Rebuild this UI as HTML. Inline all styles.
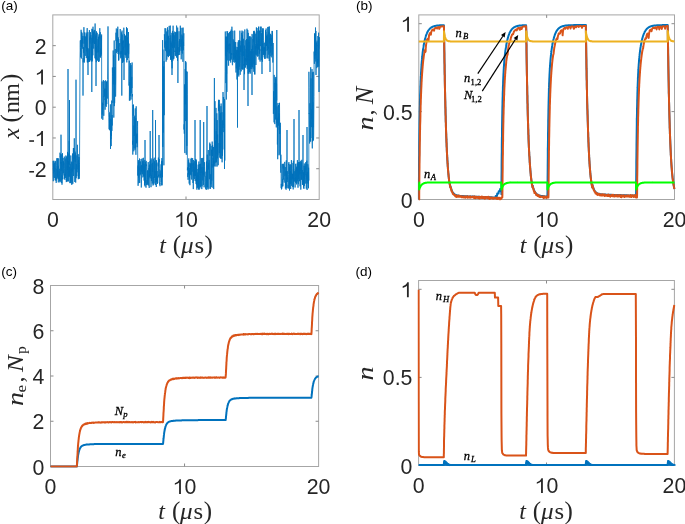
<!DOCTYPE html>
<html><head><meta charset="utf-8"><style>
html,body{margin:0;padding:0;background:#fff;}
svg{display:block;will-change:transform;}
.tk{font-family:"Liberation Sans",sans-serif;font-size:21.3px;fill:#262626;}
.pl{font-family:"Liberation Sans",sans-serif;font-size:13.5px;fill:#000;}
.lab{font-family:"Liberation Serif",serif;font-size:24.5px;fill:#262626;}
.it{font-style:italic;}
.an{font-family:"Liberation Serif",serif;font-style:italic;font-size:12px;fill:#000;stroke:#000;stroke-width:0.3px;}
.sub{font-size:9px;}
</style></head><body>
<svg width="685" height="524" viewBox="0 0 685 524">
<rect width="685" height="524" fill="#fff"/>
<rect x="52.8" y="14.9" width="266.40" height="184.60" fill="none" stroke="#a6a6a6" stroke-width="1"/>
<line x1="52.8" y1="168.73" x2="55.8" y2="168.73" stroke="#8a8a8a" stroke-width="1"/>
<line x1="319.2" y1="168.73" x2="316.2" y2="168.73" stroke="#8a8a8a" stroke-width="1"/>
<line x1="52.8" y1="137.97" x2="55.8" y2="137.97" stroke="#8a8a8a" stroke-width="1"/>
<line x1="319.2" y1="137.97" x2="316.2" y2="137.97" stroke="#8a8a8a" stroke-width="1"/>
<line x1="52.8" y1="107.20" x2="55.8" y2="107.20" stroke="#8a8a8a" stroke-width="1"/>
<line x1="319.2" y1="107.20" x2="316.2" y2="107.20" stroke="#8a8a8a" stroke-width="1"/>
<line x1="52.8" y1="76.43" x2="55.8" y2="76.43" stroke="#8a8a8a" stroke-width="1"/>
<line x1="319.2" y1="76.43" x2="316.2" y2="76.43" stroke="#8a8a8a" stroke-width="1"/>
<line x1="52.8" y1="45.67" x2="55.8" y2="45.67" stroke="#8a8a8a" stroke-width="1"/>
<line x1="319.2" y1="45.67" x2="316.2" y2="45.67" stroke="#8a8a8a" stroke-width="1"/>
<line x1="186.00" y1="199.5" x2="186.00" y2="196.5" stroke="#8a8a8a" stroke-width="1"/>
<line x1="186.00" y1="14.9" x2="186.00" y2="17.9" stroke="#8a8a8a" stroke-width="1"/>
<rect x="418.8" y="14.9" width="255.70" height="184.60" fill="none" stroke="#a6a6a6" stroke-width="1"/>
<line x1="418.8" y1="111.60" x2="421.8" y2="111.60" stroke="#8a8a8a" stroke-width="1"/>
<line x1="674.5" y1="111.60" x2="671.5" y2="111.60" stroke="#8a8a8a" stroke-width="1"/>
<line x1="418.8" y1="23.69" x2="421.8" y2="23.69" stroke="#8a8a8a" stroke-width="1"/>
<line x1="674.5" y1="23.69" x2="671.5" y2="23.69" stroke="#8a8a8a" stroke-width="1"/>
<line x1="546.65" y1="199.5" x2="546.65" y2="196.5" stroke="#8a8a8a" stroke-width="1"/>
<line x1="546.65" y1="14.9" x2="546.65" y2="17.9" stroke="#8a8a8a" stroke-width="1"/>
<rect x="50.5" y="285.5" width="268.10" height="181.00" fill="none" stroke="#a6a6a6" stroke-width="1"/>
<line x1="50.5" y1="421.25" x2="53.5" y2="421.25" stroke="#8a8a8a" stroke-width="1"/>
<line x1="318.6" y1="421.25" x2="315.6" y2="421.25" stroke="#8a8a8a" stroke-width="1"/>
<line x1="50.5" y1="376.00" x2="53.5" y2="376.00" stroke="#8a8a8a" stroke-width="1"/>
<line x1="318.6" y1="376.00" x2="315.6" y2="376.00" stroke="#8a8a8a" stroke-width="1"/>
<line x1="50.5" y1="330.75" x2="53.5" y2="330.75" stroke="#8a8a8a" stroke-width="1"/>
<line x1="318.6" y1="330.75" x2="315.6" y2="330.75" stroke="#8a8a8a" stroke-width="1"/>
<line x1="184.55" y1="466.5" x2="184.55" y2="463.5" stroke="#8a8a8a" stroke-width="1"/>
<line x1="184.55" y1="285.5" x2="184.55" y2="288.5" stroke="#8a8a8a" stroke-width="1"/>
<rect x="418.6" y="280.5" width="255.80" height="185.00" fill="none" stroke="#a6a6a6" stroke-width="1"/>
<line x1="418.6" y1="377.40" x2="421.6" y2="377.40" stroke="#8a8a8a" stroke-width="1"/>
<line x1="674.4" y1="377.40" x2="671.4" y2="377.40" stroke="#8a8a8a" stroke-width="1"/>
<line x1="418.6" y1="289.31" x2="421.6" y2="289.31" stroke="#8a8a8a" stroke-width="1"/>
<line x1="674.4" y1="289.31" x2="671.4" y2="289.31" stroke="#8a8a8a" stroke-width="1"/>
<line x1="546.50" y1="465.5" x2="546.50" y2="462.5" stroke="#8a8a8a" stroke-width="1"/>
<line x1="546.50" y1="280.5" x2="546.50" y2="283.5" stroke="#8a8a8a" stroke-width="1"/>
<clipPath id="cpa"><rect x="51.599999999999994" y="13.700000000000001" width="268.79999999999995" height="187.0"/></clipPath><g clip-path="url(#cpa)"><polyline points="53.0,160.8 53.1,171.3 53.3,181.2 53.4,160.8 53.6,173.4 53.7,170.5 53.8,164.5 54.0,177.6 54.1,170.6 54.3,171.5 54.4,162.7 54.5,169.8 54.7,172.6 54.8,178.0 55.0,160.8 55.1,164.6 55.2,180.3 55.4,161.3 55.5,162.7 55.7,164.3 55.8,166.3 55.9,180.6 56.1,168.8 56.2,182.9 56.4,177.2 56.5,179.1 56.6,165.4 56.8,159.8 56.9,158.1 57.1,169.4 57.2,176.4 57.3,159.1 57.5,177.7 57.6,162.3 57.8,158.0 57.9,176.0 58.0,179.2 58.2,165.5 58.3,182.4 58.5,166.2 58.6,165.5 58.7,158.5 58.9,167.8 59.0,179.1 59.2,171.4 59.3,175.2 59.4,181.2 59.6,173.5 59.7,168.8 59.9,182.4 60.0,152.7 60.1,157.1 60.3,156.5 60.4,163.8 60.6,181.5 60.7,157.0 60.8,154.2 61.0,163.6 61.0,134.7 61.1,170.7 61.3,162.7 61.4,163.6 61.5,162.4 61.7,183.0 61.8,154.5 62.0,184.7 62.1,175.7 62.2,179.3 62.4,156.5 62.5,153.2 62.7,176.9 62.8,178.2 62.9,179.2 63.1,158.0 63.2,169.7 63.4,173.2 63.5,161.3 63.6,165.1 63.8,162.9 63.9,167.0 64.1,175.4 64.2,161.9 64.3,156.6 64.5,168.3 64.6,179.5 64.8,174.2 64.9,178.1 65.0,174.5 65.2,177.9 65.3,158.5 65.5,175.9 65.6,171.7 65.7,168.1 65.9,155.5 66.0,180.0 66.2,179.6 66.3,182.1 66.4,182.0 66.6,156.5 66.7,168.3 66.9,181.2 67.0,173.6 67.1,170.7 67.3,157.9 67.4,181.5 67.6,151.9 67.7,167.4 67.8,153.0 68.0,170.0 68.0,69.0 68.1,165.9 68.3,176.1 68.4,161.4 68.5,181.4 68.7,166.5 68.8,176.9 69.0,154.2 69.1,164.0 69.2,140.8 69.4,164.8 69.5,100.0 69.5,176.5 69.7,167.1 69.8,183.1 69.9,182.1 70.1,165.5 70.2,164.1 70.4,171.3 70.5,174.4 70.6,183.1 70.8,155.5 70.9,181.5 71.1,172.0 71.2,164.4 71.3,161.6 71.5,162.7 71.6,168.3 71.8,184.9 71.9,167.8 72.0,183.8 72.2,162.3 72.3,171.6 72.5,153.5 72.6,171.2 72.7,182.5 72.9,183.7 73.0,167.5 73.2,164.6 73.3,152.0 73.4,148.0 73.6,176.0 73.7,163.4 73.9,148.2 74.0,169.3 74.1,165.3 74.3,138.3 74.4,158.5 74.6,155.0 74.7,162.5 74.8,182.0 75.0,157.0 75.1,151.6 75.3,161.8 75.4,153.2 75.5,171.8 75.7,182.6 75.8,172.8 76.0,158.5 76.0,79.7 76.1,175.7 76.2,178.2 76.4,164.1 76.5,164.9 76.7,165.7 76.8,176.2 76.9,155.4 77.1,172.3 77.2,160.5 77.4,144.8 77.5,152.1 77.6,155.2 77.8,158.0 77.9,169.3 78.1,163.1 78.2,154.2 78.3,179.2 78.5,159.8 78.6,178.4 78.8,163.0 78.9,175.7 79.0,157.0 79.2,174.6 79.3,178.8 79.5,164.3 80.0,59.0 80.2,47.5 80.3,40.5 80.4,47.5 80.6,52.3 80.7,57.4 80.9,40.0 81.0,40.8 81.1,29.8 81.3,45.3 81.4,58.5 81.6,49.0 81.7,31.9 81.8,46.7 82.0,33.2 82.1,38.2 82.3,48.7 82.4,38.3 82.5,40.0 82.7,43.3 82.8,35.9 83.0,61.3 83.0,95.6 83.1,58.2 83.2,62.3 83.4,60.9 83.5,47.2 83.7,52.8 83.8,49.6 83.9,27.2 84.1,43.8 84.2,36.1 84.4,62.5 84.5,61.7 84.6,32.4 84.8,39.6 84.9,36.1 85.1,39.6 85.2,43.0 85.3,55.9 85.5,46.0 85.6,36.8 85.8,37.7 85.9,47.4 86.0,38.4 86.2,32.6 86.3,58.1 86.5,53.0 86.6,34.4 86.7,35.3 86.9,51.3 87.0,35.5 87.2,28.1 87.3,62.3 87.4,47.7 87.6,59.4 87.7,62.3 87.9,32.2 88.0,75.0 88.0,48.1 88.1,53.1 88.3,60.1 88.4,62.1 88.6,56.1 88.7,59.2 88.8,58.5 89.0,49.3 89.1,52.4 89.3,61.9 89.4,30.1 89.5,61.3 89.7,37.7 89.8,42.8 90.0,43.5 90.1,36.4 90.2,37.0 90.4,39.2 90.5,32.2 90.7,60.3 90.8,58.3 90.9,35.1 91.1,53.6 91.2,61.5 91.4,59.9 91.5,46.6 91.6,57.5 91.8,37.8 91.8,92.0 91.9,28.8 92.1,48.2 92.2,61.4 92.3,60.8 92.5,53.3 92.6,29.4 92.8,54.2 92.9,55.3 93.0,26.7 93.2,42.6 93.3,36.0 93.5,39.1 93.6,32.5 93.7,48.6 93.9,30.6 94.0,33.4 94.2,32.4 94.3,34.1 94.4,44.0 94.6,39.7 94.7,29.9 94.9,32.7 95.0,58.3 95.1,23.5 95.3,42.3 95.4,51.4 95.6,35.7 95.7,47.2 95.8,59.4 96.0,33.6 96.0,86.0 96.1,47.1 96.3,62.2 96.4,54.2 96.5,31.3 96.7,37.6 96.8,40.9 97.0,52.6 97.1,36.9 97.2,32.8 97.4,57.1 97.5,60.6 97.7,52.1 97.8,46.0 97.9,46.2 98.1,39.1 98.2,52.4 98.4,41.3 98.5,36.7 98.6,62.0 98.8,58.3 98.9,34.4 99.1,51.9 99.2,61.4 99.3,53.1 99.5,34.2 99.6,38.4 99.8,28.2 99.9,49.6 100.0,57.2 100.2,54.5 100.3,32.2 100.5,39.2 100.6,57.6 100.7,48.6 100.9,56.0 101.0,53.7 101.2,48.8 101.3,36.0 101.4,54.4 101.6,34.5 101.7,118.6 101.9,115.4 102.0,88.1 102.1,81.5 102.3,114.4 102.4,113.4 102.6,102.7 102.7,104.2 102.8,119.8 103.0,104.0 103.1,104.8 103.3,83.5 103.4,80.1 103.5,89.3 103.7,104.7 103.8,115.8 104.0,95.9 104.1,97.3 104.2,81.1 104.4,95.9 104.5,91.0 104.7,88.7 104.8,99.7 104.9,98.6 105.1,109.7 105.2,104.2 105.4,80.3 105.5,90.8 105.6,102.8 105.8,105.7 105.9,88.7 106.1,104.5 106.2,106.9 106.3,93.5 106.5,81.8 106.6,98.8 106.8,104.1 106.9,83.8 107.0,80.9 107.2,81.8 107.3,98.6 107.5,79.5 108.0,26.4 108.6,111.3 108.7,110.9 108.9,117.3 109.0,123.2 109.1,129.3 109.3,113.2 109.4,112.4 109.6,129.8 109.7,115.3 109.8,129.2 110.0,125.3 110.1,130.5 110.3,117.4 110.4,104.4 110.5,149.0 110.5,121.4 110.7,119.3 110.8,139.1 111.0,139.1 111.1,126.3 111.2,146.1 111.4,119.9 111.5,135.8 111.7,100.6 111.8,119.9 111.9,130.9 112.1,115.0 112.2,125.5 112.4,67.5 112.5,73.4 112.6,76.5 112.8,100.6 112.9,102.9 113.1,87.6 113.2,50.5 113.3,84.4 113.5,62.5 113.6,55.3 113.8,117.6 113.9,109.9 114.0,86.9 114.2,40.5 114.3,106.1 114.5,70.0 114.6,103.2 114.7,101.2 114.9,67.0 115.0,84.7 115.2,51.9 115.3,49.0 115.4,58.8 115.6,96.6 115.7,91.9 115.9,78.0 116.0,32.7 116.1,41.1 116.3,28.5 116.4,29.7 116.6,53.1 116.7,51.2 116.8,40.2 117.0,44.8 117.1,51.9 117.3,48.3 117.4,38.7 117.5,29.1 117.7,41.4 117.8,26.7 118.0,44.0 118.1,54.0 118.2,37.4 118.4,41.5 118.5,60.4 118.7,39.1 118.8,60.4 118.9,59.6 119.1,52.9 119.2,51.3 119.4,47.5 119.5,46.8 119.6,44.0 119.8,43.0 119.9,52.7 120.1,54.5 120.2,29.0 120.3,38.0 120.5,38.2 120.6,54.5 120.8,58.3 120.9,51.5 121.0,57.4 121.2,51.1 121.3,53.8 121.5,53.4 121.6,32.4 121.7,61.8 121.8,95.6 121.9,42.1 122.0,30.6 122.2,45.5 122.3,34.6 122.4,62.6 122.6,41.0 122.7,62.8 122.9,51.6 123.0,40.8 123.1,43.2 123.3,40.5 123.4,49.5 123.6,46.8 123.7,61.6 123.8,27.7 124.0,35.8 124.0,80.0 124.1,40.3 124.3,39.1 124.4,36.7 124.5,34.0 124.7,41.9 124.8,54.8 125.0,44.9 125.1,35.8 125.2,47.3 125.4,36.2 125.5,35.7 125.7,55.4 125.8,38.9 125.9,57.8 126.1,52.9 126.2,54.9 126.4,41.1 126.5,27.2 126.6,47.9 126.8,62.4 126.9,28.1 127.1,40.2 127.2,28.5 127.3,60.0 127.5,37.3 127.6,48.3 127.8,48.5 127.9,52.9 128.0,47.6 128.2,41.5 128.3,58.1 128.5,32.0 128.6,54.2 128.7,51.1 128.9,43.6 129.0,85.6 129.2,71.4 129.3,60.7 129.4,100.6 129.6,82.0 129.7,88.1 129.9,90.2 130.0,100.5 130.1,66.0 130.3,66.2 130.4,95.9 130.6,63.1 130.7,89.5 130.8,79.8 131.0,99.5 131.1,65.1 131.3,93.4 131.4,78.0 131.5,80.4 131.7,76.9 131.8,88.0 132.0,88.1 132.1,62.5 132.2,96.5 132.4,94.0 132.5,144.6 132.7,140.8 132.8,154.6 132.9,146.1 133.1,104.9 133.2,115.6 133.4,110.2 133.5,104.6 133.6,118.8 133.8,151.3 133.9,125.5 134.1,148.3 134.2,117.1 134.3,136.0 134.5,132.2 134.6,118.5 134.8,115.7 134.9,119.4 135.0,149.9 135.2,109.5 135.3,108.4 135.5,148.3 135.6,129.5 135.7,118.1 135.9,154.8 136.0,131.8 136.2,106.3 136.3,111.2 136.4,142.6 136.6,134.6 136.7,143.4 136.9,139.5 137.0,133.5 137.1,147.2 137.3,143.8 137.4,126.7 137.6,121.1 137.7,166.8 137.8,175.6 138.0,165.6 138.1,185.8 138.3,165.9 138.4,160.1 138.5,177.5 138.7,161.6 138.8,183.2 139.0,183.0 139.1,177.1 139.2,167.9 139.4,170.2 139.5,158.5 139.7,182.9 139.8,180.3 139.9,171.6 140.1,166.3 140.2,175.3 140.4,161.4 140.5,163.2 140.6,164.2 140.8,174.0 140.9,172.6 141.1,159.0 141.2,173.9 141.3,187.5 141.5,179.7 141.6,165.4 141.8,172.2 141.9,165.0 142.0,170.8 142.2,158.4 142.3,159.6 142.5,174.2 142.6,163.3 142.7,161.5 142.9,177.4 143.0,175.4 143.2,161.3 143.3,170.4 143.4,157.8 143.6,176.4 143.7,169.8 143.9,166.9 144.0,174.4 144.1,180.6 144.3,164.8 144.4,164.3 144.6,185.2 144.7,161.1 144.8,160.1 145.0,186.4 145.0,140.0 145.1,182.9 145.3,178.0 145.4,179.8 145.5,162.0 145.7,170.9 145.8,180.7 146.0,187.7 146.1,176.9 146.2,160.9 146.4,166.0 146.5,164.5 146.7,170.6 146.8,185.0 146.9,181.0 147.1,180.0 147.2,184.8 147.4,170.3 147.5,172.0 147.6,183.7 147.8,180.3 147.9,170.9 148.1,179.5 148.2,162.1 148.3,185.5 148.5,184.1 148.6,179.2 148.8,171.1 148.9,168.2 149.0,175.4 149.2,187.9 149.3,165.4 149.5,169.6 149.6,177.2 149.7,164.5 149.9,170.8 150.0,161.1 150.2,178.4 150.2,131.0 150.3,175.4 150.4,165.2 150.6,166.9 150.7,175.4 150.9,159.8 151.0,187.2 151.1,158.4 151.3,162.6 151.4,181.1 151.6,175.2 151.7,179.1 151.8,177.4 152.0,171.7 152.1,164.2 152.3,183.5 152.4,162.8 152.5,166.1 152.7,171.9 152.7,110.0 152.8,171.8 153.0,185.5 153.1,181.5 153.2,161.0 153.4,159.2 153.5,176.4 153.7,184.8 153.8,183.9 153.9,176.5 154.1,183.4 154.2,157.7 154.4,177.7 154.5,161.3 154.6,176.6 154.8,177.7 154.9,177.5 155.1,171.2 155.2,180.0 155.3,179.5 155.5,185.1 155.5,120.0 155.6,159.1 155.8,168.9 155.9,172.1 156.0,181.8 156.2,163.7 156.3,187.0 156.5,160.2 156.6,176.3 156.7,163.5 156.9,181.9 157.0,173.8 157.2,171.1 157.3,177.5 157.4,183.9 157.6,176.1 157.7,183.1 157.9,177.7 158.0,173.0 158.1,162.5 158.3,166.3 158.4,157.6 158.6,176.3 158.7,174.7 158.8,177.5 159.0,175.5 159.0,135.0 159.1,162.1 159.3,159.1 159.4,168.3 159.5,171.2 159.7,184.5 159.8,182.6 160.0,186.2 160.1,171.7 160.2,170.5 160.4,177.7 160.5,173.8 160.7,176.1 160.8,173.1 160.9,171.0 161.1,164.3 161.2,182.0 161.4,163.5 161.5,161.2 161.6,185.3 161.8,182.4 161.9,158.1 162.1,185.3 162.2,169.8 162.3,160.8 162.5,177.2 162.6,40.1 162.8,146.9 162.9,49.5 163.0,50.1 163.2,132.6 163.3,92.1 163.5,108.5 163.6,66.5 163.7,107.2 163.9,165.3 164.0,61.2 164.2,115.2 164.3,70.9 164.4,34.3 164.6,38.1 164.7,47.5 164.9,39.1 165.0,28.2 165.1,44.3 165.3,41.5 165.4,50.8 165.6,46.6 165.7,43.7 165.8,28.4 166.0,38.9 166.1,61.7 166.3,40.4 166.4,51.9 166.5,52.3 166.7,31.5 166.8,59.8 167.0,55.4 167.1,55.3 167.2,46.4 167.4,49.0 167.5,27.3 167.7,56.1 167.8,37.1 167.9,29.9 168.1,56.4 168.2,37.2 168.4,37.7 168.5,57.1 168.6,35.8 168.8,38.2 168.9,37.5 169.1,37.1 169.2,25.9 169.3,56.0 169.5,55.5 169.6,49.5 169.8,52.7 169.9,38.1 170.0,54.6 170.2,28.6 170.3,25.6 170.5,59.8 170.6,53.7 170.7,35.3 170.9,58.7 171.0,41.6 171.2,46.7 171.3,43.2 171.4,56.8 171.6,61.7 171.7,41.0 171.9,32.9 172.0,75.0 172.0,56.0 172.1,68.3 172.3,33.8 172.4,31.7 172.6,30.9 172.7,48.1 172.8,33.2 173.0,60.5 173.1,25.7 173.3,58.7 173.4,42.9 173.5,33.2 173.7,45.1 173.8,58.8 174.0,57.5 174.1,52.8 174.2,36.3 174.4,35.4 174.5,47.7 174.7,31.6 174.8,45.2 174.9,52.0 175.1,50.6 175.2,55.6 175.4,46.5 175.5,41.2 175.6,32.3 175.8,56.1 175.9,41.3 176.1,32.0 176.2,40.8 176.3,48.5 176.5,57.6 176.6,25.6 176.8,29.5 176.9,30.2 177.0,37.3 177.2,53.8 177.3,31.5 177.5,60.9 177.6,35.9 177.7,27.6 177.9,48.3 177.9,83.0 178.0,55.9 178.2,46.7 178.3,55.2 178.4,53.9 178.6,54.5 178.7,47.1 178.9,40.6 179.0,31.3 179.1,46.2 179.3,40.7 179.4,52.1 179.6,39.0 179.7,54.9 179.8,46.4 180.0,50.7 180.1,42.6 180.3,25.7 180.4,34.5 180.5,44.7 180.7,46.7 180.8,27.8 181.0,43.0 181.1,46.8 181.2,59.3 181.4,53.8 181.5,39.3 181.7,48.4 181.8,34.6 181.9,50.7 182.1,27.9 182.2,51.1 182.4,53.6 182.5,35.8 182.6,48.0 182.8,47.5 182.9,61.8 183.1,27.6 183.2,37.1 183.3,50.2 183.5,41.8 183.6,46.0 183.8,33.3 183.9,51.2 184.0,129.5 184.2,124.3 184.3,133.7 184.5,84.4 184.6,117.7 184.7,149.9 184.9,153.1 185.0,121.2 185.2,69.0 185.3,80.4 185.4,104.3 185.6,61.1 185.7,121.1 185.9,96.8 186.0,62.3 186.1,133.4 186.3,154.8 186.4,132.1 186.6,126.3 186.7,71.3 186.8,145.9 187.0,74.7 187.1,71.8 187.3,94.3 187.4,170.4 187.5,167.5 187.7,170.3 187.8,176.9 188.0,173.2 188.1,179.8 188.2,170.0 188.4,160.2 188.5,174.5 188.7,159.4 188.8,158.4 188.9,172.2 189.1,162.6 189.2,183.6 189.4,170.2 189.5,173.7 189.6,178.6 189.8,168.0 189.9,185.2 190.1,163.7 190.2,166.9 190.3,165.3 190.5,164.8 190.6,174.7 190.8,163.3 190.9,169.6 191.0,158.9 191.2,175.4 191.3,157.9 191.5,170.8 191.6,179.5 191.7,177.9 191.9,165.1 192.0,163.1 192.2,171.7 192.3,166.6 192.4,163.8 192.6,158.1 192.7,159.2 192.9,178.8 193.0,183.0 193.1,163.5 193.3,189.1 193.4,160.0 193.6,175.1 193.7,176.1 193.8,162.8 194.0,172.7 194.1,167.2 194.3,171.3 194.4,179.1 194.5,174.2 194.7,161.2 194.8,176.0 195.0,157.7 195.0,120.0 195.1,171.3 195.2,181.0 195.4,170.5 195.5,175.9 195.7,158.9 195.8,170.3 195.9,160.5 196.1,184.1 196.2,159.7 196.4,182.3 196.5,161.9 196.6,184.6 196.8,180.1 196.9,189.7 197.1,169.0 197.2,188.1 197.3,175.5 197.5,180.8 197.6,172.5 197.8,184.3 197.9,187.0 198.0,174.5 198.2,164.6 198.3,180.3 198.5,189.4 198.6,168.2 198.7,186.0 198.9,161.5 199.0,180.7 199.2,189.7 199.3,182.9 199.4,175.4 199.6,164.1 199.7,167.6 199.9,188.4 200.0,181.7 200.1,170.0 200.2,120.0 200.3,187.0 200.4,169.8 200.6,163.8 200.7,170.2 200.8,186.0 201.0,182.9 201.1,167.0 201.3,172.9 201.4,158.1 201.5,177.0 201.7,186.7 201.8,189.1 202.0,171.0 202.1,186.4 202.2,168.3 202.4,158.2 202.5,172.4 202.7,178.1 202.8,180.4 202.9,167.1 203.1,174.8 203.2,157.8 203.4,184.9 203.5,169.9 203.6,174.2 203.7,122.0 203.8,159.9 203.9,175.4 204.1,187.3 204.2,182.7 204.3,175.3 204.5,166.4 204.6,162.2 204.8,172.1 204.9,176.5 205.0,171.7 205.2,177.5 205.3,181.6 205.5,188.8 205.6,188.7 205.7,176.7 205.9,176.2 206.0,178.5 206.2,189.7 206.3,190.0 206.4,169.9 206.6,161.5 206.7,177.0 206.9,186.8 207.0,106.0 207.0,188.6 207.1,175.0 207.3,154.7 207.4,183.0 207.6,187.1 207.7,165.6 207.8,171.5 208.0,189.5 208.1,181.4 208.3,150.0 208.4,169.4 208.5,168.7 208.7,162.8 208.8,167.1 209.0,188.7 209.1,159.9 209.2,162.1 209.4,178.2 209.5,179.2 209.7,146.5 209.8,142.6 209.9,155.7 210.1,144.1 210.2,163.0 210.4,188.9 210.5,185.2 210.6,176.1 210.8,174.2 210.9,184.2 211.1,145.8 211.2,146.7 211.3,187.2 211.5,149.7 211.6,167.3 211.8,180.6 211.9,164.0 212.0,167.7 212.2,141.6 212.3,145.7 212.5,156.1 212.6,145.2 212.7,160.6 212.9,187.8 213.0,157.8 213.2,165.3 213.3,166.3 213.4,147.0 213.6,179.8 213.7,189.1 213.9,161.1 214.0,164.1 214.1,147.3 214.3,145.2 214.4,78.0 214.4,166.4 214.6,118.0 214.7,139.4 214.8,123.6 215.0,101.2 215.1,128.1 215.3,130.7 215.4,162.6 215.5,140.6 215.7,145.6 215.8,166.5 216.0,107.9 216.1,139.1 216.2,148.0 216.4,131.2 216.5,162.3 216.7,154.7 216.8,113.3 216.9,141.2 217.1,166.5 217.2,120.1 217.4,137.1 217.5,158.3 217.6,134.5 217.8,155.4 217.9,143.0 218.1,158.1 218.2,165.2 218.3,108.6 218.5,100.3 218.6,111.1 218.8,107.0 218.9,99.7 219.0,100.0 219.0,109.4 219.2,100.0 219.3,153.1 219.5,104.5 219.6,123.5 219.7,150.9 219.9,157.4 220.0,114.2 220.2,158.1 220.3,143.0 220.4,147.3 220.6,112.8 220.7,158.7 220.9,106.1 221.0,135.1 221.1,103.5 221.3,123.6 221.4,125.1 221.6,149.6 221.7,158.7 221.8,139.9 222.0,112.2 222.1,162.3 222.3,140.6 222.4,120.4 222.5,155.9 222.7,148.0 222.8,123.4 223.0,128.0 223.0,92.0 223.1,100.5 223.2,124.9 223.4,97.0 223.5,99.3 223.7,97.5 223.8,132.1 223.9,101.3 224.1,115.7 224.2,149.4 224.4,124.6 224.5,169.0 224.6,99.1 224.8,160.6 224.9,99.4 225.1,71.8 225.2,49.3 225.3,31.5 225.5,56.5 225.6,36.7 225.8,80.2 225.9,83.1 226.0,56.9 226.2,66.7 226.3,99.5 226.5,36.6 226.6,73.8 226.7,41.3 226.9,91.9 227.0,31.1 227.2,37.1 227.3,60.4 227.4,49.2 227.6,31.5 227.7,51.7 227.9,33.3 228.0,46.8 228.1,49.6 228.3,33.3 228.4,46.8 228.6,65.7 228.7,54.0 228.8,51.5 229.0,44.8 229.1,53.4 229.3,43.5 229.4,45.8 229.5,31.9 229.7,46.7 229.8,60.5 230.0,58.8 230.1,44.0 230.2,60.7 230.4,34.7 230.5,31.2 230.7,62.6 230.8,50.8 230.9,44.7 231.1,42.3 231.2,29.6 231.4,59.5 231.5,58.7 231.6,53.0 231.8,55.0 231.9,26.7 232.1,32.4 232.2,34.5 232.3,64.3 232.5,65.2 232.6,64.1 232.8,58.2 232.9,30.8 233.0,51.3 233.2,62.1 233.3,39.4 233.5,54.2 233.6,59.0 233.7,53.1 233.9,60.1 234.0,41.7 234.2,41.8 234.3,41.5 234.4,45.0 234.6,62.6 234.7,30.6 234.9,58.6 235.0,42.1 235.1,48.8 235.3,46.8 235.4,54.3 235.6,62.0 235.7,42.1 235.8,56.5 236.0,72.5 236.1,46.8 236.3,61.4 236.4,68.4 236.5,50.2 236.7,49.8 236.8,70.3 237.0,79.5 237.1,57.7 237.2,53.6 237.4,50.1 237.5,127.6 237.5,54.3 237.7,47.0 237.8,49.3 237.9,70.6 238.1,42.2 238.2,74.8 238.4,40.3 238.5,46.7 238.6,56.0 238.8,76.5 238.9,44.5 239.1,69.7 239.2,51.9 239.3,59.8 239.5,40.0 239.6,66.7 239.8,58.8 239.9,30.7 240.0,57.3 240.2,74.8 240.3,63.7 240.5,55.2 240.6,45.5 240.7,51.8 240.9,40.8 241.0,54.1 241.2,71.4 241.3,69.2 241.4,37.9 241.6,36.6 241.7,32.8 241.9,69.0 242.0,30.6 242.1,56.2 242.3,49.4 242.4,35.3 242.6,69.5 242.7,44.3 242.8,33.5 243.0,31.4 243.1,69.5 243.3,66.5 243.4,38.8 243.5,43.8 243.7,53.2 243.8,56.0 244.0,51.5 244.0,90.0 244.1,64.0 244.2,65.7 244.4,45.6 244.5,74.2 244.7,50.7 244.8,29.5 244.9,67.2 245.1,64.3 245.2,60.7 245.4,58.1 245.5,65.3 245.6,67.6 245.8,40.2 245.9,60.8 246.1,49.1 246.2,58.4 246.3,61.7 246.5,39.0 246.6,65.2 246.8,42.9 246.9,55.3 247.0,28.7 247.2,68.9 247.3,47.6 247.5,67.5 247.6,39.1 247.7,30.0 247.9,31.5 248.0,106.0 248.0,39.0 248.2,73.6 248.3,32.9 248.4,60.6 248.6,49.0 248.7,63.1 248.9,73.7 249.0,36.7 249.1,55.3 249.3,69.7 249.4,42.2 249.6,72.1 249.7,36.4 249.8,61.2 250.0,59.1 250.1,36.3 250.3,73.6 250.4,51.2 250.5,53.7 250.7,68.9 250.8,57.7 251.0,39.2 251.1,37.3 251.2,44.0 251.4,66.5 251.5,56.3 251.7,49.0 251.8,69.1 251.9,51.6 252.0,95.0 252.1,33.9 252.2,58.8 252.4,51.4 252.5,67.3 252.6,45.6 252.8,50.5 252.9,39.0 253.1,64.2 253.2,35.4 253.3,36.7 253.5,42.2 253.6,31.2 253.8,71.8 253.9,51.0 254.0,68.8 254.2,30.8 254.3,61.3 254.5,74.2 254.6,54.8 254.7,31.8 254.9,74.5 255.0,64.1 255.2,46.5 255.3,33.7 255.4,43.7 255.6,54.6 255.7,46.0 255.9,65.0 256.0,61.2 256.1,44.1 256.3,48.3 256.4,27.4 256.6,55.5 256.7,37.5 256.8,47.0 257.0,28.0 257.1,34.3 257.3,42.3 257.4,53.6 257.5,44.3 257.7,56.7 257.8,30.8 258.0,56.0 258.1,49.0 258.2,40.4 258.4,48.2 258.5,26.9 258.7,49.6 258.8,26.6 258.9,30.7 259.1,59.6 259.2,39.3 259.4,53.7 259.5,30.6 259.6,34.2 259.8,51.2 259.9,49.2 260.1,61.6 260.2,31.2 260.3,44.3 260.5,46.1 260.6,36.4 260.8,26.7 260.9,31.8 261.0,26.7 261.2,40.4 261.3,60.0 261.5,45.9 261.6,33.2 261.7,41.0 261.9,57.6 262.0,74.0 262.0,57.9 262.2,30.6 262.3,61.7 262.4,28.4 262.6,36.2 262.7,50.6 262.9,50.1 263.0,43.1 263.1,54.9 263.3,28.4 263.4,40.2 263.6,40.6 263.7,54.7 263.8,54.6 264.0,47.1 264.1,57.3 264.3,56.5 264.4,47.3 264.5,58.8 264.7,42.7 264.8,54.1 265.0,48.3 265.1,55.1 265.2,47.5 265.4,40.8 265.5,30.2 265.7,58.8 265.8,32.0 265.9,50.9 266.1,28.5 266.2,36.4 266.4,45.3 266.5,46.0 266.6,35.9 266.8,42.3 266.9,36.7 267.1,57.9 267.2,34.5 267.3,36.6 267.5,50.3 267.6,49.8 267.8,27.1 267.9,35.7 268.0,58.6 268.2,32.3 268.3,26.8 268.5,48.4 268.6,47.0 268.7,50.3 268.9,54.7 269.0,31.8 269.2,49.0 269.3,61.0 269.4,26.5 269.6,34.9 269.7,43.4 269.9,38.2 270.0,72.0 270.0,39.2 270.1,37.5 270.3,33.8 270.4,52.6 270.6,52.1 270.7,34.3 270.8,56.3 271.0,38.3 271.1,35.2 271.3,37.9 271.4,46.0 271.5,38.0 271.7,57.3 271.8,56.3 272.0,32.6 272.1,30.9 272.2,54.7 272.4,31.2 272.5,32.1 272.7,56.6 272.8,62.5 272.9,61.6 273.1,44.1 273.2,43.0 273.4,113.8 273.5,94.0 273.6,91.3 273.8,101.6 273.9,111.7 274.1,122.4 274.2,74.9 274.3,106.7 274.5,98.2 274.6,97.2 274.8,124.1 274.9,82.9 275.0,109.7 275.2,77.4 275.3,87.6 275.5,89.2 275.6,119.5 275.7,79.0 275.9,96.3 276.0,76.9 276.2,81.3 276.3,127.4 276.4,83.4 276.6,83.6 276.7,100.4 276.8,30.0 276.9,123.0 277.0,106.5 277.1,125.4 277.3,118.6 277.4,144.5 277.6,122.3 277.7,159.2 277.8,107.3 278.0,103.0 278.1,125.6 278.3,116.9 278.4,125.3 278.5,105.1 278.7,109.5 278.8,126.7 279.0,155.3 279.1,113.5 279.2,129.7 279.4,128.7 279.5,102.8 279.7,134.0 279.8,125.5 279.9,153.8 280.1,154.6 280.2,127.5 280.4,122.8 280.5,160.2 280.6,168.2 280.8,172.7 280.9,154.7 281.1,169.6 281.2,188.1 281.3,183.9 281.5,189.4 281.6,186.3 281.8,188.5 281.9,176.3 282.0,167.0 282.2,164.1 282.3,184.7 282.5,186.4 282.6,179.2 282.7,178.9 282.9,186.3 283.0,163.8 283.2,168.5 283.3,163.8 283.4,179.6 283.6,177.5 283.7,175.6 283.9,165.8 284.0,171.5 284.1,182.1 284.3,182.6 284.4,181.6 284.6,177.1 284.7,161.9 284.8,163.8 285.0,175.9 285.1,172.3 285.3,167.1 285.4,188.5 285.5,181.4 285.7,184.9 285.8,174.8 286.0,170.7 286.1,189.7 286.2,160.4 286.4,160.3 286.5,177.2 286.7,187.9 286.8,166.8 286.9,159.7 287.0,130.0 287.1,164.7 287.2,182.0 287.4,171.2 287.5,179.4 287.6,177.6 287.8,178.6 287.9,186.8 288.1,188.3 288.2,184.9 288.3,188.4 288.5,174.5 288.6,163.8 288.8,165.0 288.9,162.1 289.0,184.8 289.2,170.6 289.3,164.7 289.5,190.5 289.6,167.3 289.7,187.4 289.9,178.3 290.0,180.0 290.2,165.6 290.3,164.2 290.4,183.8 290.6,171.3 290.7,189.0 290.9,177.4 291.0,165.0 291.1,183.4 291.3,176.6 291.4,160.1 291.6,185.8 291.7,172.8 291.8,180.0 292.0,174.7 292.1,174.0 292.3,178.7 292.4,177.1 292.5,173.9 292.7,187.1 292.8,168.7 293.0,162.9 293.1,175.3 293.2,189.4 293.4,160.8 293.5,186.8 293.7,168.6 293.8,179.1 293.9,179.7 294.0,119.0 294.1,168.4 294.2,177.5 294.4,181.5 294.5,177.2 294.6,172.1 294.8,171.2 294.9,177.7 295.1,187.5 295.2,177.5 295.3,181.1 295.5,169.2 295.6,163.8 295.8,183.0 295.9,169.7 296.0,182.1 296.2,181.4 296.3,168.1 296.5,184.4 296.6,166.7 296.7,174.3 296.9,182.7 297.0,167.1 297.2,163.5 297.3,170.8 297.4,160.1 297.6,181.1 297.7,173.1 297.9,164.8 298.0,187.7 298.1,162.3 298.3,184.2 298.4,164.1 298.6,178.9 298.7,168.5 298.8,162.2 299.0,174.1 299.0,110.0 299.1,167.3 299.3,162.9 299.4,162.1 299.5,181.2 299.7,164.1 299.8,174.4 300.0,167.8 300.1,186.3 300.2,180.1 300.4,161.3 300.5,171.3 300.7,176.7 300.8,189.6 300.9,182.3 301.1,160.6 301.2,165.1 301.4,179.5 301.5,162.4 301.6,179.6 301.8,161.7 301.9,159.8 302.1,164.4 302.2,178.7 302.3,179.8 302.5,184.8 302.6,170.1 302.8,175.1 302.9,184.8 303.0,135.0 303.0,173.6 303.2,172.9 303.3,181.5 303.5,180.3 303.6,187.7 303.7,172.2 303.9,188.9 304.0,165.7 304.2,179.2 304.3,163.5 304.4,185.9 304.6,174.0 304.7,171.3 304.9,168.0 305.0,175.2 305.1,166.0 305.3,183.6 305.4,177.7 305.6,166.0 305.7,162.2 305.8,170.1 306.0,164.1 306.1,171.4 306.3,188.7 306.4,174.2 306.5,178.6 306.7,168.0 306.8,160.7 307.0,183.2 307.0,127.0 307.1,190.0 307.2,187.4 307.4,172.4 307.5,176.6 307.7,180.5 307.8,164.2 307.9,165.3 308.1,165.6 308.2,183.9 308.4,171.7 308.5,188.3 308.6,167.7 308.8,180.5 308.9,71.8 309.1,87.6 309.2,113.9 309.3,113.0 309.5,127.3 309.6,143.5 309.8,134.2 309.9,103.3 310.0,110.4 310.2,113.9 310.3,141.0 310.5,132.3 310.6,141.7 310.7,67.2 310.9,138.0 311.0,78.4 311.2,116.8 311.3,121.4 311.4,127.1 311.6,109.4 311.7,118.2 311.9,99.9 312.0,69.1 312.1,135.1 312.3,148.4 312.4,72.3 312.6,141.4 312.7,139.2 312.8,102.1 313.0,127.4 313.1,100.4 313.3,71.8 313.4,121.0 313.5,140.5 313.7,135.7 313.8,121.0 314.0,96.4 314.1,51.6 314.2,54.9 314.4,63.8 314.5,33.4 314.7,53.1 314.8,58.7 314.9,55.2 315.1,33.7 315.2,55.3 315.4,34.3 315.5,27.5 315.6,33.6 315.8,61.5 315.9,31.0 316.0,75.0 316.1,48.0 316.2,51.2 316.3,46.9 316.5,42.5 316.6,56.1 316.8,68.1 316.9,59.6 317.0,40.7 317.2,43.1 317.3,54.1 317.5,66.9 317.6,59.1 317.7,63.6 317.9,36.0 318.0,52.9 318.2,62.6 318.3,62.1 318.4,40.8 318.6,32.7 318.7,66.7 318.9,37.6 319.0,92.0 319.0,50.5 319.1,49.6 319.3,46.9 319.4,37.0" fill="none" stroke="#0072BD" stroke-width="0.8" stroke-linejoin="round"/></g>
<clipPath id="cpb"><rect x="417.6" y="13.700000000000001" width="258.09999999999997" height="187.0"/></clipPath><g clip-path="url(#cpb)"><polyline points="418.8,199.5 418.8,193.0 418.9,179.8 419.0,175.3 419.0,168.0 419.1,157.4 419.2,155.5 419.2,148.0 419.3,139.5 419.3,139.4 419.4,131.8 419.5,126.1 419.5,125.0 419.6,118.8 419.7,115.0 419.7,113.2 419.8,108.1 419.9,105.8 419.9,103.5 420.0,99.3 420.1,98.1 420.1,95.4 420.3,91.9 420.3,91.5 420.4,88.7 420.4,85.9 420.5,85.7 420.6,83.0 420.6,81.1 420.7,80.5 420.8,78.1 420.8,76.8 420.9,75.9 421.0,73.9 421.0,73.1 421.1,72.0 421.2,70.2 421.2,69.8 421.3,68.6 421.4,67.0 421.4,66.9 421.5,65.5 421.5,64.3 421.6,64.1 421.7,62.8 421.7,61.9 421.8,61.5 421.9,60.3 421.9,59.7 422.0,59.2 422.1,58.1 422.1,57.7 422.2,57.0 422.3,56.0 422.3,55.9 422.4,55.1 422.5,54.2 422.5,54.2 422.6,53.3 422.6,52.6 422.7,52.4 422.8,51.6 422.8,51.1 422.9,50.8 423.0,50.1 423.0,49.8 423.1,49.3 423.2,48.6 423.2,48.5 423.3,48.0 423.4,47.3 423.4,47.2 423.5,46.7 423.6,46.1 423.6,46.0 423.7,45.4 423.7,45.0 423.8,44.9 423.9,44.3 423.9,44.0 424.0,43.8 424.1,43.2 424.1,43.0 424.2,42.7 424.3,42.2 424.3,42.1 424.4,41.8 424.5,41.3 424.5,41.3 424.6,40.8 424.6,40.5 424.7,40.4 424.8,40.0 424.8,39.7 424.9,39.6 425.0,39.1 425.0,39.0 425.1,38.8 425.2,38.4 425.2,38.3 425.3,38.0 425.4,37.6 425.4,37.6 425.5,37.3 425.6,37.0 425.6,37.0 425.7,36.6 425.7,36.4 425.8,36.3 425.9,36.0 425.9,35.8 426.0,35.7 426.1,35.4 426.1,35.3 426.2,35.1 426.3,34.8 426.3,34.8 426.4,34.6 426.5,34.3 426.5,34.3 426.7,33.8 426.8,33.4 427.0,33.0 427.2,32.6 427.4,32.2 427.6,31.9 427.8,31.5 427.9,31.2 428.1,30.9 428.3,30.6 428.5,30.3 428.7,30.1 428.9,29.8 429.0,29.6 429.2,29.4 429.4,29.2 429.6,29.0 429.8,28.8 429.9,28.6 430.1,28.4 430.3,28.2 430.5,28.1 430.7,27.9 430.9,27.8 431.0,27.7 431.2,27.5 431.4,27.4 431.6,27.3 431.8,27.2 432.0,27.1 432.1,27.0 432.3,26.9 432.5,26.8 432.7,26.7 432.9,26.6 433.1,26.6 433.2,26.5 433.4,26.4 433.6,26.4 433.8,26.3 434.0,26.2 434.2,26.2 434.3,26.1 434.5,26.1 434.7,26.0 434.9,26.0 435.1,25.9 435.2,25.9 435.4,25.9 435.6,25.8 435.8,25.8 436.0,25.7 436.2,25.7 436.3,25.7 436.5,25.7 436.7,25.6 436.9,25.6 437.1,25.6 437.3,25.5 437.4,25.5 437.6,25.5 437.8,25.5 438.0,25.5 438.2,25.4 438.4,25.4 438.5,25.4 438.7,25.4 438.9,25.4 439.1,25.4 439.3,25.4 439.5,25.3 439.6,25.3 439.8,25.3 440.0,25.3 440.2,25.3 440.4,25.3 440.6,25.3 440.7,25.3 440.9,25.3 441.1,25.3 441.3,25.2 441.5,25.2 441.6,25.2 441.8,25.2 442.0,25.2 442.2,25.2 442.4,25.2 442.6,25.2 442.7,25.2 442.9,25.2 443.1,25.2 443.3,25.2 443.5,25.2 443.7,25.2 443.7,25.2 443.8,25.2 443.8,25.2 443.9,25.2 444.0,27.9 444.0,28.6 444.1,36.0 444.2,41.2 444.2,43.1 444.3,49.9 444.4,53.5 444.4,56.3 444.5,62.5 444.6,64.8 444.6,68.4 444.7,74.1 444.8,75.2 444.8,79.5 444.9,84.7 444.9,84.8 445.0,89.6 445.1,93.6 445.1,94.3 445.2,98.9 445.3,101.7 445.3,103.2 445.4,107.3 445.5,109.2 445.5,111.3 445.6,115.0 445.7,116.2 445.7,118.6 445.8,122.1 445.9,122.5 445.9,125.4 446.0,128.4 446.0,128.6 446.1,131.6 446.2,133.8 446.2,134.5 446.3,137.2 446.4,138.8 446.4,139.9 446.5,142.4 446.6,143.4 446.6,144.8 446.7,147.1 446.8,147.6 446.8,149.3 446.9,151.4 446.9,151.5 447.0,153.4 447.1,155.1 447.1,155.4 447.2,157.2 447.3,158.4 447.3,159.0 447.4,160.7 447.5,161.5 447.5,162.3 447.6,163.8 447.7,164.3 447.7,165.3 447.8,166.7 447.9,166.9 447.9,168.0 448.0,169.3 448.0,169.3 448.1,170.6 448.2,171.5 448.2,171.7 448.3,172.9 448.4,173.5 448.4,173.9 448.5,175.0 448.6,175.4 448.6,175.9 448.7,176.9 448.8,177.1 448.8,177.8 448.9,178.6 449.0,178.7 449.0,179.5 449.1,180.2 449.1,180.3 449.2,181.0 449.3,181.5 449.3,181.7 449.5,182.4 449.5,182.8 449.6,183.1 449.7,183.7 449.7,183.9 449.8,184.3 449.9,184.9 449.9,185.0 450.0,185.4 450.1,185.9 450.1,186.0 450.2,186.4 450.2,186.9 450.3,186.9 450.4,187.4 450.4,185.9 450.5,186.1 450.6,186.5 450.6,186.7 450.7,186.9 450.8,187.3 450.8,187.4 450.9,187.7 451.0,188.0 451.0,188.1 451.1,188.3 451.2,188.7 451.2,188.7 451.3,189.0 451.3,189.2 451.4,189.3 451.5,189.6 451.5,189.7 451.6,189.8 451.7,190.1 451.7,190.2 451.9,190.6 452.1,191.0 452.2,191.4 452.4,191.8 452.6,192.1 452.8,192.4 453.0,192.6 453.2,192.9 453.3,193.1 453.5,193.3 453.7,193.5 453.9,193.7 454.1,193.9 454.3,194.0 454.4,194.2 454.6,194.3 454.8,194.4 455.0,194.6 455.2,194.7 455.4,194.8 455.5,194.9 455.7,194.9 455.9,195.0 456.1,195.1 456.3,195.2 456.5,195.2 456.6,195.3 456.8,195.3 457.0,195.4 457.2,195.4 457.4,195.5 457.5,195.5 457.7,195.6 457.9,195.6 458.1,195.6 458.3,195.7 458.5,195.7 458.6,195.7 458.8,195.8 459.0,195.8 459.2,195.8 459.4,195.8 459.6,195.8 459.7,195.9 459.9,195.9 460.1,195.9 460.3,195.9 460.5,195.9 460.7,196.0 460.8,196.0 461.0,196.0 461.2,196.0 461.4,196.0 461.6,196.0 461.8,196.0 461.9,196.1 462.1,196.1 462.3,196.1 462.5,196.1 462.7,196.1 462.8,196.1 463.0,196.1 463.2,196.1 463.4,196.1 463.6,196.2 463.8,196.2 463.9,196.2 464.1,196.2 464.3,196.2 464.5,196.2 464.7,196.2 464.9,196.2 465.0,196.2 465.2,196.2 465.4,196.2 465.6,196.3 465.8,196.3 466.0,196.3 466.1,196.3 466.3,196.3 466.5,196.3 466.7,196.3 466.9,196.3 467.1,196.3 467.2,196.3 467.4,196.3 467.6,196.3 467.8,196.3 468.0,196.4 468.1,196.4 468.3,196.4 468.5,196.4 468.7,196.4 468.9,196.4 469.1,196.4 469.2,196.4 469.4,196.4 469.6,196.4 469.8,196.4 470.0,196.4 470.2,196.4 470.3,196.5 470.5,196.5 470.7,196.5 470.9,196.5 471.1,196.5 471.3,196.5 471.4,196.5 471.6,196.5 471.8,196.5 472.0,196.5 472.2,196.5 472.4,196.5 472.5,196.5 472.7,196.6 472.9,196.6 473.1,196.6 473.3,196.6 473.4,196.6 473.6,196.6 473.8,196.6 474.0,196.6 474.2,196.6 474.4,196.6 474.5,196.6 474.7,196.6 474.9,196.6 475.1,196.7 475.3,196.7 475.5,196.7 475.6,196.7 475.8,196.7 476.0,196.7 476.2,196.7 476.4,196.7 476.6,196.7 476.7,196.7 476.9,196.7 477.1,196.7 477.3,196.7 477.5,196.8 477.7,196.8 477.8,196.8 478.0,196.8 478.2,196.8 478.4,196.8 478.6,196.8 478.7,196.8 478.9,196.8 479.1,196.8 479.3,196.8 479.5,196.8 479.7,196.8 479.8,196.9 480.0,196.9 480.2,196.9 480.4,196.9 480.6,196.9 480.8,196.9 480.9,196.9 481.1,196.9 481.3,196.9 481.5,196.9 481.7,196.9 481.9,196.9 482.0,196.9 482.2,196.9 482.4,197.0 482.6,197.0 482.8,197.0 483.0,197.0 483.1,197.0 483.3,197.0 483.5,197.0 483.7,197.0 483.9,197.0 484.1,197.0 484.2,197.0 484.4,197.0 484.6,197.0 484.8,197.1 485.0,197.1 485.1,197.1 485.3,197.1 485.5,197.1 485.7,197.1 485.9,197.1 486.1,197.1 486.2,197.1 486.4,197.1 486.6,197.1 486.8,197.1 487.0,197.1 487.2,197.2 487.3,197.2 487.5,197.2 487.7,197.2 487.9,197.2 488.1,197.2 488.3,197.2 488.4,197.2 488.6,197.2 488.8,197.2 489.0,197.2 489.2,197.2 489.4,197.2 489.5,197.3 489.7,197.3 489.9,197.3 490.1,197.3 490.3,197.3 490.4,197.3 490.6,197.3 490.8,197.3 491.0,197.3 491.2,197.3 491.4,197.3 491.5,197.3 491.7,197.3 491.9,197.3 492.1,197.4 492.3,197.4 492.5,197.4 492.6,197.4 492.8,197.4 493.0,197.4 493.2,197.4 493.4,197.4 493.6,197.4 493.7,197.4 493.9,197.4 494.1,197.4 494.3,197.4 494.5,197.5 494.7,197.5 494.8,197.5 495.0,197.5 495.2,197.5 495.4,197.5 495.6,197.5 495.7,196.0 495.9,196.0 496.1,196.0 496.3,196.0 496.5,196.0 496.7,196.0 496.8,196.0 497.0,196.0 497.2,193.6 497.4,193.6 497.6,193.6 497.8,193.6 497.9,193.6 498.1,193.6 498.3,193.6 498.5,193.6 498.7,191.3 498.9,191.3 499.0,191.3 499.2,191.3 499.4,191.3 499.6,191.3 499.8,191.3 500.0,191.3 500.1,189.0 500.3,189.0 500.5,189.0 500.7,189.0 500.9,189.0 501.0,189.0 501.1,189.0 501.2,189.0 501.2,189.0 501.3,189.0 501.4,194.2 501.4,191.0 501.5,177.9 501.6,170.8 501.6,166.2 501.7,155.8 501.8,151.8 501.8,146.5 501.9,138.1 502.0,136.2 502.0,130.6 502.1,123.8 502.1,123.4 502.2,117.6 502.3,112.7 502.3,112.1 502.4,107.1 502.5,103.8 502.5,102.5 502.6,98.4 502.7,96.4 502.7,94.6 502.8,91.1 502.9,90.0 502.9,87.9 503.0,85.0 503.1,84.5 503.1,82.3 503.2,79.8 503.2,79.8 503.3,77.5 503.4,75.7 503.4,75.3 503.5,73.3 503.6,72.1 503.6,71.4 503.7,69.7 503.8,68.9 503.8,68.0 503.9,66.5 504.0,66.1 504.0,65.0 504.1,63.6 504.2,63.5 504.2,62.3 504.3,61.2 504.3,61.1 504.4,59.9 504.5,59.0 504.5,58.8 504.6,57.7 504.7,57.1 504.7,56.6 504.8,55.7 504.9,55.3 504.9,54.7 505.0,53.8 505.1,53.6 505.1,52.9 505.2,52.1 505.3,52.1 505.3,51.3 505.4,50.6 505.4,50.5 505.6,49.8 505.6,49.3 505.7,49.1 505.8,48.4 505.8,48.0 505.9,47.7 506.0,47.0 506.0,46.8 506.1,46.4 506.2,45.8 506.2,45.7 506.3,45.2 506.3,44.7 506.4,44.6 506.5,44.1 506.5,43.7 506.6,43.5 506.7,43.0 506.7,42.7 506.8,42.5 506.9,42.0 506.9,41.8 507.0,41.6 507.1,41.1 507.1,41.0 507.2,40.6 507.3,40.2 507.3,40.2 507.4,39.8 507.4,39.4 507.5,39.4 507.6,39.0 507.6,38.7 507.7,38.6 507.8,38.2 507.8,38.0 507.9,37.9 508.0,37.5 508.0,37.4 508.1,37.2 508.2,36.8 508.2,36.8 508.3,36.5 508.4,36.2 508.4,36.2 508.5,35.9 508.5,35.6 508.6,35.6 508.7,35.3 508.7,35.1 508.8,35.0 508.9,34.7 508.9,34.6 509.0,34.5 509.1,34.2 509.1,34.1 509.3,33.7 509.5,33.2 509.6,32.8 509.8,32.5 510.0,32.1 510.2,31.7 510.4,31.4 510.6,31.1 510.7,30.8 510.9,30.5 511.1,30.2 511.3,30.0 511.5,29.7 511.6,29.5 511.8,29.3 512.0,29.1 512.2,28.9 512.4,28.7 512.6,28.5 512.7,28.3 512.9,28.2 513.1,28.0 513.3,27.9 513.5,27.7 513.7,27.6 513.8,27.5 514.0,27.4 514.2,27.3 514.4,27.2 514.6,27.0 514.8,27.0 514.9,26.9 515.1,26.8 515.3,26.7 515.5,26.6 515.7,26.5 515.9,26.5 516.0,26.4 516.2,26.3 516.4,26.3 516.6,26.2 516.8,26.2 516.9,26.1 517.1,26.1 517.3,26.0 517.5,26.0 517.7,25.9 517.9,25.9 518.0,25.8 518.2,25.8 518.4,25.8 518.6,25.7 518.8,25.7 519.0,25.7 519.1,25.6 519.3,25.6 519.5,25.6 519.7,25.6 519.9,25.5 520.1,25.5 520.2,25.5 520.4,25.5 520.6,25.5 520.8,25.4 521.0,25.4 521.2,25.4 521.3,25.4 521.5,25.4 521.7,25.4 521.9,25.4 522.1,25.3 522.2,25.3 522.4,25.3 522.6,25.3 522.8,25.3 523.0,25.3 523.2,25.3 523.3,25.3 523.5,25.3 523.7,25.2 523.9,25.2 524.1,25.2 524.3,25.2 524.4,25.2 524.6,25.2 524.8,25.2 525.0,25.2 525.2,25.2 525.4,25.2 525.5,25.2 525.7,25.2 525.9,25.2 525.9,25.2 526.0,25.2 526.1,25.2 526.1,25.2 526.2,28.6 526.3,31.0 526.3,36.0 526.4,43.1 526.5,44.0 526.5,49.9 526.6,56.1 526.6,56.3 526.7,62.5 526.8,67.2 526.8,68.4 526.9,74.1 527.0,77.4 527.0,79.5 527.1,84.7 527.2,86.8 527.2,89.6 527.3,94.3 527.4,95.5 527.4,98.9 527.5,103.2 527.6,103.5 527.6,107.3 527.7,110.8 527.7,111.3 527.8,115.0 527.9,117.6 527.9,118.7 528.0,122.1 528.1,123.9 528.1,125.4 528.2,128.6 528.3,129.6 528.3,131.6 528.4,134.5 528.5,135.0 528.5,137.2 528.6,139.9 528.6,139.9 528.7,142.4 528.8,144.4 528.8,144.8 528.9,147.1 529.0,148.5 529.0,149.3 529.1,151.4 529.2,152.4 529.2,153.4 529.3,155.4 529.4,155.9 529.5,157.2 529.6,159.0 529.6,159.1 529.7,160.7 529.7,162.1 529.8,162.3 529.9,163.8 529.9,164.9 530.0,165.3 530.1,166.7 530.1,167.5 530.2,168.0 530.3,169.3 530.3,169.8 530.4,170.6 530.5,171.7 530.5,172.0 530.6,172.9 530.7,173.9 530.7,174.0 530.8,175.0 530.8,175.8 530.9,175.9 531.0,176.9 531.0,177.5 531.1,177.8 531.2,178.6 531.2,179.1 531.3,179.5 531.4,180.3 531.4,180.5 531.5,181.0 531.6,181.7 531.6,181.8 531.7,182.4 531.8,183.0 531.8,183.1 531.9,183.7 531.9,184.2 532.0,184.3 532.1,184.9 532.1,185.2 532.2,185.4 532.3,185.9 532.3,186.2 532.4,186.4 532.5,186.9 532.5,187.0 532.6,187.4 532.7,185.7 532.7,185.8 532.8,186.1 532.9,186.5 532.9,186.6 533.0,187.0 533.0,187.2 533.1,187.3 533.2,187.7 533.2,187.9 533.3,188.0 533.4,188.4 533.4,188.5 533.5,188.7 533.6,189.0 533.6,189.0 533.7,189.3 533.8,189.6 533.8,189.6 533.9,189.8 533.9,190.0 534.1,190.5 534.3,190.9 534.5,191.2 534.7,191.6 534.9,191.9 535.0,192.2 535.2,192.5 535.4,192.7 535.6,193.0 535.8,193.2 536.0,193.4 536.1,193.6 536.3,193.8 536.5,193.9 536.7,194.1 536.9,194.2 537.1,194.4 537.2,194.5 537.4,194.6 537.6,194.7 537.8,194.8 538.0,194.9 538.2,195.0 538.3,195.1 538.5,195.1 538.7,195.2 538.9,195.3 539.1,195.3 539.2,195.4 539.4,195.5 539.6,195.5 539.8,195.6 540.0,195.6 540.2,195.7 540.3,195.7 540.5,195.7 540.7,195.8 540.9,195.8 541.1,195.9 541.3,195.9 541.4,195.9 541.6,196.0 541.8,196.0 542.0,196.0 542.2,196.1 542.4,196.1 542.5,196.1 542.7,196.1 542.9,196.2 543.1,196.2 543.3,196.2 543.5,196.2 543.6,196.3 543.8,196.3 544.0,196.3 544.2,196.3 544.4,196.3 544.5,196.4 544.7,196.4 544.9,196.4 545.1,196.4 545.3,196.5 545.5,196.5 545.6,196.5 545.8,196.5 546.0,196.5 546.2,196.5 546.4,196.6 546.6,196.6 546.7,196.6 546.9,196.6 547.1,196.6 547.2,196.6 547.3,196.7 547.3,196.7 547.4,196.7 547.5,191.0 547.5,189.6 547.6,177.9 547.7,167.1 547.7,166.2 547.8,155.8 547.8,148.8 547.9,146.5 548.0,138.1 548.0,133.7 548.1,130.6 548.2,123.8 548.2,121.3 548.3,117.6 548.4,112.1 548.4,111.0 548.5,107.1 548.6,102.5 548.6,102.4 548.7,98.4 548.8,95.1 548.8,94.6 548.9,91.1 548.9,88.9 549.0,87.9 549.1,85.0 549.1,83.6 549.2,82.3 549.3,79.8 549.3,79.1 549.4,77.5 549.5,75.3 549.5,75.0 549.6,73.3 549.7,71.5 549.7,71.4 549.8,69.7 549.8,68.4 549.9,68.0 550.0,66.5 550.0,65.6 550.1,65.0 550.2,63.6 550.2,63.1 550.3,62.3 550.4,61.1 550.4,60.8 550.5,59.9 550.6,58.8 550.6,58.7 550.7,57.7 550.8,56.8 550.8,56.6 550.9,55.7 550.9,55.0 551.0,54.7 551.1,53.8 551.1,53.3 551.2,52.9 551.3,52.1 551.3,51.8 551.4,51.3 551.5,50.5 551.5,50.4 551.6,49.8 551.7,49.1 551.7,49.1 551.8,48.4 551.9,47.8 551.9,47.7 552.0,47.0 552.0,46.6 552.1,46.4 552.2,45.8 552.2,45.5 552.3,45.2 552.4,44.6 552.4,44.5 552.5,44.1 552.6,43.5 552.6,43.5 552.7,43.0 552.8,42.6 552.8,42.5 552.9,42.0 553.0,41.7 553.0,41.6 553.1,41.1 553.1,40.8 553.2,40.6 553.3,40.2 553.3,40.0 553.4,39.8 553.5,39.4 553.5,39.3 553.6,39.0 553.7,38.6 553.7,38.6 553.8,38.2 553.9,37.9 553.9,37.9 554.0,37.5 554.1,37.3 554.1,37.2 554.2,36.8 554.2,36.7 554.3,36.5 554.4,36.2 554.4,36.1 554.5,35.9 554.6,35.6 554.6,35.5 554.7,35.3 554.8,35.0 554.8,35.0 554.9,34.7 555.0,34.5 555.0,34.5 555.1,34.2 555.1,34.0 555.3,33.6 555.5,33.2 555.7,32.8 555.9,32.4 556.1,32.0 556.2,31.7 556.4,31.4 556.6,31.0 556.8,30.7 557.0,30.5 557.2,30.2 557.3,29.9 557.5,29.7 557.7,29.5 557.9,29.3 558.1,29.0 558.3,28.9 558.4,28.7 558.6,28.5 558.8,28.3 559.0,28.2 559.2,28.0 559.4,27.9 559.5,27.7 559.7,27.6 559.9,27.5 560.1,27.4 560.3,27.2 560.4,27.1 560.6,27.0 560.8,26.9 561.0,26.8 561.2,26.8 561.4,26.7 561.5,26.6 561.7,26.5 561.9,26.4 562.1,26.4 562.3,26.3 562.5,26.3 562.6,26.2 562.8,26.1 563.0,26.1 563.2,26.0 563.4,26.0 563.6,26.0 563.7,25.9 563.9,25.9 564.1,25.8 564.3,25.8 564.5,25.8 564.7,25.7 564.8,25.7 565.0,25.7 565.2,25.6 565.4,25.6 565.6,25.6 565.7,25.6 565.9,25.5 566.1,25.5 566.3,25.5 566.5,25.5 566.7,25.5 566.8,25.4 567.0,25.4 567.2,25.4 567.4,25.4 567.6,25.4 567.8,25.4 567.9,25.3 568.1,25.3 568.3,25.3 568.5,25.3 568.7,25.3 568.9,25.3 569.0,25.3 569.2,25.3 569.4,25.3 569.6,25.3 569.8,25.2 570.0,25.2 570.1,25.2 570.3,25.2 570.5,25.2 570.7,25.2 570.9,25.2 571.1,25.2 571.2,25.2 571.4,25.2 571.6,25.2 571.8,25.2 572.0,25.2 572.1,25.2 572.3,25.2 572.5,25.2 572.7,25.2 572.9,25.2 573.1,25.2 573.2,25.2 573.4,25.2 573.6,25.1 573.8,25.1 574.0,25.1 574.2,25.1 574.3,25.1 574.5,25.1 574.7,25.1 574.9,25.1 575.1,25.1 575.3,25.1 575.4,25.1 575.6,25.1 575.8,25.1 576.0,25.1 576.2,25.1 576.4,25.1 576.5,25.1 576.7,25.1 576.9,25.1 577.1,25.1 577.3,25.1 577.4,25.1 577.6,25.1 577.8,25.1 578.0,25.1 578.2,25.1 578.4,25.1 578.5,25.1 578.7,25.1 578.9,25.1 579.1,25.1 579.3,25.1 579.5,25.1 579.6,25.1 579.8,25.1 580.0,25.1 580.2,25.1 580.4,25.1 580.6,25.1 580.7,25.1 580.9,25.1 581.1,25.1 581.3,25.1 581.5,25.1 581.7,25.1 581.8,25.1 582.0,25.1 582.2,25.1 582.4,25.1 582.6,25.1 582.7,25.1 582.9,25.1 583.1,25.1 583.3,25.1 583.5,25.1 583.7,25.1 583.8,25.1 584.0,25.1 584.2,25.1 584.4,25.1 584.6,25.1 584.8,25.1 584.9,25.1 585.1,25.1 585.3,25.1 585.5,25.1 585.6,25.1 585.7,25.1 585.7,25.1 585.8,25.1 585.9,25.1 585.9,28.6 586.0,35.4 586.0,36.0 586.1,43.0 586.2,48.1 586.2,49.8 586.3,56.3 586.4,59.8 586.4,62.5 586.5,68.4 586.6,70.6 586.6,74.0 586.7,79.5 586.8,80.5 586.8,84.6 586.9,89.6 587.0,89.7 587.0,94.3 587.1,98.2 587.1,98.8 587.2,103.1 587.3,105.9 587.3,107.3 587.5,111.2 587.5,113.1 587.6,115.0 587.7,118.6 587.7,119.7 587.8,122.1 587.9,125.4 587.9,125.8 588.0,128.5 588.0,131.4 588.1,131.6 588.2,134.4 588.2,136.6 588.3,137.2 588.4,139.8 588.4,141.4 588.5,142.4 588.6,144.8 588.6,145.8 588.7,147.1 588.8,149.3 588.8,149.8 588.9,151.4 589.0,153.4 589.0,153.5 589.1,155.3 589.1,157.0 589.2,157.2 589.3,159.0 589.3,160.2 589.4,160.6 589.5,162.3 589.5,163.1 589.6,163.8 589.7,165.3 589.7,165.8 589.8,166.7 589.9,168.0 589.9,168.2 590.0,169.3 590.1,170.5 590.1,170.5 590.2,171.7 590.2,172.6 590.3,172.8 590.4,173.9 590.4,174.6 590.5,175.0 590.6,175.9 590.6,176.4 590.7,176.9 590.8,177.8 590.8,178.0 590.9,178.6 591.0,179.5 591.0,179.5 591.1,180.2 591.2,180.9 591.2,181.0 591.3,181.7 591.3,182.2 591.4,182.4 591.5,183.1 591.5,183.4 591.6,183.7 591.7,184.3 591.7,184.5 591.8,184.9 591.9,185.4 591.9,185.5 592.0,185.9 592.1,186.4 592.1,186.5 592.2,186.9 592.3,187.3 592.3,187.4 592.4,184.7 592.4,184.9 592.5,185.1 592.6,185.5 592.6,185.7 592.7,185.9 592.8,186.2 592.8,186.4 592.9,186.6 593.0,186.9 593.0,187.0 593.1,187.3 593.2,187.6 593.2,187.6 593.3,187.9 593.3,188.1 593.4,188.1 593.5,188.4 593.5,188.6 593.6,188.7 593.7,189.0 593.9,189.4 594.1,189.8 594.3,190.2 594.4,190.5 594.6,190.8 594.8,191.1 595.0,191.4 595.2,191.6 595.4,191.8 595.5,192.0 595.7,192.2 595.9,192.4 596.1,192.5 596.3,192.7 596.5,192.8 596.6,192.9 596.8,193.1 597.0,193.2 597.2,193.3 597.4,193.4 597.6,193.5 597.7,193.5 597.9,193.6 598.1,193.7 598.3,193.7 598.5,193.8 598.6,193.9 598.8,193.9 599.0,194.0 599.2,194.0 599.4,194.0 599.6,194.1 599.7,194.1 599.9,194.1 600.1,194.2 600.3,194.2 600.5,194.2 600.7,194.3 600.8,194.3 601.0,194.3 601.2,194.3 601.4,194.3 601.6,194.4 601.8,194.4 601.9,194.4 602.1,194.4 602.3,194.4 602.5,194.4 602.7,194.5 602.9,194.5 603.0,194.5 603.2,194.5 603.4,194.5 603.6,194.5 603.8,194.5 603.9,194.5 604.1,194.6 604.3,194.6 604.5,194.6 604.7,194.6 604.9,194.6 605.0,194.6 605.2,194.6 605.4,194.6 605.6,194.6 605.8,194.6 606.0,194.6 606.1,194.7 606.3,194.7 606.5,194.7 606.7,194.7 606.9,194.7 607.1,194.7 607.2,194.7 607.4,194.7 607.6,194.7 607.8,194.7 608.0,194.7 608.2,194.7 608.3,194.7 608.5,194.7 608.7,194.7 608.9,194.8 609.1,194.8 609.2,194.8 609.4,194.8 609.6,194.8 609.8,194.8 610.0,194.8 610.2,194.8 610.3,194.8 610.5,194.8 610.7,194.8 610.9,194.8 611.1,194.8 611.3,194.8 611.4,194.8 611.6,194.8 611.8,194.9 612.0,194.9 612.2,194.9 612.4,194.9 612.5,194.9 612.7,194.9 612.9,194.9 613.1,194.9 613.3,194.9 613.5,194.9 613.6,194.9 613.8,194.9 614.0,194.9 614.2,194.9 614.4,194.9 614.6,194.9 614.7,194.9 614.9,195.0 615.1,195.0 615.3,195.0 615.5,195.0 615.6,195.0 615.8,195.0 616.0,195.0 616.2,195.0 616.4,195.0 616.6,195.0 616.7,195.0 616.9,195.0 617.1,195.0 617.3,195.0 617.5,195.0 617.7,195.0 617.8,195.0 618.0,195.1 618.2,195.1 618.4,195.1 618.6,195.1 618.8,195.1 618.9,195.1 619.1,195.1 619.3,195.1 619.5,195.1 619.7,195.1 619.9,195.1 620.0,195.1 620.2,195.1 620.4,195.1 620.6,195.1 620.8,195.1 620.9,195.1 621.1,195.2 621.3,195.2 621.5,195.2 621.7,195.2 621.9,195.2 622.0,195.2 622.2,195.2 622.4,195.2 622.6,195.2 622.8,195.2 623.0,195.2 623.1,195.2 623.3,195.2 623.5,195.2 623.7,195.2 623.9,195.2 624.1,195.2 624.2,195.3 624.4,195.3 624.6,195.3 624.8,195.3 625.0,195.3 625.2,195.3 625.3,195.3 625.5,195.3 625.7,195.3 625.9,195.3 626.1,195.3 626.2,195.3 626.4,195.3 626.6,195.3 626.8,195.3 627.0,195.3 627.2,195.3 627.3,195.4 627.5,195.4 627.7,195.4 627.9,195.4 628.1,195.4 628.3,195.4 628.4,195.4 628.6,195.4 628.8,195.4 629.0,195.4 629.2,195.4 629.4,195.4 629.5,195.4 629.7,195.4 629.9,195.4 630.1,195.4 630.3,195.4 630.5,195.5 630.6,195.5 630.8,195.5 631.0,195.5 631.2,195.5 631.4,195.5 631.5,195.5 631.7,195.5 631.9,195.5 632.1,195.5 632.3,195.5 632.5,195.5 632.6,195.5 632.8,195.5 633.0,195.5 633.2,195.5 633.4,195.5 633.6,195.6 633.7,195.6 633.9,195.6 634.1,195.6 634.3,195.6 634.5,195.6 634.7,195.6 634.8,195.6 635.0,195.6 635.2,195.6 635.4,195.6 635.6,195.6 635.8,195.6 635.8,195.6 635.9,195.6 635.9,195.6 636.0,195.6 636.1,191.0 636.1,183.6 636.2,177.9 636.3,166.2 636.3,162.2 636.4,155.8 636.5,146.5 636.5,144.8 636.6,138.1 636.7,130.6 636.7,130.5 636.8,123.8 636.8,118.6 636.9,117.6 637.0,112.1 637.0,108.8 637.1,107.1 637.2,102.5 637.2,100.5 637.3,98.4 637.4,94.6 637.4,93.5 637.5,91.1 637.6,87.9 637.6,87.6 637.7,85.0 637.8,82.4 637.8,82.3 637.9,79.8 637.9,78.0 638.0,77.5 638.1,75.3 638.1,74.1 638.2,73.3 638.3,71.4 638.3,70.7 638.4,69.7 638.5,68.0 638.5,67.7 638.6,66.5 638.7,65.0 638.7,64.9 638.8,63.6 638.9,62.5 638.9,62.3 639.0,61.1 639.0,60.2 639.1,59.9 639.2,58.8 639.2,58.2 639.3,57.7 639.4,56.6 639.4,56.3 639.5,55.7 639.6,54.7 639.6,54.6 639.7,53.8 639.8,53.0 639.8,52.9 639.9,52.1 640.0,51.5 640.0,51.3 640.1,50.5 640.1,50.1 640.2,49.8 640.3,49.1 640.3,48.7 640.4,48.4 640.5,47.7 640.5,47.5 640.6,47.0 640.7,46.4 640.7,46.3 640.8,45.8 640.9,45.3 640.9,45.2 641.0,44.6 641.1,44.2 641.1,44.1 641.2,43.5 641.2,43.3 641.3,43.0 641.4,42.5 641.4,42.3 641.5,42.0 641.6,41.6 641.6,41.5 641.7,41.1 641.8,40.6 641.8,40.6 641.9,40.2 642.0,39.9 642.0,39.8 642.1,39.4 642.1,39.1 642.2,39.0 642.3,38.6 642.3,38.4 642.4,38.2 642.5,37.9 642.5,37.7 642.6,37.5 642.7,37.2 642.7,37.1 642.8,36.8 642.9,36.5 642.9,36.5 643.0,36.2 643.1,35.9 643.1,35.9 643.2,35.6 643.2,35.4 643.3,35.3 643.4,35.0 643.4,34.9 643.5,34.7 643.6,34.5 643.6,34.4 643.7,34.2 643.8,33.9 644.0,33.5 644.2,33.1 644.3,32.7 644.5,32.3 644.7,31.9 644.9,31.6 645.1,31.3 645.3,31.0 645.4,30.7 645.6,30.4 645.8,30.1 646.0,29.9 646.2,29.6 646.4,29.4 646.5,29.2 646.7,29.0 646.9,28.8 647.1,28.6 647.3,28.4 647.4,28.3 647.6,28.1 647.8,28.0 648.0,27.8 648.2,27.7 648.4,27.6 648.5,27.4 648.7,27.3 648.9,27.2 649.1,27.1 649.3,27.0 649.5,26.9 649.6,26.8 649.8,26.7 650.0,26.7 650.2,26.6 650.4,26.5 650.6,26.4 650.7,26.4 650.9,26.3 651.1,26.2 651.3,26.2 651.5,26.1 651.7,26.1 651.8,26.0 652.0,26.0 652.2,25.9 652.4,25.9 652.6,25.9 652.7,25.8 652.9,25.8 653.1,25.8 653.3,25.7 653.5,25.7 653.7,25.7 653.8,25.6 654.0,25.6 654.2,25.6 654.4,25.6 654.6,25.5 654.8,25.5 654.9,25.5 655.1,25.5 655.3,25.5 655.5,25.4 655.7,25.4 655.9,25.4 656.0,25.4 656.2,25.4 656.4,25.4 656.6,25.3 656.8,25.3 657.0,25.3 657.1,25.3 657.3,25.3 657.5,25.3 657.7,25.3 657.9,25.3 658.1,25.3 658.2,25.3 658.4,25.2 658.6,25.2 658.8,25.2 659.0,25.2 659.1,25.2 659.3,25.2 659.5,25.2 659.7,25.2 659.9,25.2 660.1,25.2 660.2,25.2 660.4,25.2 660.6,25.2 660.8,25.2 661.0,25.2 661.2,25.2 661.3,25.2 661.5,25.2 661.7,25.2 661.9,25.2 662.1,25.2 662.3,25.1 662.4,25.1 662.6,25.1 662.8,25.1 663.0,25.1 663.2,25.1 663.4,25.1 663.5,25.1 663.7,25.1 663.9,25.1 664.1,25.1 664.3,25.1 664.4,25.1 664.6,25.1 664.8,25.1 665.0,25.1 665.2,25.1 665.4,25.1 665.5,25.1 665.7,25.1 665.9,25.1 666.1,25.1 666.3,25.1 666.5,25.1 666.6,25.1 666.8,25.1 667.0,25.1 667.2,25.1 667.4,25.1 667.5,25.1 667.6,25.1 667.6,25.1 667.7,25.1 667.7,26.1 667.8,28.6 667.9,36.0 667.9,39.6 668.0,43.0 668.1,49.8 668.1,52.0 668.2,56.3 668.3,62.5 668.3,63.4 668.4,68.4 668.5,73.9 668.5,74.0 668.6,79.5 668.7,83.6 668.7,84.6 668.8,89.6 668.8,92.5 668.9,94.3 669.0,98.8 669.0,100.7 669.1,103.1 669.2,107.3 669.2,108.3 669.3,111.2 669.4,115.0 669.4,115.3 669.5,118.6 669.6,121.7 669.6,122.1 669.7,125.4 669.7,127.7 669.8,128.5 669.9,131.6 669.9,133.1 670.0,134.4 670.1,137.2 670.1,138.2 670.2,139.8 670.3,142.4 670.3,142.8 670.4,144.8 670.5,147.1 670.5,147.1 670.6,149.3 670.7,151.0 670.7,151.4 670.8,153.4 670.8,154.7 670.9,155.3 671.0,157.2 671.0,158.0 671.1,159.0 671.2,160.6 671.2,161.1 671.3,162.3 671.4,163.8 671.4,164.0 671.5,165.3 671.6,166.6 671.6,166.7 671.7,168.0 671.8,169.0 671.8,169.3 671.9,170.5 671.9,171.2 672.0,171.7 672.1,172.8 672.1,173.3 672.2,173.9 672.3,175.0 672.3,175.2 672.4,175.9 672.5,176.9 672.5,176.9 672.6,177.8 672.7,178.5 672.7,178.6 672.8,179.5 672.9,180.0 672.9,180.2 673.0,181.0 673.0,181.4 673.1,181.7 673.2,182.4 673.2,182.6 673.3,183.1 673.4,183.7 673.4,183.8 673.5,184.3 673.6,184.8 673.6,184.9 673.7,185.4 673.8,185.8 673.8,185.9 673.9,186.4 674.0,186.7 674.0,186.9 674.1,187.4 674.1,187.6 674.2,187.8 674.3,188.2 674.3,188.3 674.4,188.6 674.5,189.0 674.5,189.1" fill="none" stroke="#0072BD" stroke-width="2.0" stroke-linejoin="round" /><polyline points="418.8,199.5 418.8,199.5 418.9,199.5 419.0,199.5 419.0,199.5 419.1,199.5 419.2,199.5 419.2,195.2 419.3,184.3 419.3,184.2 419.4,174.5 419.5,166.9 419.5,165.5 419.6,157.3 419.7,152.3 419.7,149.8 419.8,143.0 419.9,139.9 419.9,136.7 420.0,131.0 420.1,129.4 420.1,125.7 420.3,120.9 420.3,120.3 420.4,116.4 420.4,112.5 420.5,112.3 420.6,108.5 420.6,105.7 420.7,104.9 420.8,101.6 420.8,99.8 420.9,98.6 421.0,95.7 421.0,94.6 421.1,93.1 421.2,90.6 421.2,90.0 421.3,88.3 421.4,86.1 421.4,86.0 421.5,84.0 421.5,82.3 421.6,82.1 421.7,80.2 421.7,79.0 421.8,78.5 421.9,76.8 421.9,76.0 422.0,75.3 422.1,73.8 422.1,73.3 422.2,72.3 422.3,71.0 422.3,70.8 422.4,69.7 422.5,68.5 422.5,68.5 422.6,67.3 422.6,66.3 422.7,66.1 422.8,65.0 422.8,64.4 422.9,64.0 423.0,63.0 423.0,62.5 423.1,62.0 423.2,61.0 423.2,60.8 423.3,60.1 423.4,59.2 423.4,59.2 423.5,58.6 423.6,57.8 423.6,57.7 423.7,56.9 423.7,56.3 423.8,56.1 423.9,55.4 423.9,55.0 424.0,54.7 424.1,54.0 424.1,53.8 424.2,53.4 424.3,52.8 424.3,52.6 424.4,52.2 424.5,51.7 424.5,51.6 424.6,51.2 424.6,50.8 424.7,50.8 424.8,50.4 424.8,50.2 424.9,50.1 425.0,50.0 425.0,49.9 425.1,49.9 425.2,50.1 425.2,50.1 425.3,50.4 425.4,51.0 425.4,51.1 425.5,51.9 425.6,51.4 425.6,51.3 425.7,49.5 425.7,48.3 425.8,47.9 425.9,46.7 425.9,46.0 426.0,45.6 426.1,44.7 426.1,44.4 426.2,44.0 426.3,43.3 426.3,43.1 426.4,42.7 426.5,42.1 426.5,42.1 426.7,41.3 426.8,40.5 427.0,39.9 427.2,39.4 427.4,39.0 427.6,38.7 427.8,38.7 427.9,38.9 428.1,39.7 428.3,41.1 428.5,40.7 428.7,38.4 428.9,36.8 429.0,35.7 429.2,34.9 429.4,34.3 429.6,33.8 429.8,33.5 429.9,33.2 430.1,33.0 430.3,33.0 430.5,33.2 430.7,33.7 430.9,34.7 431.0,33.3 431.2,32.3 431.4,31.6 431.6,31.1 431.8,30.7 432.0,30.4 432.1,30.2 432.3,30.0 432.5,29.8 432.7,29.6 432.9,29.5 433.1,29.4 433.2,29.4 433.4,29.5 433.6,29.7 433.8,30.1 434.0,30.8 434.2,30.2 434.3,29.5 434.5,29.0 434.7,28.6 434.9,28.4 435.1,28.2 435.2,28.0 435.4,27.9 435.6,27.8 435.8,27.8 436.0,27.7 436.2,27.7 436.3,27.7 436.5,27.8 436.7,28.0 436.9,28.4 437.1,28.5 437.3,28.0 437.4,27.6 437.6,27.4 437.8,27.3 438.0,27.2 438.2,27.1 438.4,27.1 438.5,27.2 438.7,27.4 438.9,27.6 439.1,28.1 439.3,28.9 439.5,28.5 439.6,27.8 439.8,27.3 440.0,27.0 440.2,26.8 440.4,26.7 440.6,26.6 440.7,26.6 440.9,26.5 441.1,26.5 441.3,26.5 441.5,26.4 441.6,26.4 441.8,26.4 442.0,26.4 442.2,26.4 442.4,26.3 442.6,26.3 442.7,26.3 442.9,26.3 443.1,26.3 443.3,26.3 443.5,26.3 443.7,26.2 443.7,26.2 443.8,26.2 443.8,26.2 443.9,26.2 444.0,29.0 444.0,29.7 444.1,37.0 444.2,42.2 444.2,44.0 444.3,50.8 444.4,54.4 444.4,57.2 444.5,63.3 444.6,65.6 444.6,69.2 444.7,74.8 444.8,75.9 444.8,80.2 444.9,85.4 444.9,85.4 445.0,90.3 445.1,94.2 445.1,95.0 445.2,99.5 445.3,102.3 445.3,103.8 445.4,107.9 445.5,109.8 445.5,111.8 445.6,115.5 445.7,116.7 445.7,119.1 445.8,122.6 445.9,123.0 445.9,125.8 446.0,128.8 446.0,129.0 446.1,132.0 446.2,134.2 446.2,134.9 446.3,137.6 446.4,139.2 446.4,140.2 446.5,142.7 446.6,143.7 446.6,145.1 446.7,147.4 446.8,147.9 446.8,149.6 446.9,151.7 446.9,151.8 447.0,153.7 447.1,155.4 447.1,155.6 447.2,157.5 447.3,158.7 447.3,159.2 447.4,160.9 447.5,161.7 447.5,162.5 447.6,164.0 447.7,164.5 447.7,165.5 447.8,166.9 447.9,167.1 447.9,168.2 448.0,169.5 448.0,169.5 448.1,170.7 448.2,171.7 448.2,171.9 448.3,173.0 448.4,173.7 448.4,174.1 448.5,175.1 448.6,175.5 448.6,176.1 448.7,177.0 448.8,177.3 448.8,177.9 448.9,178.8 449.0,178.8 449.0,179.6 449.1,180.3 449.1,180.4 449.2,181.1 449.3,181.6 449.3,181.8 449.5,182.5 449.5,182.9 449.6,183.2 449.7,183.8 449.7,184.0 449.8,184.4 449.9,184.9 449.9,185.1 450.0,185.5 450.1,186.0 450.1,186.0 450.2,186.5 450.2,186.9 450.3,187.0 450.4,187.4 450.4,187.0 450.5,187.4 450.6,187.4 450.6,187.3 450.7,187.2 450.8,188.0 450.8,188.4 450.9,188.8 451.0,188.4 451.0,188.1 451.1,189.0 451.2,189.9 451.2,189.8 451.3,189.0 451.3,189.9 451.4,190.8 451.5,190.3 451.5,191.0 451.6,190.9 451.7,191.1 451.7,191.3 451.9,191.1 452.1,191.8 452.2,192.4 452.4,192.3 452.6,192.4 452.8,193.8 453.0,193.5 453.2,194.0 453.3,193.9 453.5,194.6 453.7,194.2 453.9,194.5 454.1,194.7 454.3,195.2 454.4,195.1 454.6,195.5 454.8,195.8 455.0,195.2 455.2,195.9 455.4,195.0 455.5,195.3 455.7,196.5 455.9,195.6 456.1,196.3 456.3,195.9 456.5,195.9 456.6,196.9 456.8,196.2 457.0,196.2 457.2,195.7 457.4,196.7 457.5,195.9 457.7,196.8 457.9,196.5 458.1,196.7 458.3,195.7 458.5,196.2 458.6,195.4 458.8,196.2 459.0,196.1 459.2,196.1 459.4,196.8 459.6,196.6 459.7,196.0 459.9,196.8 460.1,196.5 460.3,196.6 460.5,196.4 460.7,196.8 460.8,196.7 461.0,196.6 461.2,196.7 461.4,197.1 461.6,196.3 461.8,197.3 461.9,197.3 462.1,197.3 462.3,196.4 462.5,197.0 462.7,197.2 462.8,197.3 463.0,196.6 463.2,197.3 463.4,197.4 463.6,196.6 463.8,197.4 463.9,197.0 464.1,196.9 464.3,197.1 464.5,196.9 464.7,196.3 464.9,197.1 465.0,197.5 465.2,197.7 465.4,197.0 465.6,197.1 465.8,196.8 466.0,197.2 466.1,197.2 466.3,197.3 466.5,197.2 466.7,196.9 466.9,197.2 467.1,197.0 467.2,196.2 467.4,196.8 467.6,197.7 467.8,196.3 468.0,196.9 468.1,197.5 468.3,196.7 468.5,197.1 468.7,197.4 468.9,197.4 469.1,197.5 469.2,197.1 469.4,196.7 469.6,197.3 469.8,197.0 470.0,196.3 470.2,197.7 470.3,197.0 470.5,197.3 470.7,197.6 470.9,197.6 471.1,197.2 471.3,197.0 471.4,197.4 471.6,197.2 471.8,196.9 472.0,197.1 472.2,196.9 472.4,197.0 472.5,197.0 472.7,196.5 472.9,197.0 473.1,197.2 473.3,197.0 473.4,197.7 473.6,197.4 473.8,197.0 474.0,197.0 474.2,196.6 474.4,197.3 474.5,198.0 474.7,196.5 474.9,196.9 475.1,197.8 475.3,196.8 475.5,197.4 475.6,198.2 475.8,197.6 476.0,197.6 476.2,196.7 476.4,197.8 476.6,197.5 476.7,197.5 476.9,197.6 477.1,197.8 477.3,197.4 477.5,197.0 477.7,197.2 477.8,197.9 478.0,198.0 478.2,197.4 478.4,197.8 478.6,197.8 478.7,198.2 478.9,196.7 479.1,197.1 479.3,198.0 479.5,197.1 479.7,197.0 479.8,198.6 480.0,197.8 480.2,197.7 480.4,197.3 480.6,197.6 480.8,197.7 480.9,197.6 481.1,196.8 481.3,196.7 481.5,197.9 481.7,198.0 481.9,196.5 482.0,198.1 482.2,197.9 482.4,197.6 482.6,197.5 482.8,197.2 483.0,197.5 483.1,198.1 483.3,197.5 483.5,197.6 483.7,196.9 483.9,197.7 484.1,198.3 484.2,198.2 484.4,197.1 484.6,198.0 484.8,198.7 485.0,198.0 485.1,197.8 485.3,197.3 485.5,198.2 485.7,197.5 485.9,197.5 486.1,198.1 486.2,197.9 486.4,197.0 486.6,197.1 486.8,197.5 487.0,197.7 487.2,197.4 487.3,197.9 487.5,197.9 487.7,198.3 487.9,197.9 488.1,197.9 488.3,196.7 488.4,198.0 488.6,197.4 488.8,197.3 489.0,198.0 489.2,197.4 489.4,198.9 489.5,197.9 489.7,197.6 489.9,199.0 490.1,198.5 490.3,197.5 490.4,198.1 490.6,198.5 490.8,198.2 491.0,198.3 491.2,197.7 491.4,197.8 491.5,198.2 491.7,198.3 491.9,198.1 492.1,197.5 492.3,197.9 492.5,197.8 492.6,198.1 492.8,198.7 493.0,198.4 493.2,197.8 493.4,198.1 493.6,198.5 493.7,198.8 493.9,198.1 494.1,198.3 494.3,198.3 494.5,198.3 494.7,198.0 494.8,198.0 495.0,197.8 495.2,197.8 495.4,197.6 495.6,197.8 495.7,198.4 495.9,198.2 496.1,198.0 496.3,198.4 496.5,198.0 496.7,197.7 496.8,198.6 497.0,199.0 497.2,197.7 497.4,198.3 497.6,198.0 497.8,198.9 497.9,197.5 498.1,198.0 498.3,198.4 498.5,198.5 498.7,198.3 498.9,198.4 499.0,198.5 499.2,198.8 499.4,197.8 499.6,198.4 499.8,198.3 500.0,198.3 500.1,199.4 500.3,198.2 500.5,198.6 500.7,198.5 500.9,198.4 501.0,198.9 501.1,198.1 501.2,198.7 501.2,198.8 501.3,198.8 501.4,197.4 501.4,197.4 501.5,197.4 501.6,197.4 501.6,197.4 501.7,197.4 501.8,197.4 501.8,197.4 501.9,197.4 502.0,197.4 502.0,197.4 502.1,197.4 502.1,197.4 502.2,197.4 502.3,197.4 502.3,197.4 502.4,194.4 502.5,186.7 502.5,183.6 502.6,173.7 502.7,168.9 502.7,164.8 502.8,156.6 502.9,154.0 502.9,149.1 503.0,142.3 503.1,141.2 503.1,136.1 503.2,130.4 503.2,130.4 503.3,125.1 503.4,121.2 503.4,120.3 503.5,115.8 503.6,113.2 503.6,111.7 503.7,107.9 503.8,106.3 503.8,104.4 503.9,101.1 504.0,100.2 504.0,98.0 504.1,95.2 504.2,94.9 504.2,92.6 504.3,90.3 504.3,90.1 504.4,87.8 504.5,86.1 504.5,85.6 504.6,83.5 504.7,82.4 504.7,81.6 504.8,79.8 504.9,79.1 504.9,78.0 505.0,76.4 505.1,76.1 505.1,74.8 505.2,73.4 505.3,73.3 505.3,71.9 505.4,70.8 505.4,70.6 505.6,69.3 505.6,68.5 505.7,68.1 505.8,66.9 505.8,66.3 505.9,65.8 506.0,64.7 506.0,64.3 506.1,63.6 506.2,62.6 506.2,62.5 506.3,61.7 506.3,60.8 506.4,60.7 506.5,59.8 506.5,59.1 506.6,58.9 506.7,58.6 506.7,58.1 506.8,57.8 506.9,57.1 506.9,56.8 507.0,56.5 507.1,55.9 507.1,55.8 507.2,55.4 507.3,55.0 507.3,55.0 507.4,54.7 507.4,54.6 507.5,54.6 507.6,54.7 507.6,53.8 507.7,53.4 507.8,52.2 507.8,51.7 507.9,51.2 508.0,50.3 508.0,50.0 508.1,49.5 508.2,48.7 508.2,48.6 508.3,48.1 508.4,47.4 508.4,47.4 508.5,46.8 508.5,46.4 508.6,46.3 508.7,45.8 508.7,45.4 508.8,45.3 508.9,44.8 508.9,44.6 509.0,44.3 509.1,43.9 509.1,43.8 509.3,43.1 509.5,42.4 509.6,41.9 509.8,41.5 510.0,41.3 510.2,41.4 510.4,40.7 510.6,39.5 510.7,38.6 510.9,37.8 511.1,37.2 511.3,36.6 511.5,36.1 511.6,35.7 511.8,35.3 512.0,34.9 512.2,34.6 512.4,34.3 512.6,34.1 512.7,34.1 512.9,34.2 513.1,34.2 513.3,33.4 513.5,32.8 513.7,32.3 513.8,31.9 514.0,31.6 514.2,31.3 514.4,31.0 514.6,30.8 514.8,30.6 514.9,30.4 515.1,30.2 515.3,30.1 515.5,29.9 515.7,29.8 515.9,29.7 516.0,29.6 516.2,29.6 516.4,29.7 516.6,29.9 516.8,30.4 516.9,29.9 517.1,29.3 517.3,28.9 517.5,28.7 517.7,28.5 517.9,28.3 518.0,28.2 518.2,28.1 518.4,28.0 518.6,28.0 518.8,28.0 519.0,28.0 519.1,28.1 519.3,28.4 519.5,28.9 519.7,29.7 519.9,29.8 520.1,28.8 520.2,28.2 520.4,27.8 520.6,27.6 520.8,27.5 521.0,27.6 521.2,27.7 521.3,28.0 521.5,28.6 521.7,28.9 521.9,28.1 522.1,27.6 522.2,27.2 522.4,27.0 522.6,26.9 522.8,26.8 523.0,26.7 523.2,26.6 523.3,26.6 523.5,26.6 523.7,26.5 523.9,26.5 524.1,26.5 524.3,26.5 524.4,26.4 524.6,26.4 524.8,26.4 525.0,26.4 525.2,26.4 525.4,26.3 525.5,26.3 525.7,26.3 525.9,26.3 525.9,26.3 526.0,26.3 526.1,26.3 526.1,26.3 526.2,29.7 526.3,32.1 526.3,37.1 526.4,44.1 526.5,45.0 526.5,50.8 526.6,57.0 526.6,57.2 526.7,63.4 526.8,68.0 526.8,69.3 526.9,74.9 527.0,78.1 527.0,80.3 527.1,85.4 527.2,87.5 527.2,90.3 527.3,95.0 527.4,96.1 527.4,99.5 527.5,103.8 527.6,104.1 527.6,107.9 527.7,111.4 527.7,111.8 527.8,115.6 527.9,118.1 527.9,119.2 528.0,122.6 528.1,124.3 528.1,125.9 528.2,129.0 528.3,130.1 528.3,132.0 528.4,134.9 528.5,135.4 528.5,137.6 528.6,140.2 528.6,140.2 528.7,142.7 528.8,144.7 528.8,145.1 528.9,147.4 529.0,148.8 529.0,149.6 529.1,151.7 529.2,152.6 529.2,153.7 529.3,155.6 529.4,156.2 529.5,157.5 529.6,159.2 529.6,159.4 529.7,160.9 529.7,162.4 529.8,162.5 529.9,164.0 529.9,165.1 530.0,165.5 530.1,166.9 530.1,167.7 530.2,168.2 530.3,169.5 530.3,170.0 530.4,170.7 530.5,171.9 530.5,172.1 530.6,173.0 530.7,174.1 530.7,174.1 530.8,175.1 530.8,175.9 530.9,176.1 531.0,177.0 531.0,177.6 531.1,177.9 531.2,178.8 531.2,179.2 531.3,179.6 531.4,180.4 531.4,180.6 531.5,181.1 531.6,181.8 531.6,181.9 531.7,182.5 531.8,183.1 531.8,183.2 531.9,183.8 531.9,184.3 532.0,184.4 532.1,184.9 532.1,185.3 532.2,185.5 532.3,186.0 532.3,186.2 532.4,186.5 532.5,187.0 532.5,187.1 532.6,187.4 532.7,186.4 532.7,186.2 532.8,187.2 532.9,187.9 532.9,186.9 533.0,188.2 533.0,187.5 533.1,188.1 533.2,188.7 533.2,188.9 533.3,188.6 533.4,188.7 533.4,189.3 533.5,189.0 533.6,188.8 533.6,189.9 533.7,190.5 533.8,190.8 533.8,190.9 533.9,190.8 533.9,191.1 534.1,191.8 534.3,191.4 534.5,193.1 534.7,192.9 534.9,191.8 535.0,192.5 535.2,193.0 535.4,193.3 535.6,192.9 535.8,193.7 536.0,194.1 536.1,194.9 536.3,194.5 536.5,195.0 536.7,195.1 536.9,195.3 537.1,195.1 537.2,195.3 537.4,194.9 537.6,196.0 537.8,195.6 538.0,194.8 538.2,195.7 538.3,195.2 538.5,195.4 538.7,195.3 538.9,195.7 539.1,196.7 539.2,196.2 539.4,196.3 539.6,196.9 539.8,196.5 540.0,196.9 540.2,197.1 540.3,196.3 540.5,196.5 540.7,196.8 540.9,196.9 541.1,196.8 541.3,196.8 541.4,196.8 541.6,196.7 541.8,196.9 542.0,196.6 542.2,196.5 542.4,196.6 542.5,197.1 542.7,197.1 542.9,196.7 543.1,197.0 543.3,196.9 543.5,198.0 543.6,198.1 543.8,196.8 544.0,196.9 544.2,196.4 544.4,196.7 544.5,197.0 544.7,197.1 544.9,197.7 545.1,196.7 545.3,197.4 545.5,197.0 545.6,197.1 545.8,197.1 546.0,196.8 546.2,197.5 546.4,197.4 546.6,197.7 546.7,197.5 546.9,196.6 547.1,197.5 547.2,196.8 547.3,197.0 547.3,197.0 547.4,197.0 547.5,197.4 547.5,197.4 547.6,197.4 547.7,197.4 547.7,197.4 547.8,197.4 547.8,197.4 547.9,197.4 548.0,197.4 548.0,197.4 548.1,197.4 548.2,197.4 548.2,197.4 548.3,197.4 548.4,197.4 548.4,197.4 548.5,194.4 548.6,183.6 548.6,183.3 548.7,173.7 548.8,166.1 548.8,164.8 548.9,156.6 548.9,151.5 549.0,149.1 549.1,142.3 549.1,139.2 549.2,136.1 549.3,130.4 549.3,128.6 549.4,125.1 549.5,120.3 549.5,119.6 549.6,115.8 549.7,111.9 549.7,111.7 549.8,107.9 549.8,105.1 549.9,104.4 550.0,101.1 550.0,99.2 550.1,98.0 550.2,95.2 550.2,94.1 550.3,92.6 550.4,90.1 550.4,89.5 550.5,87.8 550.6,85.6 550.6,85.4 550.7,83.5 550.8,81.8 550.8,81.6 550.9,79.8 550.9,78.5 551.0,78.0 551.1,76.4 551.1,75.6 551.2,74.8 551.3,73.4 551.3,72.8 551.4,71.9 551.5,70.6 551.5,70.4 551.6,69.3 551.7,68.1 551.7,68.1 551.8,66.9 551.9,66.0 551.9,65.8 552.0,64.7 552.0,64.0 552.1,63.6 552.2,62.6 552.2,62.2 552.3,61.7 552.4,60.7 552.4,60.5 552.5,59.8 552.6,58.9 552.6,58.9 552.7,58.3 552.8,57.6 552.8,57.6 552.9,56.9 553.0,56.4 553.0,56.2 553.1,55.6 553.1,55.3 553.2,55.1 553.3,54.6 553.3,54.4 553.4,54.2 553.5,54.0 553.5,53.9 553.6,53.7 553.7,52.5 553.7,52.5 553.8,51.6 553.9,50.8 553.9,50.7 554.0,49.9 554.1,49.4 554.1,49.2 554.2,48.5 554.2,48.2 554.3,47.9 554.4,47.3 554.4,47.1 554.5,46.7 554.6,46.2 554.6,46.1 554.7,45.7 554.8,45.2 554.8,45.2 554.9,44.7 555.0,44.3 555.0,44.2 555.1,43.8 555.1,43.5 555.3,42.8 555.5,42.1 555.7,41.4 555.9,40.7 556.1,40.2 556.2,39.6 556.4,39.1 556.6,38.7 556.8,38.4 557.0,38.2 557.2,38.3 557.3,38.7 557.5,39.0 557.7,37.4 557.9,36.3 558.1,35.5 558.3,34.8 558.4,34.3 558.6,33.9 558.8,33.5 559.0,33.3 559.2,33.1 559.4,32.9 559.5,32.9 559.7,33.1 559.9,33.6 560.1,33.0 560.3,32.2 560.4,31.6 560.6,31.2 560.8,30.8 561.0,30.6 561.2,30.4 561.4,30.3 561.5,30.2 561.7,30.3 561.9,30.4 562.1,30.9 562.3,31.6 562.5,33.0 562.6,35.3 562.8,32.9 563.0,31.2 563.2,30.1 563.4,29.4 563.6,29.0 563.7,28.6 563.9,28.4 564.1,28.3 564.3,28.1 564.5,28.0 564.7,28.0 564.8,28.0 565.0,28.1 565.2,28.3 565.4,28.6 565.6,28.1 565.7,27.8 565.9,27.6 566.1,27.5 566.3,27.4 566.5,27.3 566.7,27.3 566.8,27.3 567.0,27.3 567.2,27.4 567.4,27.7 567.6,28.0 567.8,28.7 567.9,28.2 568.1,27.6 568.3,27.3 568.5,27.0 568.7,26.9 568.9,26.8 569.0,26.7 569.2,26.7 569.4,26.7 569.6,26.8 569.8,26.9 570.0,27.0 570.1,27.3 570.3,27.8 570.5,28.6 570.7,27.8 570.9,27.2 571.1,26.9 571.2,26.7 571.4,26.6 571.6,26.5 571.8,26.4 572.0,26.4 572.1,26.4 572.3,26.4 572.5,26.4 572.7,26.4 572.9,26.5 573.1,26.6 573.2,26.9 573.4,27.2 573.6,27.8 573.8,28.8 574.0,28.6 574.2,27.7 574.3,27.1 574.5,26.8 574.7,26.6 574.9,26.4 575.1,26.4 575.3,26.4 575.4,26.5 575.6,26.7 575.8,27.0 576.0,27.3 576.2,26.8 576.4,26.5 576.5,26.4 576.7,26.3 576.9,26.2 577.1,26.2 577.3,26.1 577.4,26.1 577.6,26.1 577.8,26.2 578.0,26.2 578.2,26.3 578.4,26.4 578.5,26.7 578.7,27.0 578.9,26.8 579.1,26.5 579.3,26.3 579.5,26.2 579.6,26.2 579.8,26.1 580.0,26.1 580.2,26.1 580.4,26.1 580.6,26.1 580.7,26.1 580.9,26.1 581.1,26.2 581.3,26.3 581.5,26.5 581.7,26.8 581.8,27.3 582.0,27.8 582.2,27.1 582.4,26.7 582.6,26.4 582.7,26.3 582.9,26.2 583.1,26.1 583.3,26.1 583.5,26.0 583.7,26.0 583.8,26.0 584.0,26.0 584.2,26.0 584.4,26.0 584.6,26.0 584.8,26.0 584.9,26.0 585.1,26.0 585.3,26.0 585.5,26.0 585.6,26.0 585.7,26.0 585.7,26.0 585.8,26.0 585.9,26.0 585.9,29.4 586.0,36.2 586.0,36.8 586.1,43.8 586.2,48.9 586.2,50.6 586.3,57.0 586.4,60.5 586.4,63.2 586.5,69.1 586.6,71.3 586.6,74.7 586.7,80.1 586.8,81.1 586.8,85.2 586.9,90.1 587.0,90.3 587.0,94.8 587.1,98.7 587.1,99.3 587.2,103.6 587.3,106.4 587.3,107.7 587.5,111.7 587.5,113.5 587.6,115.4 587.7,119.0 587.7,120.1 587.8,122.5 587.9,125.7 587.9,126.2 588.0,128.9 588.0,131.8 588.1,131.9 588.2,134.8 588.2,136.9 588.3,137.5 588.4,140.1 588.4,141.7 588.5,142.6 588.6,145.1 588.6,146.0 588.7,147.3 588.8,149.5 588.8,150.1 588.9,151.6 589.0,153.6 589.0,153.8 589.1,155.6 589.1,157.2 589.2,157.4 589.3,159.2 589.3,160.3 589.4,160.8 589.5,162.4 589.5,163.3 589.6,164.0 589.7,165.4 589.7,165.9 589.8,166.8 589.9,168.2 589.9,168.4 590.0,169.5 590.1,170.7 590.1,170.7 590.2,171.9 590.2,172.8 590.3,173.0 590.4,174.0 590.4,174.7 590.5,175.1 590.6,176.0 590.6,176.5 590.7,177.0 590.8,177.9 590.8,178.1 590.9,178.7 591.0,179.6 591.0,179.6 591.1,180.3 591.2,181.0 591.2,181.1 591.3,181.8 591.3,182.3 591.4,182.5 591.5,183.1 591.5,183.5 591.6,183.8 591.7,184.4 591.7,184.6 591.8,184.9 591.9,185.5 591.9,185.6 592.0,186.0 592.1,186.5 592.1,186.5 592.2,187.0 592.3,187.4 592.3,187.4 592.4,185.9 592.4,185.5 592.5,185.1 592.6,186.5 592.6,186.4 592.7,186.9 592.8,186.8 592.8,187.6 592.9,186.6 593.0,187.8 593.0,188.4 593.1,187.2 593.2,187.9 593.2,188.1 593.3,188.4 593.3,189.0 593.4,189.0 593.5,188.8 593.5,188.9 593.6,189.0 593.7,189.7 593.9,190.4 594.1,190.6 594.3,190.4 594.4,190.6 594.6,191.7 594.8,192.0 595.0,191.5 595.2,192.0 595.4,192.2 595.5,193.3 595.7,193.1 595.9,193.3 596.1,193.2 596.3,194.1 596.5,193.0 596.6,193.5 596.8,193.6 597.0,194.4 597.2,194.0 597.4,193.5 597.6,194.9 597.7,194.1 597.9,194.0 598.1,194.7 598.3,194.1 598.5,194.6 598.6,194.0 598.8,194.4 599.0,194.6 599.2,193.8 599.4,194.4 599.6,194.2 599.7,195.3 599.9,195.1 600.1,194.5 600.3,194.5 600.5,195.0 600.7,194.6 600.8,195.5 601.0,194.9 601.2,195.5 601.4,194.9 601.6,195.3 601.8,195.4 601.9,195.1 602.1,194.3 602.3,195.6 602.5,195.4 602.7,194.7 602.9,195.4 603.0,194.4 603.2,195.1 603.4,195.2 603.6,195.1 603.8,194.5 603.9,195.0 604.1,195.0 604.3,195.2 604.5,196.0 604.7,195.7 604.9,194.6 605.0,194.9 605.2,195.1 605.4,195.0 605.6,195.6 605.8,195.2 606.0,195.7 606.1,195.2 606.3,195.7 606.5,195.5 606.7,195.2 606.9,195.5 607.1,195.1 607.2,195.2 607.4,195.2 607.6,194.8 607.8,196.1 608.0,196.1 608.2,195.2 608.3,195.0 608.5,194.6 608.7,195.1 608.9,195.1 609.1,195.9 609.2,195.1 609.4,195.2 609.6,195.9 609.8,195.9 610.0,195.5 610.2,195.4 610.3,196.8 610.5,195.5 610.7,195.4 610.9,195.6 611.1,195.4 611.3,195.3 611.4,196.0 611.6,195.4 611.8,195.7 612.0,196.0 612.2,195.5 612.4,194.9 612.5,196.2 612.7,196.3 612.9,196.3 613.1,194.7 613.3,195.7 613.5,195.6 613.6,196.0 613.8,196.0 614.0,196.5 614.2,195.6 614.4,195.5 614.6,196.5 614.7,196.1 614.9,196.0 615.1,195.7 615.3,195.6 615.5,195.2 615.6,195.1 615.8,195.2 616.0,195.1 616.2,196.2 616.4,195.9 616.6,195.2 616.7,195.6 616.9,195.7 617.1,196.6 617.3,196.6 617.5,195.4 617.7,195.6 617.8,195.9 618.0,195.9 618.2,196.5 618.4,195.6 618.6,195.3 618.8,195.1 618.9,195.8 619.1,195.9 619.3,196.3 619.5,195.3 619.7,195.1 619.9,196.1 620.0,195.7 620.2,195.8 620.4,196.1 620.6,196.9 620.8,196.0 620.9,195.6 621.1,196.5 621.3,196.2 621.5,197.3 621.7,195.3 621.9,195.7 622.0,195.9 622.2,196.0 622.4,196.2 622.6,195.9 622.8,196.0 623.0,196.0 623.1,195.9 623.3,195.9 623.5,195.3 623.7,196.6 623.9,195.8 624.1,196.2 624.2,196.5 624.4,197.0 624.6,195.7 624.8,196.4 625.0,196.3 625.2,195.8 625.3,196.5 625.5,196.0 625.7,196.0 625.9,195.7 626.1,195.6 626.2,196.4 626.4,195.6 626.6,196.1 626.8,196.0 627.0,196.1 627.2,195.7 627.3,196.6 627.5,196.0 627.7,195.6 627.9,196.2 628.1,195.2 628.3,196.4 628.4,196.0 628.6,196.3 628.8,196.4 629.0,196.6 629.2,196.4 629.4,196.1 629.5,196.5 629.7,195.7 629.9,195.5 630.1,196.8 630.3,195.8 630.5,196.1 630.6,196.1 630.8,195.1 631.0,195.6 631.2,196.0 631.4,196.1 631.5,197.1 631.7,195.9 631.9,196.5 632.1,196.1 632.3,196.2 632.5,195.8 632.6,195.3 632.8,195.8 633.0,195.7 633.2,196.3 633.4,196.1 633.6,195.9 633.7,196.9 633.9,195.4 634.1,196.6 634.3,196.8 634.5,195.6 634.7,195.4 634.8,196.6 635.0,196.6 635.2,194.9 635.4,196.3 635.6,197.2 635.8,196.6 635.8,195.4 635.9,196.0 635.9,196.0 636.0,195.8 636.1,197.4 636.1,197.4 636.2,197.4 636.3,197.4 636.3,197.4 636.4,197.4 636.5,197.4 636.5,197.4 636.6,197.4 636.7,197.4 636.7,197.4 636.8,197.4 636.8,197.4 636.9,197.4 637.0,197.4 637.0,197.4 637.1,194.4 637.2,183.6 637.2,178.8 637.3,173.7 637.4,164.8 637.4,162.2 637.5,156.6 637.6,149.1 637.6,148.3 637.7,142.3 637.8,136.4 637.8,136.1 637.9,130.4 637.9,126.3 638.0,125.1 638.1,120.3 638.1,117.6 638.2,115.8 638.3,111.7 638.3,110.1 638.4,107.9 638.5,104.4 638.5,103.6 638.6,101.1 638.7,98.0 638.7,97.9 638.8,95.2 638.9,92.9 638.9,92.6 639.0,90.1 639.0,88.5 639.1,87.8 639.2,85.6 639.2,84.5 639.3,83.5 639.4,81.6 639.4,81.0 639.5,79.8 639.6,78.0 639.6,77.8 639.7,76.4 639.8,74.9 639.8,74.8 639.9,73.4 640.0,72.2 640.0,71.9 640.1,70.6 640.1,69.8 640.2,69.3 640.3,68.1 640.3,67.5 640.4,66.9 640.5,65.8 640.5,65.5 640.6,64.7 640.7,63.6 640.7,63.5 640.8,62.6 640.9,61.7 640.9,61.7 641.0,60.7 641.1,60.1 641.1,59.8 641.2,58.9 641.2,58.6 641.3,58.2 641.4,57.4 641.4,57.1 641.5,56.6 641.6,55.8 641.6,55.6 641.7,55.1 641.8,54.3 641.8,54.3 641.9,53.7 642.0,53.1 642.0,53.0 642.1,52.4 642.1,52.0 642.2,51.8 642.3,51.2 642.3,50.9 642.4,50.7 642.5,50.2 642.5,50.0 642.6,49.7 642.7,49.3 642.7,49.3 642.8,49.0 642.9,48.7 642.9,48.7 643.0,48.6 643.1,48.5 643.1,48.5 643.2,47.7 643.2,47.2 643.3,46.8 643.4,46.1 643.4,45.8 643.5,45.4 643.6,44.8 643.6,44.6 643.7,44.2 643.8,43.7 644.0,42.8 644.2,42.0 644.3,41.3 644.5,40.6 644.7,40.0 644.9,39.5 645.1,39.0 645.3,38.6 645.4,38.3 645.6,38.1 645.8,38.2 646.0,38.6 646.2,38.1 646.4,36.8 646.5,35.9 646.7,35.2 646.9,34.7 647.1,34.2 647.3,33.9 647.4,33.7 647.6,33.6 647.8,33.6 648.0,33.9 648.2,34.5 648.4,35.7 648.5,37.8 648.7,37.9 648.9,35.2 649.1,33.4 649.3,32.3 649.5,31.5 649.6,30.9 649.8,30.5 650.0,30.2 650.2,30.0 650.4,29.8 650.6,29.7 650.7,29.7 650.9,29.8 651.1,30.0 651.3,30.5 651.5,31.3 651.7,30.6 651.8,29.8 652.0,29.2 652.2,28.8 652.4,28.5 652.6,28.3 652.7,28.2 652.9,28.0 653.1,27.9 653.3,27.9 653.5,27.8 653.7,27.8 653.8,27.8 654.0,27.9 654.2,28.0 654.4,28.3 654.6,28.2 654.8,27.8 654.9,27.6 655.1,27.4 655.3,27.3 655.5,27.3 655.7,27.3 655.9,27.4 656.0,27.6 656.2,27.9 656.4,28.5 656.6,29.4 656.8,28.4 657.0,27.7 657.1,27.3 657.3,27.1 657.5,26.9 657.7,26.8 657.9,26.7 658.1,26.7 658.2,26.7 658.4,26.8 658.6,26.9 658.8,27.2 659.0,27.6 659.1,28.3 659.3,29.4 659.5,28.3 659.7,27.6 659.9,27.1 660.1,26.8 660.2,26.7 660.4,26.6 660.6,26.6 660.8,26.6 661.0,26.7 661.2,26.9 661.3,27.3 661.5,27.9 661.7,28.9 661.9,28.3 662.1,27.5 662.3,27.0 662.4,26.7 662.6,26.5 662.8,26.4 663.0,26.3 663.2,26.2 663.4,26.2 663.5,26.2 663.7,26.2 663.9,26.3 664.1,26.3 664.3,26.4 664.4,26.6 664.6,27.0 664.8,27.5 665.0,28.3 665.2,28.6 665.4,27.6 665.5,27.0 665.7,26.7 665.9,26.4 666.1,26.3 666.3,26.2 666.5,26.1 666.6,26.1 666.8,26.1 667.0,26.1 667.2,26.1 667.4,26.0 667.5,26.0 667.6,26.0 667.6,26.0 667.7,26.0 667.7,27.1 667.8,29.5 667.9,36.8 667.9,40.4 668.0,43.9 668.1,50.6 668.1,52.7 668.2,57.0 668.3,63.2 668.3,64.1 668.4,69.1 668.5,74.5 668.5,74.7 668.6,80.1 668.7,84.2 668.7,85.2 668.8,90.2 668.8,93.1 668.9,94.9 669.0,99.4 669.0,101.2 669.1,103.7 669.2,107.8 669.2,108.8 669.3,111.7 669.4,115.5 669.4,115.7 669.5,119.0 669.6,122.1 669.6,122.5 669.7,125.8 669.7,128.0 669.8,128.9 669.9,131.9 669.9,133.5 670.0,134.8 670.1,137.5 670.1,138.5 670.2,140.2 670.3,142.7 670.3,143.1 670.4,145.1 670.5,147.4 670.5,147.4 670.6,149.6 670.7,151.3 670.7,151.7 670.8,153.7 670.8,154.9 670.9,155.6 671.0,157.4 671.0,158.2 671.1,159.2 671.2,160.8 671.2,161.3 671.3,162.4 671.4,164.0 671.4,164.1 671.5,165.4 671.6,166.8 671.6,166.8 671.7,168.2 671.8,169.2 671.8,169.5 671.9,170.7 671.9,171.4 672.0,171.9 672.1,173.0 672.1,173.4 672.2,174.0 672.3,175.1 672.3,175.3 672.4,176.1 672.5,177.0 672.5,177.0 672.6,177.9 672.7,178.6 672.7,178.7 672.8,179.6 672.9,180.1 672.9,180.3 673.0,181.1 673.0,181.5 673.1,181.8 673.2,182.5 673.2,182.7 673.3,183.1 673.4,183.8 673.4,183.9 673.5,184.4 673.6,184.9 673.6,184.9 673.7,185.5 673.8,185.9 673.8,186.0 673.9,186.5 674.0,186.8 674.0,187.0 674.1,187.4 674.1,187.6 674.2,187.9 674.3,188.3 674.3,188.4 674.4,188.7 674.5,189.1 674.5,189.1" fill="none" stroke="#D95319" stroke-width="2.0" stroke-linejoin="round" /><polyline points="418.8,41.4 418.8,41.4 418.9,41.4 419.0,41.4 419.0,41.4 419.1,41.4 419.2,41.4 419.2,41.4 419.3,41.4 419.3,41.4 419.4,41.4 419.5,41.4 419.5,41.4 419.6,41.4 419.7,41.4 419.7,41.4 419.8,41.4 419.9,41.4 419.9,41.4 420.0,41.4 420.1,41.4 420.1,41.4 420.3,41.4 420.3,41.4 420.4,41.4 420.4,41.4 420.5,41.4 420.6,41.4 420.6,41.4 420.7,41.4 420.8,41.4 420.8,41.4 420.9,41.4 421.0,41.4 421.0,41.4 421.1,41.4 421.2,41.4 421.2,41.4 421.3,41.4 421.4,41.4 421.4,41.4 421.5,41.4 421.5,41.4 421.6,41.4 421.7,41.4 421.7,41.4 421.8,41.4 421.9,41.4 421.9,41.4 422.0,41.4 422.1,41.4 422.1,41.4 422.2,41.4 422.3,41.4 422.3,41.4 422.4,41.4 422.5,41.4 422.5,41.4 422.6,41.4 422.6,41.4 422.7,41.4 422.8,41.4 422.8,41.4 422.9,41.4 423.0,41.4 423.0,41.4 423.1,41.4 423.2,41.4 423.2,41.4 423.3,41.4 423.4,41.4 423.4,41.4 423.5,41.4 423.6,41.4 423.6,41.4 423.7,41.4 423.7,41.4 423.8,41.4 423.9,41.4 423.9,41.4 424.0,41.4 424.1,41.4 424.1,41.4 424.2,41.4 424.3,41.4 424.3,41.4 424.4,41.4 424.5,41.4 424.5,41.4 424.6,41.4 424.6,41.4 424.7,41.4 424.8,41.4 424.8,41.4 424.9,41.4 425.0,41.4 425.0,41.4 425.1,41.4 425.2,41.4 425.2,41.4 425.3,41.4 425.4,41.4 425.4,41.4 425.5,41.4 425.6,41.4 425.6,41.4 425.7,41.4 425.7,41.4 425.8,41.4 425.9,41.4 425.9,41.4 426.0,41.4 426.1,41.4 426.1,41.4 426.2,41.4 426.3,41.4 426.3,41.4 426.4,41.4 426.5,41.4 426.5,41.4 426.7,41.4 426.8,41.4 427.0,41.4 427.2,41.4 427.4,41.4 427.6,41.4 427.8,41.4 427.9,41.4 428.1,41.4 428.3,41.4 428.5,41.4 428.7,41.4 428.9,41.4 429.0,41.4 429.2,41.4 429.4,41.4 429.6,41.4 429.8,41.4 429.9,41.4 430.1,41.4 430.3,41.4 430.5,41.4 430.7,41.4 430.9,41.4 431.0,41.4 431.2,41.4 431.4,41.4 431.6,41.4 431.8,41.4 432.0,41.4 432.1,41.4 432.3,41.4 432.5,41.4 432.7,41.4 432.9,41.4 433.1,41.4 433.2,41.4 433.4,41.4 433.6,41.4 433.8,41.4 434.0,41.4 434.2,41.4 434.3,41.4 434.5,41.4 434.7,41.4 434.9,41.4 435.1,41.4 435.2,41.4 435.4,41.4 435.6,41.4 435.8,41.4 436.0,41.4 436.2,41.4 436.3,41.4 436.5,41.4 436.7,41.4 436.9,41.4 437.1,41.4 437.3,41.4 437.4,41.4 437.6,41.4 437.8,41.4 438.0,41.4 438.2,41.4 438.4,41.4 438.5,41.4 438.7,41.4 438.9,41.4 439.1,41.4 439.3,41.4 439.5,41.4 439.6,41.4 439.8,41.4 440.0,41.4 440.2,41.4 440.4,41.4 440.6,41.4 440.7,41.4 440.9,41.4 441.1,41.4 441.3,41.4 441.5,41.4 441.6,41.4 441.8,41.4 442.0,41.4 442.2,41.4 442.4,41.4 442.6,41.4 442.7,41.4 442.9,41.4 443.1,41.4 443.3,41.4 443.5,41.4 443.7,41.4 443.7,41.4 443.8,41.4 443.8,41.4 443.9,41.4 444.0,31.2 444.0,31.3 444.1,32.0 444.2,32.6 444.2,32.7 444.3,33.4 444.4,33.7 444.4,34.0 444.5,34.6 444.6,34.8 444.6,35.1 444.7,35.6 444.8,35.7 444.8,36.0 444.9,36.4 444.9,36.4 445.0,36.8 445.1,37.1 445.1,37.2 445.2,37.5 445.3,37.7 445.3,37.8 445.4,38.1 445.5,38.2 445.5,38.3 445.6,38.5 445.7,38.6 445.7,38.8 445.8,39.0 445.9,39.0 445.9,39.2 446.0,39.3 446.0,39.3 446.1,39.5 446.2,39.6 446.2,39.6 446.3,39.8 446.4,39.8 446.4,39.9 446.5,40.0 446.6,40.1 446.6,40.1 446.7,40.2 446.8,40.2 446.8,40.3 446.9,40.4 446.9,40.4 447.0,40.5 447.1,40.5 447.1,40.6 447.2,40.6 447.3,40.7 447.3,40.7 447.4,40.7 447.5,40.8 447.5,40.8 447.6,40.8 447.7,40.9 447.7,40.9 447.8,40.9 447.9,40.9 447.9,41.0 448.0,41.0 448.0,41.0 448.1,41.0 448.2,41.1 448.2,41.1 448.3,41.1 448.4,41.1 448.4,41.1 448.5,41.1 448.6,41.2 448.6,41.2 448.7,41.2 448.8,41.2 448.8,41.2 448.9,41.2 449.0,41.2 449.0,41.2 449.1,41.3 449.1,41.3 449.2,41.3 449.3,41.3 449.3,41.3 449.5,41.3 449.5,41.3 449.6,41.3 449.7,41.3 449.7,41.3 449.8,41.3 449.9,41.3 449.9,41.3 450.0,41.3 450.1,41.4 450.1,41.4 450.2,41.4 450.2,41.4 450.3,41.4 450.4,41.4 450.4,41.4 450.5,41.4 450.6,41.4 450.6,41.4 450.7,41.4 450.8,41.4 450.8,41.4 450.9,41.4 451.0,41.4 451.0,41.4 451.1,41.4 451.2,41.4 451.2,41.4 451.3,41.4 451.3,41.4 451.4,41.4 451.5,41.4 451.5,41.4 451.6,41.4 451.7,41.4 451.7,41.4 451.9,41.4 452.1,41.4 452.2,41.4 452.4,41.4 452.6,41.4 452.8,41.4 453.0,41.4 453.2,41.4 453.3,41.4 453.5,41.4 453.7,41.4 453.9,41.4 454.1,41.4 454.3,41.4 454.4,41.4 454.6,41.4 454.8,41.4 455.0,41.4 455.2,41.4 455.4,41.4 455.5,41.4 455.7,41.4 455.9,41.4 456.1,41.4 456.3,41.4 456.5,41.4 456.6,41.4 456.8,41.4 457.0,41.4 457.2,41.4 457.4,41.4 457.5,41.4 457.7,41.4 457.9,41.4 458.1,41.4 458.3,41.4 458.5,41.4 458.6,41.4 458.8,41.4 459.0,41.4 459.2,41.4 459.4,41.4 459.6,41.4 459.7,41.4 459.9,41.4 460.1,41.4 460.3,41.4 460.5,41.4 460.7,41.4 460.8,41.4 461.0,41.4 461.2,41.4 461.4,41.4 461.6,41.4 461.8,41.4 461.9,41.4 462.1,41.4 462.3,41.4 462.5,41.4 462.7,41.4 462.8,41.4 463.0,41.4 463.2,41.4 463.4,41.4 463.6,41.4 463.8,41.4 463.9,41.4 464.1,41.4 464.3,41.4 464.5,41.4 464.7,41.4 464.9,41.4 465.0,41.4 465.2,41.4 465.4,41.4 465.6,41.4 465.8,41.4 466.0,41.4 466.1,41.4 466.3,41.4 466.5,41.4 466.7,41.4 466.9,41.4 467.1,41.4 467.2,41.4 467.4,41.4 467.6,41.4 467.8,41.4 468.0,41.4 468.1,41.4 468.3,41.4 468.5,41.4 468.7,41.4 468.9,41.4 469.1,41.4 469.2,41.4 469.4,41.4 469.6,41.4 469.8,41.4 470.0,41.4 470.2,41.4 470.3,41.4 470.5,41.4 470.7,41.4 470.9,41.4 471.1,41.4 471.3,41.4 471.4,41.4 471.6,41.4 471.8,41.4 472.0,41.4 472.2,41.4 472.4,41.4 472.5,41.4 472.7,41.4 472.9,41.4 473.1,41.4 473.3,41.4 473.4,41.4 473.6,41.4 473.8,41.4 474.0,41.4 474.2,41.4 474.4,41.4 474.5,41.4 474.7,41.4 474.9,41.4 475.1,41.4 475.3,41.4 475.5,41.4 475.6,41.4 475.8,41.4 476.0,41.4 476.2,41.4 476.4,41.4 476.6,41.4 476.7,41.4 476.9,41.4 477.1,41.4 477.3,41.4 477.5,41.4 477.7,41.4 477.8,41.4 478.0,41.4 478.2,41.4 478.4,41.4 478.6,41.4 478.7,41.4 478.9,41.4 479.1,41.4 479.3,41.4 479.5,41.4 479.7,41.4 479.8,41.4 480.0,41.4 480.2,41.4 480.4,41.4 480.6,41.4 480.8,41.4 480.9,41.4 481.1,41.4 481.3,41.4 481.5,41.4 481.7,41.4 481.9,41.4 482.0,41.4 482.2,41.4 482.4,41.4 482.6,41.4 482.8,41.4 483.0,41.4 483.1,41.4 483.3,41.4 483.5,41.4 483.7,41.4 483.9,41.4 484.1,41.4 484.2,41.4 484.4,41.4 484.6,41.4 484.8,41.4 485.0,41.4 485.1,41.4 485.3,41.4 485.5,41.4 485.7,41.4 485.9,41.4 486.1,41.4 486.2,41.4 486.4,41.4 486.6,41.4 486.8,41.4 487.0,41.4 487.2,41.4 487.3,41.4 487.5,41.4 487.7,41.4 487.9,41.4 488.1,41.4 488.3,41.4 488.4,41.4 488.6,41.4 488.8,41.4 489.0,41.4 489.2,41.4 489.4,41.4 489.5,41.4 489.7,41.4 489.9,41.4 490.1,41.4 490.3,41.4 490.4,41.4 490.6,41.4 490.8,41.4 491.0,41.4 491.2,41.4 491.4,41.4 491.5,41.4 491.7,41.4 491.9,41.4 492.1,41.4 492.3,41.4 492.5,41.4 492.6,41.4 492.8,41.4 493.0,41.4 493.2,41.4 493.4,41.4 493.6,41.4 493.7,41.4 493.9,41.4 494.1,41.4 494.3,41.4 494.5,41.4 494.7,41.4 494.8,41.4 495.0,41.4 495.2,41.4 495.4,41.4 495.6,41.4 495.7,41.4 495.9,41.4 496.1,41.4 496.3,41.4 496.5,41.4 496.7,41.4 496.8,41.4 497.0,41.4 497.2,41.4 497.4,41.4 497.6,41.4 497.8,41.4 497.9,41.4 498.1,41.4 498.3,41.4 498.5,41.4 498.7,41.4 498.9,41.4 499.0,41.4 499.2,41.4 499.4,41.4 499.6,41.4 499.8,41.4 500.0,41.4 500.1,41.4 500.3,41.4 500.5,41.4 500.7,41.4 500.9,41.4 501.0,41.4 501.1,41.4 501.2,41.4 501.2,41.4 501.3,41.4 501.4,41.4 501.4,41.4 501.5,41.4 501.6,41.4 501.6,41.4 501.7,41.4 501.8,41.4 501.8,41.4 501.9,41.4 502.0,41.4 502.0,41.4 502.1,41.4 502.1,41.4 502.2,41.4 502.3,41.4 502.3,41.4 502.4,41.4 502.5,41.4 502.5,41.4 502.6,41.4 502.7,41.4 502.7,41.4 502.8,41.4 502.9,41.4 502.9,41.4 503.0,41.4 503.1,41.4 503.1,41.4 503.2,41.4 503.2,41.4 503.3,41.4 503.4,41.4 503.4,41.4 503.5,41.4 503.6,41.4 503.6,41.4 503.7,41.4 503.8,41.4 503.8,41.4 503.9,41.4 504.0,41.4 504.0,41.4 504.1,41.4 504.2,41.4 504.2,41.4 504.3,41.4 504.3,41.4 504.4,41.4 504.5,41.4 504.5,41.4 504.6,41.4 504.7,41.4 504.7,41.4 504.8,41.4 504.9,41.4 504.9,41.4 505.0,41.4 505.1,41.4 505.1,41.4 505.2,41.4 505.3,41.4 505.3,41.4 505.4,41.4 505.4,41.4 505.6,41.4 505.6,41.4 505.7,41.4 505.8,41.4 505.8,41.4 505.9,41.4 506.0,41.4 506.0,41.4 506.1,41.4 506.2,41.4 506.2,41.4 506.3,41.4 506.3,41.4 506.4,41.4 506.5,41.4 506.5,41.4 506.6,41.4 506.7,41.4 506.7,41.4 506.8,41.4 506.9,41.4 506.9,41.4 507.0,41.4 507.1,41.4 507.1,41.4 507.2,41.4 507.3,41.4 507.3,41.4 507.4,41.4 507.4,41.4 507.5,41.4 507.6,41.4 507.6,41.4 507.7,41.4 507.8,41.4 507.8,41.4 507.9,41.4 508.0,41.4 508.0,41.4 508.1,41.4 508.2,41.4 508.2,41.4 508.3,41.4 508.4,41.4 508.4,41.4 508.5,41.4 508.5,41.4 508.6,41.4 508.7,41.4 508.7,41.4 508.8,41.4 508.9,41.4 508.9,41.4 509.0,41.4 509.1,41.4 509.1,41.4 509.3,41.4 509.5,41.4 509.6,41.4 509.8,41.4 510.0,41.4 510.2,41.4 510.4,41.4 510.6,41.4 510.7,41.4 510.9,41.4 511.1,41.4 511.3,41.4 511.5,41.4 511.6,41.4 511.8,41.4 512.0,41.4 512.2,41.4 512.4,41.4 512.6,41.4 512.7,41.4 512.9,41.4 513.1,41.4 513.3,41.4 513.5,41.4 513.7,41.4 513.8,41.4 514.0,41.4 514.2,41.4 514.4,41.4 514.6,41.4 514.8,41.4 514.9,41.4 515.1,41.4 515.3,41.4 515.5,41.4 515.7,41.4 515.9,41.4 516.0,41.4 516.2,41.4 516.4,41.4 516.6,41.4 516.8,41.4 516.9,41.4 517.1,41.4 517.3,41.4 517.5,41.4 517.7,41.4 517.9,41.4 518.0,41.4 518.2,41.4 518.4,41.4 518.6,41.4 518.8,41.4 519.0,41.4 519.1,41.4 519.3,41.4 519.5,41.4 519.7,41.4 519.9,41.4 520.1,41.4 520.2,41.4 520.4,41.4 520.6,41.4 520.8,41.4 521.0,41.4 521.2,41.4 521.3,41.4 521.5,41.4 521.7,41.4 521.9,41.4 522.1,41.4 522.2,41.4 522.4,41.4 522.6,41.4 522.8,41.4 523.0,41.4 523.2,41.4 523.3,41.4 523.5,41.4 523.7,41.4 523.9,41.4 524.1,41.4 524.3,41.4 524.4,41.4 524.6,41.4 524.8,41.4 525.0,41.4 525.2,41.4 525.4,41.4 525.5,41.4 525.7,41.4 525.9,41.4 525.9,41.4 526.0,41.4 526.1,41.4 526.1,41.4 526.2,31.3 526.3,31.5 526.3,32.0 526.4,32.7 526.5,32.8 526.5,33.4 526.6,34.0 526.6,34.0 526.7,34.6 526.8,35.0 526.8,35.1 526.9,35.6 527.0,35.8 527.0,36.0 527.1,36.4 527.2,36.6 527.2,36.8 527.3,37.2 527.4,37.2 527.4,37.5 527.5,37.8 527.6,37.8 527.6,38.1 527.7,38.3 527.7,38.3 527.8,38.5 527.9,38.7 527.9,38.8 528.0,39.0 528.1,39.1 528.1,39.2 528.2,39.3 528.3,39.4 528.3,39.5 528.4,39.6 528.5,39.7 528.5,39.8 528.6,39.9 528.6,39.9 528.7,40.0 528.8,40.1 528.8,40.1 528.9,40.2 529.0,40.3 529.0,40.3 529.1,40.4 529.2,40.4 529.2,40.5 529.3,40.6 529.4,40.6 529.5,40.6 529.6,40.7 529.6,40.7 529.7,40.7 529.7,40.8 529.8,40.8 529.9,40.8 529.9,40.9 530.0,40.9 530.1,40.9 530.1,41.0 530.2,41.0 530.3,41.0 530.3,41.0 530.4,41.0 530.5,41.1 530.5,41.1 530.6,41.1 530.7,41.1 530.7,41.1 530.8,41.1 530.8,41.2 530.9,41.2 531.0,41.2 531.0,41.2 531.1,41.2 531.2,41.2 531.2,41.2 531.3,41.2 531.4,41.3 531.4,41.3 531.5,41.3 531.6,41.3 531.6,41.3 531.7,41.3 531.8,41.3 531.8,41.3 531.9,41.3 531.9,41.3 532.0,41.3 532.1,41.3 532.1,41.3 532.2,41.3 532.3,41.4 532.3,41.4 532.4,41.4 532.5,41.4 532.5,41.4 532.6,41.4 532.7,41.4 532.7,41.4 532.8,41.4 532.9,41.4 532.9,41.4 533.0,41.4 533.0,41.4 533.1,41.4 533.2,41.4 533.2,41.4 533.3,41.4 533.4,41.4 533.4,41.4 533.5,41.4 533.6,41.4 533.6,41.4 533.7,41.4 533.8,41.4 533.8,41.4 533.9,41.4 533.9,41.4 534.1,41.4 534.3,41.4 534.5,41.4 534.7,41.4 534.9,41.4 535.0,41.4 535.2,41.4 535.4,41.4 535.6,41.4 535.8,41.4 536.0,41.4 536.1,41.4 536.3,41.4 536.5,41.4 536.7,41.4 536.9,41.4 537.1,41.4 537.2,41.4 537.4,41.4 537.6,41.4 537.8,41.4 538.0,41.4 538.2,41.4 538.3,41.4 538.5,41.4 538.7,41.4 538.9,41.4 539.1,41.4 539.2,41.4 539.4,41.4 539.6,41.4 539.8,41.4 540.0,41.4 540.2,41.4 540.3,41.4 540.5,41.4 540.7,41.4 540.9,41.4 541.1,41.4 541.3,41.4 541.4,41.4 541.6,41.4 541.8,41.4 542.0,41.4 542.2,41.4 542.4,41.4 542.5,41.4 542.7,41.4 542.9,41.4 543.1,41.4 543.3,41.4 543.5,41.4 543.6,41.4 543.8,41.4 544.0,41.4 544.2,41.4 544.4,41.4 544.5,41.4 544.7,41.4 544.9,41.4 545.1,41.4 545.3,41.4 545.5,41.4 545.6,41.4 545.8,41.4 546.0,41.4 546.2,41.4 546.4,41.4 546.6,41.4 546.7,41.4 546.9,41.4 547.1,41.4 547.2,41.4 547.3,41.4 547.3,41.4 547.4,41.4 547.5,41.4 547.5,41.4 547.6,41.4 547.7,41.4 547.7,41.4 547.8,41.4 547.8,41.4 547.9,41.4 548.0,41.4 548.0,41.4 548.1,41.4 548.2,41.4 548.2,41.4 548.3,41.4 548.4,41.4 548.4,41.4 548.5,41.4 548.6,41.4 548.6,41.4 548.7,41.4 548.8,41.4 548.8,41.4 548.9,41.4 548.9,41.4 549.0,41.4 549.1,41.4 549.1,41.4 549.2,41.4 549.3,41.4 549.3,41.4 549.4,41.4 549.5,41.4 549.5,41.4 549.6,41.4 549.7,41.4 549.7,41.4 549.8,41.4 549.8,41.4 549.9,41.4 550.0,41.4 550.0,41.4 550.1,41.4 550.2,41.4 550.2,41.4 550.3,41.4 550.4,41.4 550.4,41.4 550.5,41.4 550.6,41.4 550.6,41.4 550.7,41.4 550.8,41.4 550.8,41.4 550.9,41.4 550.9,41.4 551.0,41.4 551.1,41.4 551.1,41.4 551.2,41.4 551.3,41.4 551.3,41.4 551.4,41.4 551.5,41.4 551.5,41.4 551.6,41.4 551.7,41.4 551.7,41.4 551.8,41.4 551.9,41.4 551.9,41.4 552.0,41.4 552.0,41.4 552.1,41.4 552.2,41.4 552.2,41.4 552.3,41.4 552.4,41.4 552.4,41.4 552.5,41.4 552.6,41.4 552.6,41.4 552.7,41.4 552.8,41.4 552.8,41.4 552.9,41.4 553.0,41.4 553.0,41.4 553.1,41.4 553.1,41.4 553.2,41.4 553.3,41.4 553.3,41.4 553.4,41.4 553.5,41.4 553.5,41.4 553.6,41.4 553.7,41.4 553.7,41.4 553.8,41.4 553.9,41.4 553.9,41.4 554.0,41.4 554.1,41.4 554.1,41.4 554.2,41.4 554.2,41.4 554.3,41.4 554.4,41.4 554.4,41.4 554.5,41.4 554.6,41.4 554.6,41.4 554.7,41.4 554.8,41.4 554.8,41.4 554.9,41.4 555.0,41.4 555.0,41.4 555.1,41.4 555.1,41.4 555.3,41.4 555.5,41.4 555.7,41.4 555.9,41.4 556.1,41.4 556.2,41.4 556.4,41.4 556.6,41.4 556.8,41.4 557.0,41.4 557.2,41.4 557.3,41.4 557.5,41.4 557.7,41.4 557.9,41.4 558.1,41.4 558.3,41.4 558.4,41.4 558.6,41.4 558.8,41.4 559.0,41.4 559.2,41.4 559.4,41.4 559.5,41.4 559.7,41.4 559.9,41.4 560.1,41.4 560.3,41.4 560.4,41.4 560.6,41.4 560.8,41.4 561.0,41.4 561.2,41.4 561.4,41.4 561.5,41.4 561.7,41.4 561.9,41.4 562.1,41.4 562.3,41.4 562.5,41.4 562.6,41.4 562.8,41.4 563.0,41.4 563.2,41.4 563.4,41.4 563.6,41.4 563.7,41.4 563.9,41.4 564.1,41.4 564.3,41.4 564.5,41.4 564.7,41.4 564.8,41.4 565.0,41.4 565.2,41.4 565.4,41.4 565.6,41.4 565.7,41.4 565.9,41.4 566.1,41.4 566.3,41.4 566.5,41.4 566.7,41.4 566.8,41.4 567.0,41.4 567.2,41.4 567.4,41.4 567.6,41.4 567.8,41.4 567.9,41.4 568.1,41.4 568.3,41.4 568.5,41.4 568.7,41.4 568.9,41.4 569.0,41.4 569.2,41.4 569.4,41.4 569.6,41.4 569.8,41.4 570.0,41.4 570.1,41.4 570.3,41.4 570.5,41.4 570.7,41.4 570.9,41.4 571.1,41.4 571.2,41.4 571.4,41.4 571.6,41.4 571.8,41.4 572.0,41.4 572.1,41.4 572.3,41.4 572.5,41.4 572.7,41.4 572.9,41.4 573.1,41.4 573.2,41.4 573.4,41.4 573.6,41.4 573.8,41.4 574.0,41.4 574.2,41.4 574.3,41.4 574.5,41.4 574.7,41.4 574.9,41.4 575.1,41.4 575.3,41.4 575.4,41.4 575.6,41.4 575.8,41.4 576.0,41.4 576.2,41.4 576.4,41.4 576.5,41.4 576.7,41.4 576.9,41.4 577.1,41.4 577.3,41.4 577.4,41.4 577.6,41.4 577.8,41.4 578.0,41.4 578.2,41.4 578.4,41.4 578.5,41.4 578.7,41.4 578.9,41.4 579.1,41.4 579.3,41.4 579.5,41.4 579.6,41.4 579.8,41.4 580.0,41.4 580.2,41.4 580.4,41.4 580.6,41.4 580.7,41.4 580.9,41.4 581.1,41.4 581.3,41.4 581.5,41.4 581.7,41.4 581.8,41.4 582.0,41.4 582.2,41.4 582.4,41.4 582.6,41.4 582.7,41.4 582.9,41.4 583.1,41.4 583.3,41.4 583.5,41.4 583.7,41.4 583.8,41.4 584.0,41.4 584.2,41.4 584.4,41.4 584.6,41.4 584.8,41.4 584.9,41.4 585.1,41.4 585.3,41.4 585.5,41.4 585.6,41.4 585.7,41.4 585.7,41.4 585.8,41.4 585.9,41.4 585.9,31.3 586.0,32.0 586.0,32.0 586.1,32.7 586.2,33.2 586.2,33.4 586.3,34.0 586.4,34.3 586.4,34.6 586.5,35.1 586.6,35.3 586.6,35.6 586.7,36.0 586.8,36.1 586.8,36.4 586.9,36.8 587.0,36.8 587.0,37.2 587.1,37.4 587.1,37.5 587.2,37.8 587.3,38.0 587.3,38.1 587.5,38.3 587.5,38.4 587.6,38.5 587.7,38.8 587.7,38.8 587.8,39.0 587.9,39.2 587.9,39.2 588.0,39.3 588.0,39.5 588.1,39.5 588.2,39.6 588.2,39.7 588.3,39.8 588.4,39.9 588.4,40.0 588.5,40.0 588.6,40.1 588.6,40.2 588.7,40.2 588.8,40.3 588.8,40.3 588.9,40.4 589.0,40.5 589.0,40.5 589.1,40.6 589.1,40.6 589.2,40.6 589.3,40.7 589.3,40.7 589.4,40.7 589.5,40.8 589.5,40.8 589.6,40.8 589.7,40.9 589.7,40.9 589.8,40.9 589.9,41.0 589.9,41.0 590.0,41.0 590.1,41.0 590.1,41.0 590.2,41.1 590.2,41.1 590.3,41.1 590.4,41.1 590.4,41.1 590.5,41.1 590.6,41.2 590.6,41.2 590.7,41.2 590.8,41.2 590.8,41.2 590.9,41.2 591.0,41.2 591.0,41.2 591.1,41.3 591.2,41.3 591.2,41.3 591.3,41.3 591.3,41.3 591.4,41.3 591.5,41.3 591.5,41.3 591.6,41.3 591.7,41.3 591.7,41.3 591.8,41.3 591.9,41.3 591.9,41.3 592.0,41.4 592.1,41.4 592.1,41.4 592.2,41.4 592.3,41.4 592.3,41.4 592.4,41.4 592.4,41.4 592.5,41.4 592.6,41.4 592.6,41.4 592.7,41.4 592.8,41.4 592.8,41.4 592.9,41.4 593.0,41.4 593.0,41.4 593.1,41.4 593.2,41.4 593.2,41.4 593.3,41.4 593.3,41.4 593.4,41.4 593.5,41.4 593.5,41.4 593.6,41.4 593.7,41.4 593.9,41.4 594.1,41.4 594.3,41.4 594.4,41.4 594.6,41.4 594.8,41.4 595.0,41.4 595.2,41.4 595.4,41.4 595.5,41.4 595.7,41.4 595.9,41.4 596.1,41.4 596.3,41.4 596.5,41.4 596.6,41.4 596.8,41.4 597.0,41.4 597.2,41.4 597.4,41.4 597.6,41.4 597.7,41.4 597.9,41.4 598.1,41.4 598.3,41.4 598.5,41.4 598.6,41.4 598.8,41.4 599.0,41.4 599.2,41.4 599.4,41.4 599.6,41.4 599.7,41.4 599.9,41.4 600.1,41.4 600.3,41.4 600.5,41.4 600.7,41.4 600.8,41.4 601.0,41.4 601.2,41.4 601.4,41.4 601.6,41.4 601.8,41.4 601.9,41.4 602.1,41.4 602.3,41.4 602.5,41.4 602.7,41.4 602.9,41.4 603.0,41.4 603.2,41.4 603.4,41.4 603.6,41.4 603.8,41.4 603.9,41.4 604.1,41.4 604.3,41.4 604.5,41.4 604.7,41.4 604.9,41.4 605.0,41.4 605.2,41.4 605.4,41.4 605.6,41.4 605.8,41.4 606.0,41.4 606.1,41.4 606.3,41.4 606.5,41.4 606.7,41.4 606.9,41.4 607.1,41.4 607.2,41.4 607.4,41.4 607.6,41.4 607.8,41.4 608.0,41.4 608.2,41.4 608.3,41.4 608.5,41.4 608.7,41.4 608.9,41.4 609.1,41.4 609.2,41.4 609.4,41.4 609.6,41.4 609.8,41.4 610.0,41.4 610.2,41.4 610.3,41.4 610.5,41.4 610.7,41.4 610.9,41.4 611.1,41.4 611.3,41.4 611.4,41.4 611.6,41.4 611.8,41.4 612.0,41.4 612.2,41.4 612.4,41.4 612.5,41.4 612.7,41.4 612.9,41.4 613.1,41.4 613.3,41.4 613.5,41.4 613.6,41.4 613.8,41.4 614.0,41.4 614.2,41.4 614.4,41.4 614.6,41.4 614.7,41.4 614.9,41.4 615.1,41.4 615.3,41.4 615.5,41.4 615.6,41.4 615.8,41.4 616.0,41.4 616.2,41.4 616.4,41.4 616.6,41.4 616.7,41.4 616.9,41.4 617.1,41.4 617.3,41.4 617.5,41.4 617.7,41.4 617.8,41.4 618.0,41.4 618.2,41.4 618.4,41.4 618.6,41.4 618.8,41.4 618.9,41.4 619.1,41.4 619.3,41.4 619.5,41.4 619.7,41.4 619.9,41.4 620.0,41.4 620.2,41.4 620.4,41.4 620.6,41.4 620.8,41.4 620.9,41.4 621.1,41.4 621.3,41.4 621.5,41.4 621.7,41.4 621.9,41.4 622.0,41.4 622.2,41.4 622.4,41.4 622.6,41.4 622.8,41.4 623.0,41.4 623.1,41.4 623.3,41.4 623.5,41.4 623.7,41.4 623.9,41.4 624.1,41.4 624.2,41.4 624.4,41.4 624.6,41.4 624.8,41.4 625.0,41.4 625.2,41.4 625.3,41.4 625.5,41.4 625.7,41.4 625.9,41.4 626.1,41.4 626.2,41.4 626.4,41.4 626.6,41.4 626.8,41.4 627.0,41.4 627.2,41.4 627.3,41.4 627.5,41.4 627.7,41.4 627.9,41.4 628.1,41.4 628.3,41.4 628.4,41.4 628.6,41.4 628.8,41.4 629.0,41.4 629.2,41.4 629.4,41.4 629.5,41.4 629.7,41.4 629.9,41.4 630.1,41.4 630.3,41.4 630.5,41.4 630.6,41.4 630.8,41.4 631.0,41.4 631.2,41.4 631.4,41.4 631.5,41.4 631.7,41.4 631.9,41.4 632.1,41.4 632.3,41.4 632.5,41.4 632.6,41.4 632.8,41.4 633.0,41.4 633.2,41.4 633.4,41.4 633.6,41.4 633.7,41.4 633.9,41.4 634.1,41.4 634.3,41.4 634.5,41.4 634.7,41.4 634.8,41.4 635.0,41.4 635.2,41.4 635.4,41.4 635.6,41.4 635.8,41.4 635.8,41.4 635.9,41.4 635.9,41.4 636.0,41.4 636.1,41.4 636.1,41.4 636.2,41.4 636.3,41.4 636.3,41.4 636.4,41.4 636.5,41.4 636.5,41.4 636.6,41.4 636.7,41.4 636.7,41.4 636.8,41.4 636.8,41.4 636.9,41.4 637.0,41.4 637.0,41.4 637.1,41.4 637.2,41.4 637.2,41.4 637.3,41.4 637.4,41.4 637.4,41.4 637.5,41.4 637.6,41.4 637.6,41.4 637.7,41.4 637.8,41.4 637.8,41.4 637.9,41.4 637.9,41.4 638.0,41.4 638.1,41.4 638.1,41.4 638.2,41.4 638.3,41.4 638.3,41.4 638.4,41.4 638.5,41.4 638.5,41.4 638.6,41.4 638.7,41.4 638.7,41.4 638.8,41.4 638.9,41.4 638.9,41.4 639.0,41.4 639.0,41.4 639.1,41.4 639.2,41.4 639.2,41.4 639.3,41.4 639.4,41.4 639.4,41.4 639.5,41.4 639.6,41.4 639.6,41.4 639.7,41.4 639.8,41.4 639.8,41.4 639.9,41.4 640.0,41.4 640.0,41.4 640.1,41.4 640.1,41.4 640.2,41.4 640.3,41.4 640.3,41.4 640.4,41.4 640.5,41.4 640.5,41.4 640.6,41.4 640.7,41.4 640.7,41.4 640.8,41.4 640.9,41.4 640.9,41.4 641.0,41.4 641.1,41.4 641.1,41.4 641.2,41.4 641.2,41.4 641.3,41.4 641.4,41.4 641.4,41.4 641.5,41.4 641.6,41.4 641.6,41.4 641.7,41.4 641.8,41.4 641.8,41.4 641.9,41.4 642.0,41.4 642.0,41.4 642.1,41.4 642.1,41.4 642.2,41.4 642.3,41.4 642.3,41.4 642.4,41.4 642.5,41.4 642.5,41.4 642.6,41.4 642.7,41.4 642.7,41.4 642.8,41.4 642.9,41.4 642.9,41.4 643.0,41.4 643.1,41.4 643.1,41.4 643.2,41.4 643.2,41.4 643.3,41.4 643.4,41.4 643.4,41.4 643.5,41.4 643.6,41.4 643.6,41.4 643.7,41.4 643.8,41.4 644.0,41.4 644.2,41.4 644.3,41.4 644.5,41.4 644.7,41.4 644.9,41.4 645.1,41.4 645.3,41.4 645.4,41.4 645.6,41.4 645.8,41.4 646.0,41.4 646.2,41.4 646.4,41.4 646.5,41.4 646.7,41.4 646.9,41.4 647.1,41.4 647.3,41.4 647.4,41.4 647.6,41.4 647.8,41.4 648.0,41.4 648.2,41.4 648.4,41.4 648.5,41.4 648.7,41.4 648.9,41.4 649.1,41.4 649.3,41.4 649.5,41.4 649.6,41.4 649.8,41.4 650.0,41.4 650.2,41.4 650.4,41.4 650.6,41.4 650.7,41.4 650.9,41.4 651.1,41.4 651.3,41.4 651.5,41.4 651.7,41.4 651.8,41.4 652.0,41.4 652.2,41.4 652.4,41.4 652.6,41.4 652.7,41.4 652.9,41.4 653.1,41.4 653.3,41.4 653.5,41.4 653.7,41.4 653.8,41.4 654.0,41.4 654.2,41.4 654.4,41.4 654.6,41.4 654.8,41.4 654.9,41.4 655.1,41.4 655.3,41.4 655.5,41.4 655.7,41.4 655.9,41.4 656.0,41.4 656.2,41.4 656.4,41.4 656.6,41.4 656.8,41.4 657.0,41.4 657.1,41.4 657.3,41.4 657.5,41.4 657.7,41.4 657.9,41.4 658.1,41.4 658.2,41.4 658.4,41.4 658.6,41.4 658.8,41.4 659.0,41.4 659.1,41.4 659.3,41.4 659.5,41.4 659.7,41.4 659.9,41.4 660.1,41.4 660.2,41.4 660.4,41.4 660.6,41.4 660.8,41.4 661.0,41.4 661.2,41.4 661.3,41.4 661.5,41.4 661.7,41.4 661.9,41.4 662.1,41.4 662.3,41.4 662.4,41.4 662.6,41.4 662.8,41.4 663.0,41.4 663.2,41.4 663.4,41.4 663.5,41.4 663.7,41.4 663.9,41.4 664.1,41.4 664.3,41.4 664.4,41.4 664.6,41.4 664.8,41.4 665.0,41.4 665.2,41.4 665.4,41.4 665.5,41.4 665.7,41.4 665.9,41.4 666.1,41.4 666.3,41.4 666.5,41.4 666.6,41.4 666.8,41.4 667.0,41.4 667.2,41.4 667.4,41.4 667.5,41.4 667.6,41.4 667.6,41.4 667.7,41.4 667.7,31.0 667.8,31.3 667.9,32.0 667.9,32.4 668.0,32.7 668.1,33.4 668.1,33.6 668.2,34.0 668.3,34.6 668.3,34.6 668.4,35.1 668.5,35.6 668.5,35.6 668.6,36.0 668.7,36.3 668.7,36.4 668.8,36.8 668.8,37.0 668.9,37.2 669.0,37.5 669.0,37.6 669.1,37.8 669.2,38.1 669.2,38.1 669.3,38.3 669.4,38.5 669.4,38.6 669.5,38.8 669.6,38.9 669.6,39.0 669.7,39.2 669.7,39.3 669.8,39.3 669.9,39.5 669.9,39.6 670.0,39.6 670.1,39.8 670.1,39.8 670.2,39.9 670.3,40.0 670.3,40.0 670.4,40.1 670.5,40.2 670.5,40.2 670.6,40.3 670.7,40.4 670.7,40.4 670.8,40.5 670.8,40.5 670.9,40.6 671.0,40.6 671.0,40.7 671.1,40.7 671.2,40.7 671.2,40.8 671.3,40.8 671.4,40.8 671.4,40.8 671.5,40.9 671.6,40.9 671.6,40.9 671.7,41.0 671.8,41.0 671.8,41.0 671.9,41.0 671.9,41.1 672.0,41.1 672.1,41.1 672.1,41.1 672.2,41.1 672.3,41.1 672.3,41.2 672.4,41.2 672.5,41.2 672.5,41.2 672.6,41.2 672.7,41.2 672.7,41.2 672.8,41.2 672.9,41.3 672.9,41.3 673.0,41.3 673.0,41.3 673.1,41.3 673.2,41.3 673.2,41.3 673.3,41.3 673.4,41.3 673.4,41.3 673.5,41.3 673.6,41.3 673.6,41.3 673.7,41.3 673.8,41.4 673.8,41.4 673.9,41.4 674.0,41.4 674.0,41.4 674.1,41.4 674.1,41.4 674.2,41.4 674.3,41.4 674.3,41.4 674.4,41.4 674.5,41.4 674.5,41.4" fill="none" stroke="#EDB120" stroke-width="2.0" stroke-linejoin="round" /><polyline points="418.8,182.4 418.8,182.4 418.9,182.4 419.0,182.4 419.0,182.4 419.1,182.4 419.2,182.4 419.2,189.4 419.3,189.1 419.3,189.1 419.4,188.8 419.5,188.6 419.5,188.5 419.6,188.3 419.7,188.1 419.7,188.0 419.8,187.8 419.9,187.6 419.9,187.5 420.0,187.3 420.1,187.2 420.1,187.1 420.3,186.9 420.3,186.8 420.4,186.7 420.4,186.5 420.5,186.5 420.6,186.3 420.6,186.2 420.7,186.1 420.8,185.9 420.8,185.9 420.9,185.8 421.0,185.6 421.0,185.6 421.1,185.5 421.2,185.4 421.2,185.3 421.3,185.2 421.4,185.1 421.4,185.1 421.5,185.0 421.5,184.9 421.6,184.9 421.7,184.8 421.7,184.7 421.8,184.7 421.9,184.6 421.9,184.5 422.0,184.5 422.1,184.4 422.1,184.3 422.2,184.3 422.3,184.2 422.3,184.2 422.4,184.1 422.5,184.0 422.5,184.0 422.6,184.0 422.6,183.9 422.7,183.9 422.8,183.8 422.8,183.8 422.9,183.8 423.0,183.7 423.0,183.7 423.1,183.7 423.2,183.6 423.2,183.6 423.3,183.6 423.4,183.5 423.4,183.5 423.5,183.5 423.6,183.4 423.6,183.4 423.7,183.4 423.7,183.3 423.8,183.3 423.9,183.3 423.9,183.3 424.0,183.2 424.1,183.2 424.1,183.2 424.2,183.2 424.3,183.1 424.3,183.1 424.4,183.1 424.5,183.1 424.5,183.1 424.6,183.1 424.6,183.0 424.7,183.0 424.8,183.0 424.8,183.0 424.9,183.0 425.0,183.0 425.0,182.9 425.1,182.9 425.2,182.9 425.2,182.9 425.3,182.9 425.4,182.9 425.4,182.9 425.5,182.8 425.6,182.8 425.6,182.8 425.7,182.8 425.7,182.8 425.8,182.8 425.9,182.8 425.9,182.8 426.0,182.8 426.1,182.7 426.1,182.7 426.2,182.7 426.3,182.7 426.3,182.7 426.4,182.7 426.5,182.7 426.5,182.7 426.7,182.7 426.8,182.7 427.0,182.6 427.2,182.6 427.4,182.6 427.6,182.6 427.8,182.6 427.9,182.6 428.1,182.6 428.3,182.6 428.5,182.5 428.7,182.5 428.9,182.5 429.0,182.5 429.2,182.5 429.4,182.5 429.6,182.5 429.8,182.5 429.9,182.5 430.1,182.5 430.3,182.5 430.5,182.5 430.7,182.5 430.9,182.5 431.0,182.5 431.2,182.5 431.4,182.5 431.6,182.5 431.8,182.5 432.0,182.5 432.1,182.5 432.3,182.5 432.5,182.5 432.7,182.5 432.9,182.5 433.1,182.5 433.2,182.5 433.4,182.5 433.6,182.5 433.8,182.5 434.0,182.5 434.2,182.5 434.3,182.5 434.5,182.5 434.7,182.5 434.9,182.5 435.1,182.5 435.2,182.5 435.4,182.5 435.6,182.5 435.8,182.4 436.0,182.4 436.2,182.4 436.3,182.4 436.5,182.4 436.7,182.4 436.9,182.4 437.1,182.4 437.3,182.4 437.4,182.4 437.6,182.4 437.8,182.4 438.0,182.4 438.2,182.4 438.4,182.4 438.5,182.4 438.7,182.4 438.9,182.4 439.1,182.4 439.3,182.4 439.5,182.4 439.6,182.4 439.8,182.4 440.0,182.4 440.2,182.4 440.4,182.4 440.6,182.4 440.7,182.4 440.9,182.4 441.1,182.4 441.3,182.4 441.5,182.4 441.6,182.4 441.8,182.4 442.0,182.4 442.2,182.4 442.4,182.4 442.6,182.4 442.7,182.4 442.9,182.4 443.1,182.4 443.3,182.4 443.5,182.4 443.7,182.4 443.7,182.4 443.8,182.4 443.8,182.4 443.9,182.4 444.0,182.4 444.0,182.4 444.1,182.4 444.2,182.4 444.2,182.4 444.3,182.4 444.4,182.4 444.4,182.4 444.5,182.4 444.6,182.4 444.6,182.4 444.7,182.4 444.8,182.4 444.8,182.4 444.9,182.4 444.9,182.4 445.0,182.4 445.1,182.4 445.1,182.4 445.2,182.4 445.3,182.4 445.3,182.4 445.4,182.4 445.5,182.4 445.5,182.4 445.6,182.4 445.7,182.4 445.7,182.4 445.8,182.4 445.9,182.4 445.9,182.4 446.0,182.4 446.0,182.4 446.1,182.4 446.2,182.4 446.2,182.4 446.3,182.4 446.4,182.4 446.4,182.4 446.5,182.4 446.6,182.4 446.6,182.4 446.7,182.4 446.8,182.4 446.8,182.4 446.9,182.4 446.9,182.4 447.0,182.4 447.1,182.4 447.1,182.4 447.2,182.4 447.3,182.4 447.3,182.4 447.4,182.4 447.5,182.4 447.5,182.4 447.6,182.4 447.7,182.4 447.7,182.4 447.8,182.4 447.9,182.4 447.9,182.4 448.0,182.4 448.0,182.4 448.1,182.4 448.2,182.4 448.2,182.4 448.3,182.4 448.4,182.4 448.4,182.4 448.5,182.4 448.6,182.4 448.6,182.4 448.7,182.4 448.8,182.4 448.8,182.4 448.9,182.4 449.0,182.4 449.0,182.4 449.1,182.4 449.1,182.4 449.2,182.4 449.3,182.4 449.3,182.4 449.5,182.4 449.5,182.4 449.6,182.4 449.7,182.4 449.7,182.4 449.8,182.4 449.9,182.4 449.9,182.4 450.0,182.4 450.1,182.4 450.1,182.4 450.2,182.4 450.2,182.4 450.3,182.4 450.4,182.4 450.4,182.4 450.5,182.4 450.6,182.4 450.6,182.4 450.7,182.4 450.8,182.4 450.8,182.4 450.9,182.4 451.0,182.4 451.0,182.4 451.1,182.4 451.2,182.4 451.2,182.4 451.3,182.4 451.3,182.4 451.4,182.4 451.5,182.4 451.5,182.4 451.6,182.4 451.7,182.4 451.7,182.4 451.9,182.4 452.1,182.4 452.2,182.4 452.4,182.4 452.6,182.4 452.8,182.4 453.0,182.4 453.2,182.4 453.3,182.4 453.5,182.4 453.7,182.4 453.9,182.4 454.1,182.4 454.3,182.4 454.4,182.4 454.6,182.4 454.8,182.4 455.0,182.4 455.2,182.4 455.4,182.4 455.5,182.4 455.7,182.4 455.9,182.4 456.1,182.4 456.3,182.4 456.5,182.4 456.6,182.4 456.8,182.4 457.0,182.4 457.2,182.4 457.4,182.4 457.5,182.4 457.7,182.4 457.9,182.4 458.1,182.4 458.3,182.4 458.5,182.4 458.6,182.4 458.8,182.4 459.0,182.4 459.2,182.4 459.4,182.4 459.6,182.4 459.7,182.4 459.9,182.4 460.1,182.4 460.3,182.4 460.5,182.4 460.7,182.4 460.8,182.4 461.0,182.4 461.2,182.4 461.4,182.4 461.6,182.4 461.8,182.4 461.9,182.4 462.1,182.4 462.3,182.4 462.5,182.4 462.7,182.4 462.8,182.4 463.0,182.4 463.2,182.4 463.4,182.4 463.6,182.4 463.8,182.4 463.9,182.4 464.1,182.4 464.3,182.4 464.5,182.4 464.7,182.4 464.9,182.4 465.0,182.4 465.2,182.4 465.4,182.4 465.6,182.4 465.8,182.4 466.0,182.4 466.1,182.4 466.3,182.4 466.5,182.4 466.7,182.4 466.9,182.4 467.1,182.4 467.2,182.4 467.4,182.4 467.6,182.4 467.8,182.4 468.0,182.4 468.1,182.4 468.3,182.4 468.5,182.4 468.7,182.4 468.9,182.4 469.1,182.4 469.2,182.4 469.4,182.4 469.6,182.4 469.8,182.4 470.0,182.4 470.2,182.4 470.3,182.4 470.5,182.4 470.7,182.4 470.9,182.4 471.1,182.4 471.3,182.4 471.4,182.4 471.6,182.4 471.8,182.4 472.0,182.4 472.2,182.4 472.4,182.4 472.5,182.4 472.7,182.4 472.9,182.4 473.1,182.4 473.3,182.4 473.4,182.4 473.6,182.4 473.8,182.4 474.0,182.4 474.2,182.4 474.4,182.4 474.5,182.4 474.7,182.4 474.9,182.4 475.1,182.4 475.3,182.4 475.5,182.4 475.6,182.4 475.8,182.4 476.0,182.4 476.2,182.4 476.4,182.4 476.6,182.4 476.7,182.4 476.9,182.4 477.1,182.4 477.3,182.4 477.5,182.4 477.7,182.4 477.8,182.4 478.0,182.4 478.2,182.4 478.4,182.4 478.6,182.4 478.7,182.4 478.9,182.4 479.1,182.4 479.3,182.4 479.5,182.4 479.7,182.4 479.8,182.4 480.0,182.4 480.2,182.4 480.4,182.4 480.6,182.4 480.8,182.4 480.9,182.4 481.1,182.4 481.3,182.4 481.5,182.4 481.7,182.4 481.9,182.4 482.0,182.4 482.2,182.4 482.4,182.4 482.6,182.4 482.8,182.4 483.0,182.4 483.1,182.4 483.3,182.4 483.5,182.4 483.7,182.4 483.9,182.4 484.1,182.4 484.2,182.4 484.4,182.4 484.6,182.4 484.8,182.4 485.0,182.4 485.1,182.4 485.3,182.4 485.5,182.4 485.7,182.4 485.9,182.4 486.1,182.4 486.2,182.4 486.4,182.4 486.6,182.4 486.8,182.4 487.0,182.4 487.2,182.4 487.3,182.4 487.5,182.4 487.7,182.4 487.9,182.4 488.1,182.4 488.3,182.4 488.4,182.4 488.6,182.4 488.8,182.4 489.0,182.4 489.2,182.4 489.4,182.4 489.5,182.4 489.7,182.4 489.9,182.4 490.1,182.4 490.3,182.4 490.4,182.4 490.6,182.4 490.8,182.4 491.0,182.4 491.2,182.4 491.4,182.4 491.5,182.4 491.7,182.4 491.9,182.4 492.1,182.4 492.3,182.4 492.5,182.4 492.6,182.4 492.8,182.4 493.0,182.4 493.2,182.4 493.4,182.4 493.6,182.4 493.7,182.4 493.9,182.4 494.1,182.4 494.3,182.4 494.5,182.4 494.7,182.4 494.8,182.4 495.0,182.4 495.2,182.4 495.4,182.4 495.6,182.4 495.7,182.4 495.9,182.4 496.1,182.4 496.3,182.4 496.5,182.4 496.7,182.4 496.8,182.4 497.0,182.4 497.2,182.4 497.4,182.4 497.6,182.4 497.8,182.4 497.9,182.4 498.1,182.4 498.3,182.4 498.5,182.4 498.7,182.4 498.9,182.4 499.0,182.4 499.2,182.4 499.4,182.4 499.6,182.4 499.8,182.4 500.0,182.4 500.1,182.4 500.3,182.4 500.5,182.4 500.7,182.4 500.9,182.4 501.0,182.4 501.1,182.4 501.2,182.4 501.2,182.4 501.3,182.4 501.4,189.6 501.4,189.5 501.5,189.2 501.6,189.0 501.6,188.9 501.7,188.6 501.8,188.5 501.8,188.3 501.9,188.1 502.0,188.0 502.0,187.8 502.1,187.6 502.1,187.5 502.2,187.3 502.3,187.1 502.3,187.1 502.4,186.9 502.5,186.8 502.5,186.7 502.6,186.5 502.7,186.4 502.7,186.3 502.8,186.1 502.9,186.1 502.9,186.0 503.0,185.8 503.1,185.8 503.1,185.7 503.2,185.5 503.2,185.5 503.3,185.4 503.4,185.3 503.4,185.3 503.5,185.1 503.6,185.0 503.6,185.0 503.7,184.9 503.8,184.8 503.8,184.8 503.9,184.7 504.0,184.6 504.0,184.6 504.1,184.5 504.2,184.5 504.2,184.4 504.3,184.3 504.3,184.3 504.4,184.2 504.5,184.2 504.5,184.1 504.6,184.1 504.7,184.0 504.7,184.0 504.8,183.9 504.9,183.9 504.9,183.8 505.0,183.8 505.1,183.8 505.1,183.7 505.2,183.7 505.3,183.7 505.3,183.6 505.4,183.6 505.4,183.6 505.6,183.5 505.6,183.5 505.7,183.5 505.8,183.4 505.8,183.4 505.9,183.4 506.0,183.3 506.0,183.3 506.1,183.3 506.2,183.3 506.2,183.2 506.3,183.2 506.3,183.2 506.4,183.2 506.5,183.1 506.5,183.1 506.6,183.1 506.7,183.1 506.7,183.1 506.8,183.1 506.9,183.0 506.9,183.0 507.0,183.0 507.1,183.0 507.1,183.0 507.2,183.0 507.3,182.9 507.3,182.9 507.4,182.9 507.4,182.9 507.5,182.9 507.6,182.9 507.6,182.9 507.7,182.8 507.8,182.8 507.8,182.8 507.9,182.8 508.0,182.8 508.0,182.8 508.1,182.8 508.2,182.8 508.2,182.8 508.3,182.8 508.4,182.7 508.4,182.7 508.5,182.7 508.5,182.7 508.6,182.7 508.7,182.7 508.7,182.7 508.8,182.7 508.9,182.7 508.9,182.7 509.0,182.7 509.1,182.7 509.1,182.7 509.3,182.6 509.5,182.6 509.6,182.6 509.8,182.6 510.0,182.6 510.2,182.6 510.4,182.6 510.6,182.6 510.7,182.5 510.9,182.5 511.1,182.5 511.3,182.5 511.5,182.5 511.6,182.5 511.8,182.5 512.0,182.5 512.2,182.5 512.4,182.5 512.6,182.5 512.7,182.5 512.9,182.5 513.1,182.5 513.3,182.5 513.5,182.5 513.7,182.5 513.8,182.5 514.0,182.5 514.2,182.5 514.4,182.5 514.6,182.5 514.8,182.5 514.9,182.5 515.1,182.5 515.3,182.5 515.5,182.5 515.7,182.5 515.9,182.5 516.0,182.5 516.2,182.5 516.4,182.5 516.6,182.5 516.8,182.5 516.9,182.5 517.1,182.5 517.3,182.5 517.5,182.5 517.7,182.5 517.9,182.5 518.0,182.4 518.2,182.4 518.4,182.4 518.6,182.4 518.8,182.4 519.0,182.4 519.1,182.4 519.3,182.4 519.5,182.4 519.7,182.4 519.9,182.4 520.1,182.4 520.2,182.4 520.4,182.4 520.6,182.4 520.8,182.4 521.0,182.4 521.2,182.4 521.3,182.4 521.5,182.4 521.7,182.4 521.9,182.4 522.1,182.4 522.2,182.4 522.4,182.4 522.6,182.4 522.8,182.4 523.0,182.4 523.2,182.4 523.3,182.4 523.5,182.4 523.7,182.4 523.9,182.4 524.1,182.4 524.3,182.4 524.4,182.4 524.6,182.4 524.8,182.4 525.0,182.4 525.2,182.4 525.4,182.4 525.5,182.4 525.7,182.4 525.9,182.4 525.9,182.4 526.0,182.4 526.1,182.4 526.1,182.4 526.2,182.4 526.3,182.4 526.3,182.4 526.4,182.4 526.5,182.4 526.5,182.4 526.6,182.4 526.6,182.4 526.7,182.4 526.8,182.4 526.8,182.4 526.9,182.4 527.0,182.4 527.0,182.4 527.1,182.4 527.2,182.4 527.2,182.4 527.3,182.4 527.4,182.4 527.4,182.4 527.5,182.4 527.6,182.4 527.6,182.4 527.7,182.4 527.7,182.4 527.8,182.4 527.9,182.4 527.9,182.4 528.0,182.4 528.1,182.4 528.1,182.4 528.2,182.4 528.3,182.4 528.3,182.4 528.4,182.4 528.5,182.4 528.5,182.4 528.6,182.4 528.6,182.4 528.7,182.4 528.8,182.4 528.8,182.4 528.9,182.4 529.0,182.4 529.0,182.4 529.1,182.4 529.2,182.4 529.2,182.4 529.3,182.4 529.4,182.4 529.5,182.4 529.6,182.4 529.6,182.4 529.7,182.4 529.7,182.4 529.8,182.4 529.9,182.4 529.9,182.4 530.0,182.4 530.1,182.4 530.1,182.4 530.2,182.4 530.3,182.4 530.3,182.4 530.4,182.4 530.5,182.4 530.5,182.4 530.6,182.4 530.7,182.4 530.7,182.4 530.8,182.4 530.8,182.4 530.9,182.4 531.0,182.4 531.0,182.4 531.1,182.4 531.2,182.4 531.2,182.4 531.3,182.4 531.4,182.4 531.4,182.4 531.5,182.4 531.6,182.4 531.6,182.4 531.7,182.4 531.8,182.4 531.8,182.4 531.9,182.4 531.9,182.4 532.0,182.4 532.1,182.4 532.1,182.4 532.2,182.4 532.3,182.4 532.3,182.4 532.4,182.4 532.5,182.4 532.5,182.4 532.6,182.4 532.7,182.4 532.7,182.4 532.8,182.4 532.9,182.4 532.9,182.4 533.0,182.4 533.0,182.4 533.1,182.4 533.2,182.4 533.2,182.4 533.3,182.4 533.4,182.4 533.4,182.4 533.5,182.4 533.6,182.4 533.6,182.4 533.7,182.4 533.8,182.4 533.8,182.4 533.9,182.4 533.9,182.4 534.1,182.4 534.3,182.4 534.5,182.4 534.7,182.4 534.9,182.4 535.0,182.4 535.2,182.4 535.4,182.4 535.6,182.4 535.8,182.4 536.0,182.4 536.1,182.4 536.3,182.4 536.5,182.4 536.7,182.4 536.9,182.4 537.1,182.4 537.2,182.4 537.4,182.4 537.6,182.4 537.8,182.4 538.0,182.4 538.2,182.4 538.3,182.4 538.5,182.4 538.7,182.4 538.9,182.4 539.1,182.4 539.2,182.4 539.4,182.4 539.6,182.4 539.8,182.4 540.0,182.4 540.2,182.4 540.3,182.4 540.5,182.4 540.7,182.4 540.9,182.4 541.1,182.4 541.3,182.4 541.4,182.4 541.6,182.4 541.8,182.4 542.0,182.4 542.2,182.4 542.4,182.4 542.5,182.4 542.7,182.4 542.9,182.4 543.1,182.4 543.3,182.4 543.5,182.4 543.6,182.4 543.8,182.4 544.0,182.4 544.2,182.4 544.4,182.4 544.5,182.4 544.7,182.4 544.9,182.4 545.1,182.4 545.3,182.4 545.5,182.4 545.6,182.4 545.8,182.4 546.0,182.4 546.2,182.4 546.4,182.4 546.6,182.4 546.7,182.4 546.9,182.4 547.1,182.4 547.2,182.4 547.3,182.4 547.3,182.4 547.4,182.4 547.5,189.5 547.5,189.5 547.6,189.2 547.7,188.9 547.7,188.9 547.8,188.6 547.8,188.4 547.9,188.3 548.0,188.1 548.0,187.9 548.1,187.8 548.2,187.6 548.2,187.5 548.3,187.3 548.4,187.1 548.4,187.1 548.5,186.9 548.6,186.7 548.6,186.7 548.7,186.5 548.8,186.3 548.8,186.3 548.9,186.1 548.9,186.0 549.0,186.0 549.1,185.8 549.1,185.7 549.2,185.7 549.3,185.5 549.3,185.5 549.4,185.4 549.5,185.3 549.5,185.2 549.6,185.1 549.7,185.0 549.7,185.0 549.8,184.9 549.8,184.8 549.9,184.8 550.0,184.7 550.0,184.6 550.1,184.6 550.2,184.5 550.2,184.4 550.3,184.4 550.4,184.3 550.4,184.3 550.5,184.2 550.6,184.1 550.6,184.1 550.7,184.1 550.8,184.0 550.8,184.0 550.9,183.9 550.9,183.9 551.0,183.8 551.1,183.8 551.1,183.8 551.2,183.7 551.3,183.7 551.3,183.6 551.4,183.6 551.5,183.6 551.5,183.6 551.6,183.5 551.7,183.5 551.7,183.5 551.8,183.4 551.9,183.4 551.9,183.4 552.0,183.3 552.0,183.3 552.1,183.3 552.2,183.3 552.2,183.2 552.3,183.2 552.4,183.2 552.4,183.2 552.5,183.1 552.6,183.1 552.6,183.1 552.7,183.1 552.8,183.1 552.8,183.1 552.9,183.0 553.0,183.0 553.0,183.0 553.1,183.0 553.1,183.0 553.2,183.0 553.3,182.9 553.3,182.9 553.4,182.9 553.5,182.9 553.5,182.9 553.6,182.9 553.7,182.8 553.7,182.8 553.8,182.8 553.9,182.8 553.9,182.8 554.0,182.8 554.1,182.8 554.1,182.8 554.2,182.8 554.2,182.8 554.3,182.8 554.4,182.7 554.4,182.7 554.5,182.7 554.6,182.7 554.6,182.7 554.7,182.7 554.8,182.7 554.8,182.7 554.9,182.7 555.0,182.7 555.0,182.7 555.1,182.7 555.1,182.7 555.3,182.6 555.5,182.6 555.7,182.6 555.9,182.6 556.1,182.6 556.2,182.6 556.4,182.6 556.6,182.6 556.8,182.5 557.0,182.5 557.2,182.5 557.3,182.5 557.5,182.5 557.7,182.5 557.9,182.5 558.1,182.5 558.3,182.5 558.4,182.5 558.6,182.5 558.8,182.5 559.0,182.5 559.2,182.5 559.4,182.5 559.5,182.5 559.7,182.5 559.9,182.5 560.1,182.5 560.3,182.5 560.4,182.5 560.6,182.5 560.8,182.5 561.0,182.5 561.2,182.5 561.4,182.5 561.5,182.5 561.7,182.5 561.9,182.5 562.1,182.5 562.3,182.5 562.5,182.5 562.6,182.5 562.8,182.5 563.0,182.5 563.2,182.5 563.4,182.5 563.6,182.5 563.7,182.5 563.9,182.5 564.1,182.4 564.3,182.4 564.5,182.4 564.7,182.4 564.8,182.4 565.0,182.4 565.2,182.4 565.4,182.4 565.6,182.4 565.7,182.4 565.9,182.4 566.1,182.4 566.3,182.4 566.5,182.4 566.7,182.4 566.8,182.4 567.0,182.4 567.2,182.4 567.4,182.4 567.6,182.4 567.8,182.4 567.9,182.4 568.1,182.4 568.3,182.4 568.5,182.4 568.7,182.4 568.9,182.4 569.0,182.4 569.2,182.4 569.4,182.4 569.6,182.4 569.8,182.4 570.0,182.4 570.1,182.4 570.3,182.4 570.5,182.4 570.7,182.4 570.9,182.4 571.1,182.4 571.2,182.4 571.4,182.4 571.6,182.4 571.8,182.4 572.0,182.4 572.1,182.4 572.3,182.4 572.5,182.4 572.7,182.4 572.9,182.4 573.1,182.4 573.2,182.4 573.4,182.4 573.6,182.4 573.8,182.4 574.0,182.4 574.2,182.4 574.3,182.4 574.5,182.4 574.7,182.4 574.9,182.4 575.1,182.4 575.3,182.4 575.4,182.4 575.6,182.4 575.8,182.4 576.0,182.4 576.2,182.4 576.4,182.4 576.5,182.4 576.7,182.4 576.9,182.4 577.1,182.4 577.3,182.4 577.4,182.4 577.6,182.4 577.8,182.4 578.0,182.4 578.2,182.4 578.4,182.4 578.5,182.4 578.7,182.4 578.9,182.4 579.1,182.4 579.3,182.4 579.5,182.4 579.6,182.4 579.8,182.4 580.0,182.4 580.2,182.4 580.4,182.4 580.6,182.4 580.7,182.4 580.9,182.4 581.1,182.4 581.3,182.4 581.5,182.4 581.7,182.4 581.8,182.4 582.0,182.4 582.2,182.4 582.4,182.4 582.6,182.4 582.7,182.4 582.9,182.4 583.1,182.4 583.3,182.4 583.5,182.4 583.7,182.4 583.8,182.4 584.0,182.4 584.2,182.4 584.4,182.4 584.6,182.4 584.8,182.4 584.9,182.4 585.1,182.4 585.3,182.4 585.5,182.4 585.6,182.4 585.7,182.4 585.7,182.4 585.8,182.4 585.9,182.4 585.9,182.4 586.0,182.4 586.0,182.4 586.1,182.4 586.2,182.4 586.2,182.4 586.3,182.4 586.4,182.4 586.4,182.4 586.5,182.4 586.6,182.4 586.6,182.4 586.7,182.4 586.8,182.4 586.8,182.4 586.9,182.4 587.0,182.4 587.0,182.4 587.1,182.4 587.1,182.4 587.2,182.4 587.3,182.4 587.3,182.4 587.5,182.4 587.5,182.4 587.6,182.4 587.7,182.4 587.7,182.4 587.8,182.4 587.9,182.4 587.9,182.4 588.0,182.4 588.0,182.4 588.1,182.4 588.2,182.4 588.2,182.4 588.3,182.4 588.4,182.4 588.4,182.4 588.5,182.4 588.6,182.4 588.6,182.4 588.7,182.4 588.8,182.4 588.8,182.4 588.9,182.4 589.0,182.4 589.0,182.4 589.1,182.4 589.1,182.4 589.2,182.4 589.3,182.4 589.3,182.4 589.4,182.4 589.5,182.4 589.5,182.4 589.6,182.4 589.7,182.4 589.7,182.4 589.8,182.4 589.9,182.4 589.9,182.4 590.0,182.4 590.1,182.4 590.1,182.4 590.2,182.4 590.2,182.4 590.3,182.4 590.4,182.4 590.4,182.4 590.5,182.4 590.6,182.4 590.6,182.4 590.7,182.4 590.8,182.4 590.8,182.4 590.9,182.4 591.0,182.4 591.0,182.4 591.1,182.4 591.2,182.4 591.2,182.4 591.3,182.4 591.3,182.4 591.4,182.4 591.5,182.4 591.5,182.4 591.6,182.4 591.7,182.4 591.7,182.4 591.8,182.4 591.9,182.4 591.9,182.4 592.0,182.4 592.1,182.4 592.1,182.4 592.2,182.4 592.3,182.4 592.3,182.4 592.4,182.4 592.4,182.4 592.5,182.4 592.6,182.4 592.6,182.4 592.7,182.4 592.8,182.4 592.8,182.4 592.9,182.4 593.0,182.4 593.0,182.4 593.1,182.4 593.2,182.4 593.2,182.4 593.3,182.4 593.3,182.4 593.4,182.4 593.5,182.4 593.5,182.4 593.6,182.4 593.7,182.4 593.9,182.4 594.1,182.4 594.3,182.4 594.4,182.4 594.6,182.4 594.8,182.4 595.0,182.4 595.2,182.4 595.4,182.4 595.5,182.4 595.7,182.4 595.9,182.4 596.1,182.4 596.3,182.4 596.5,182.4 596.6,182.4 596.8,182.4 597.0,182.4 597.2,182.4 597.4,182.4 597.6,182.4 597.7,182.4 597.9,182.4 598.1,182.4 598.3,182.4 598.5,182.4 598.6,182.4 598.8,182.4 599.0,182.4 599.2,182.4 599.4,182.4 599.6,182.4 599.7,182.4 599.9,182.4 600.1,182.4 600.3,182.4 600.5,182.4 600.7,182.4 600.8,182.4 601.0,182.4 601.2,182.4 601.4,182.4 601.6,182.4 601.8,182.4 601.9,182.4 602.1,182.4 602.3,182.4 602.5,182.4 602.7,182.4 602.9,182.4 603.0,182.4 603.2,182.4 603.4,182.4 603.6,182.4 603.8,182.4 603.9,182.4 604.1,182.4 604.3,182.4 604.5,182.4 604.7,182.4 604.9,182.4 605.0,182.4 605.2,182.4 605.4,182.4 605.6,182.4 605.8,182.4 606.0,182.4 606.1,182.4 606.3,182.4 606.5,182.4 606.7,182.4 606.9,182.4 607.1,182.4 607.2,182.4 607.4,182.4 607.6,182.4 607.8,182.4 608.0,182.4 608.2,182.4 608.3,182.4 608.5,182.4 608.7,182.4 608.9,182.4 609.1,182.4 609.2,182.4 609.4,182.4 609.6,182.4 609.8,182.4 610.0,182.4 610.2,182.4 610.3,182.4 610.5,182.4 610.7,182.4 610.9,182.4 611.1,182.4 611.3,182.4 611.4,182.4 611.6,182.4 611.8,182.4 612.0,182.4 612.2,182.4 612.4,182.4 612.5,182.4 612.7,182.4 612.9,182.4 613.1,182.4 613.3,182.4 613.5,182.4 613.6,182.4 613.8,182.4 614.0,182.4 614.2,182.4 614.4,182.4 614.6,182.4 614.7,182.4 614.9,182.4 615.1,182.4 615.3,182.4 615.5,182.4 615.6,182.4 615.8,182.4 616.0,182.4 616.2,182.4 616.4,182.4 616.6,182.4 616.7,182.4 616.9,182.4 617.1,182.4 617.3,182.4 617.5,182.4 617.7,182.4 617.8,182.4 618.0,182.4 618.2,182.4 618.4,182.4 618.6,182.4 618.8,182.4 618.9,182.4 619.1,182.4 619.3,182.4 619.5,182.4 619.7,182.4 619.9,182.4 620.0,182.4 620.2,182.4 620.4,182.4 620.6,182.4 620.8,182.4 620.9,182.4 621.1,182.4 621.3,182.4 621.5,182.4 621.7,182.4 621.9,182.4 622.0,182.4 622.2,182.4 622.4,182.4 622.6,182.4 622.8,182.4 623.0,182.4 623.1,182.4 623.3,182.4 623.5,182.4 623.7,182.4 623.9,182.4 624.1,182.4 624.2,182.4 624.4,182.4 624.6,182.4 624.8,182.4 625.0,182.4 625.2,182.4 625.3,182.4 625.5,182.4 625.7,182.4 625.9,182.4 626.1,182.4 626.2,182.4 626.4,182.4 626.6,182.4 626.8,182.4 627.0,182.4 627.2,182.4 627.3,182.4 627.5,182.4 627.7,182.4 627.9,182.4 628.1,182.4 628.3,182.4 628.4,182.4 628.6,182.4 628.8,182.4 629.0,182.4 629.2,182.4 629.4,182.4 629.5,182.4 629.7,182.4 629.9,182.4 630.1,182.4 630.3,182.4 630.5,182.4 630.6,182.4 630.8,182.4 631.0,182.4 631.2,182.4 631.4,182.4 631.5,182.4 631.7,182.4 631.9,182.4 632.1,182.4 632.3,182.4 632.5,182.4 632.6,182.4 632.8,182.4 633.0,182.4 633.2,182.4 633.4,182.4 633.6,182.4 633.7,182.4 633.9,182.4 634.1,182.4 634.3,182.4 634.5,182.4 634.7,182.4 634.8,182.4 635.0,182.4 635.2,182.4 635.4,182.4 635.6,182.4 635.8,182.4 635.8,182.4 635.9,182.4 635.9,182.4 636.0,182.4 636.1,189.5 636.1,189.3 636.2,189.2 636.3,188.9 636.3,188.8 636.4,188.6 636.5,188.3 636.5,188.3 636.6,188.1 636.7,187.8 636.7,187.8 636.8,187.6 636.8,187.4 636.9,187.3 637.0,187.1 637.0,187.0 637.1,186.9 637.2,186.7 637.2,186.6 637.3,186.5 637.4,186.3 637.4,186.3 637.5,186.1 637.6,186.0 637.6,186.0 637.7,185.8 637.8,185.7 637.8,185.7 637.9,185.5 637.9,185.4 638.0,185.4 638.1,185.3 638.1,185.2 638.2,185.1 638.3,185.0 638.3,185.0 638.4,184.9 638.5,184.8 638.5,184.8 638.6,184.7 638.7,184.6 638.7,184.6 638.8,184.5 638.9,184.4 638.9,184.4 639.0,184.3 639.0,184.2 639.1,184.2 639.2,184.1 639.2,184.1 639.3,184.1 639.4,184.0 639.4,184.0 639.5,183.9 639.6,183.8 639.6,183.8 639.7,183.8 639.8,183.7 639.8,183.7 639.9,183.7 640.0,183.6 640.0,183.6 640.1,183.6 640.1,183.5 640.2,183.5 640.3,183.5 640.3,183.4 640.4,183.4 640.5,183.4 640.5,183.4 640.6,183.3 640.7,183.3 640.7,183.3 640.8,183.3 640.9,183.2 640.9,183.2 641.0,183.2 641.1,183.2 641.1,183.1 641.2,183.1 641.2,183.1 641.3,183.1 641.4,183.1 641.4,183.0 641.5,183.0 641.6,183.0 641.6,183.0 641.7,183.0 641.8,183.0 641.8,183.0 641.9,182.9 642.0,182.9 642.0,182.9 642.1,182.9 642.1,182.9 642.2,182.9 642.3,182.8 642.3,182.8 642.4,182.8 642.5,182.8 642.5,182.8 642.6,182.8 642.7,182.8 642.7,182.8 642.8,182.8 642.9,182.8 642.9,182.8 643.0,182.7 643.1,182.7 643.1,182.7 643.2,182.7 643.2,182.7 643.3,182.7 643.4,182.7 643.4,182.7 643.5,182.7 643.6,182.7 643.6,182.7 643.7,182.7 643.8,182.6 644.0,182.6 644.2,182.6 644.3,182.6 644.5,182.6 644.7,182.6 644.9,182.6 645.1,182.6 645.3,182.5 645.4,182.5 645.6,182.5 645.8,182.5 646.0,182.5 646.2,182.5 646.4,182.5 646.5,182.5 646.7,182.5 646.9,182.5 647.1,182.5 647.3,182.5 647.4,182.5 647.6,182.5 647.8,182.5 648.0,182.5 648.2,182.5 648.4,182.5 648.5,182.5 648.7,182.5 648.9,182.5 649.1,182.5 649.3,182.5 649.5,182.5 649.6,182.5 649.8,182.5 650.0,182.5 650.2,182.5 650.4,182.5 650.6,182.5 650.7,182.5 650.9,182.5 651.1,182.5 651.3,182.5 651.5,182.5 651.7,182.5 651.8,182.5 652.0,182.5 652.2,182.5 652.4,182.5 652.6,182.5 652.7,182.4 652.9,182.4 653.1,182.4 653.3,182.4 653.5,182.4 653.7,182.4 653.8,182.4 654.0,182.4 654.2,182.4 654.4,182.4 654.6,182.4 654.8,182.4 654.9,182.4 655.1,182.4 655.3,182.4 655.5,182.4 655.7,182.4 655.9,182.4 656.0,182.4 656.2,182.4 656.4,182.4 656.6,182.4 656.8,182.4 657.0,182.4 657.1,182.4 657.3,182.4 657.5,182.4 657.7,182.4 657.9,182.4 658.1,182.4 658.2,182.4 658.4,182.4 658.6,182.4 658.8,182.4 659.0,182.4 659.1,182.4 659.3,182.4 659.5,182.4 659.7,182.4 659.9,182.4 660.1,182.4 660.2,182.4 660.4,182.4 660.6,182.4 660.8,182.4 661.0,182.4 661.2,182.4 661.3,182.4 661.5,182.4 661.7,182.4 661.9,182.4 662.1,182.4 662.3,182.4 662.4,182.4 662.6,182.4 662.8,182.4 663.0,182.4 663.2,182.4 663.4,182.4 663.5,182.4 663.7,182.4 663.9,182.4 664.1,182.4 664.3,182.4 664.4,182.4 664.6,182.4 664.8,182.4 665.0,182.4 665.2,182.4 665.4,182.4 665.5,182.4 665.7,182.4 665.9,182.4 666.1,182.4 666.3,182.4 666.5,182.4 666.6,182.4 666.8,182.4 667.0,182.4 667.2,182.4 667.4,182.4 667.5,182.4 667.6,182.4 667.6,182.4 667.7,182.4 667.7,182.4 667.8,182.4 667.9,182.4 667.9,182.4 668.0,182.4 668.1,182.4 668.1,182.4 668.2,182.4 668.3,182.4 668.3,182.4 668.4,182.4 668.5,182.4 668.5,182.4 668.6,182.4 668.7,182.4 668.7,182.4 668.8,182.4 668.8,182.4 668.9,182.4 669.0,182.4 669.0,182.4 669.1,182.4 669.2,182.4 669.2,182.4 669.3,182.4 669.4,182.4 669.4,182.4 669.5,182.4 669.6,182.4 669.6,182.4 669.7,182.4 669.7,182.4 669.8,182.4 669.9,182.4 669.9,182.4 670.0,182.4 670.1,182.4 670.1,182.4 670.2,182.4 670.3,182.4 670.3,182.4 670.4,182.4 670.5,182.4 670.5,182.4 670.6,182.4 670.7,182.4 670.7,182.4 670.8,182.4 670.8,182.4 670.9,182.4 671.0,182.4 671.0,182.4 671.1,182.4 671.2,182.4 671.2,182.4 671.3,182.4 671.4,182.4 671.4,182.4 671.5,182.4 671.6,182.4 671.6,182.4 671.7,182.4 671.8,182.4 671.8,182.4 671.9,182.4 671.9,182.4 672.0,182.4 672.1,182.4 672.1,182.4 672.2,182.4 672.3,182.4 672.3,182.4 672.4,182.4 672.5,182.4 672.5,182.4 672.6,182.4 672.7,182.4 672.7,182.4 672.8,182.4 672.9,182.4 672.9,182.4 673.0,182.4 673.0,182.4 673.1,182.4 673.2,182.4 673.2,182.4 673.3,182.4 673.4,182.4 673.4,182.4 673.5,182.4 673.6,182.4 673.6,182.4 673.7,182.4 673.8,182.4 673.8,182.4 673.9,182.4 674.0,182.4 674.0,182.4 674.1,182.4 674.1,182.4 674.2,182.4 674.3,182.4 674.3,182.4 674.4,182.4 674.5,182.4 674.5,182.4" fill="none" stroke="#00FF00" stroke-width="2.0" stroke-linejoin="round" /></g>
<clipPath id="cpc"><rect x="49.3" y="284.3" width="270.5" height="183.4"/></clipPath><g clip-path="url(#cpc)"><polyline points="50.5,466.5 50.8,466.5 51.1,466.5 51.4,466.5 51.7,466.5 52.0,466.5 52.3,466.5 52.6,466.5 52.9,466.5 53.2,466.5 53.5,466.5 53.8,466.5 54.1,466.5 54.4,466.5 54.7,466.5 55.0,466.5 55.3,466.5 55.6,466.5 55.9,466.5 56.2,466.5 56.5,466.5 56.8,466.5 57.1,466.5 57.4,466.5 57.7,466.5 58.0,466.5 58.3,466.5 58.6,466.5 58.9,466.5 59.1,466.5 59.4,466.5 59.7,466.5 60.0,466.5 60.3,466.5 60.6,466.5 60.9,466.5 61.2,466.5 61.5,466.5 61.8,466.5 62.1,466.5 62.4,466.5 62.7,466.5 63.0,466.5 63.3,466.5 63.6,466.5 63.9,466.5 64.2,466.5 64.5,466.5 64.8,466.5 65.1,466.5 65.4,466.5 65.7,466.5 66.0,466.5 66.3,466.5 66.6,466.5 66.9,466.5 67.2,466.5 67.5,466.5 67.8,466.5 68.1,466.5 68.4,466.5 68.7,466.5 69.0,466.5 69.3,466.5 69.6,466.5 69.9,466.5 70.2,466.5 70.5,466.5 70.8,466.5 71.1,466.5 71.4,466.5 71.7,466.5 72.0,466.5 72.3,466.5 72.6,466.5 72.9,466.5 73.2,466.5 73.5,466.5 73.8,466.5 74.1,466.5 74.4,466.5 74.7,466.5 75.0,466.5 75.3,466.5 75.6,466.5 75.8,466.5 76.1,466.5 76.4,466.5 76.6,466.5 76.7,466.5 76.8,466.5 77.0,465.2 77.0,464.8 77.2,463.1 77.3,461.6 77.4,461.1 77.6,459.4 77.6,458.9 77.8,457.9 77.9,456.6 77.9,456.6 78.1,455.3 78.2,454.7 78.3,454.3 78.5,453.3 78.5,453.1 78.7,452.4 78.8,451.8 78.9,451.6 79.1,450.9 79.1,450.7 79.2,450.3 79.4,449.8 79.4,449.8 79.6,449.3 79.7,449.0 79.8,448.8 80.0,448.4 80.0,448.3 80.2,448.0 80.3,447.8 80.4,447.7 80.6,447.4 80.6,447.3 80.7,447.2 80.9,446.9 80.9,446.9 81.1,446.7 81.2,446.6 81.3,446.5 81.5,446.3 81.5,446.3 81.7,446.2 81.8,446.1 81.9,446.0 82.0,445.9 82.1,445.9 82.2,445.8 82.4,445.7 82.4,445.7 82.6,445.6 82.7,445.5 82.8,445.5 83.0,445.4 83.0,445.4 83.2,445.3 83.3,445.3 83.3,445.3 83.5,445.2 83.6,445.2 83.7,445.1 83.9,445.1 83.9,445.1 84.1,445.0 84.2,445.0 84.3,445.0 84.5,444.9 84.5,444.9 84.7,444.9 84.8,444.9 84.8,444.9 85.0,444.8 85.1,444.8 85.2,444.8 85.4,444.8 85.4,444.8 85.6,444.7 85.7,444.7 85.8,444.7 86.0,444.7 86.0,444.7 86.1,444.7 86.3,444.6 86.3,444.6 86.5,444.6 86.6,444.6 86.7,444.6 86.9,444.6 86.9,444.6 87.1,444.6 87.2,444.5 87.3,444.5 87.4,444.5 87.5,444.5 87.6,444.5 87.8,444.5 88.1,444.5 88.4,444.4 88.7,444.4 89.0,444.4 89.3,444.4 89.6,444.4 89.9,444.3 90.2,444.3 90.5,444.3 90.8,444.3 91.1,444.3 91.4,444.3 91.7,444.2 92.0,444.2 92.3,444.2 92.5,444.2 92.8,444.2 93.1,444.2 93.4,444.2 93.7,444.2 94.0,444.1 94.3,444.1 94.6,444.1 94.9,444.1 95.2,444.1 95.5,444.1 95.8,444.1 96.1,444.1 96.4,444.1 96.7,444.1 97.0,444.1 97.3,444.1 97.6,444.0 97.9,444.0 98.2,444.0 98.5,444.0 98.8,444.0 99.1,444.0 99.4,444.0 99.7,444.0 100.0,444.0 100.3,444.0 100.6,444.0 100.9,444.0 101.2,444.0 101.5,444.0 101.8,444.0 102.1,444.0 102.4,444.0 102.7,444.0 103.0,444.0 103.3,444.0 103.6,444.0 103.9,444.0 104.2,444.0 104.5,443.9 104.8,443.9 105.1,443.9 105.4,443.9 105.7,443.9 106.0,443.9 106.3,443.9 106.6,443.9 106.9,443.9 107.2,443.9 107.5,443.9 107.8,443.9 108.1,443.9 108.4,443.9 108.7,443.9 109.0,443.9 109.2,443.9 109.5,443.9 109.8,443.9 110.1,443.9 110.4,443.9 110.7,443.9 111.0,443.9 111.3,443.9 111.6,443.9 111.9,443.9 112.2,443.9 112.5,443.9 112.8,443.9 113.1,443.9 113.4,443.9 113.7,443.9 114.0,443.9 114.3,443.9 114.6,443.9 114.9,443.9 115.2,443.9 115.5,443.9 115.8,443.9 116.1,443.9 116.4,443.9 116.7,443.9 117.0,443.9 117.3,443.9 117.6,443.9 117.9,443.9 118.2,443.9 118.5,443.9 118.8,443.9 119.1,443.9 119.4,443.9 119.7,443.9 120.0,443.9 120.3,443.9 120.6,443.9 120.9,443.9 121.2,443.9 121.5,443.9 121.8,443.9 122.1,443.9 122.4,443.9 122.7,443.9 123.0,443.9 123.3,443.9 123.6,443.9 123.9,443.9 124.2,443.9 124.5,443.9 124.8,443.9 125.1,443.9 125.4,443.9 125.7,443.9 125.9,443.9 126.2,443.9 126.5,443.9 126.8,443.9 127.1,443.9 127.4,443.9 127.7,443.9 128.0,443.9 128.3,443.9 128.6,443.9 128.9,443.9 129.2,443.9 129.5,443.9 129.8,443.9 130.1,443.9 130.4,443.9 130.7,443.9 131.0,443.9 131.3,443.9 131.6,443.9 131.9,443.9 132.2,443.9 132.5,443.9 132.8,443.9 133.1,443.9 133.4,443.9 133.7,443.9 134.0,443.9 134.3,443.9 134.6,443.9 134.9,443.9 135.2,443.9 135.5,443.9 135.8,443.9 136.1,443.9 136.4,443.9 136.7,443.9 137.0,443.9 137.3,443.9 137.6,443.9 137.9,443.9 138.2,443.9 138.5,443.9 138.8,443.9 139.1,443.9 139.4,443.9 139.7,443.9 140.0,443.9 140.3,443.9 140.6,443.9 140.9,443.9 141.2,443.9 141.5,443.9 141.8,443.9 142.1,443.9 142.4,443.9 142.7,443.9 142.9,443.9 143.2,443.9 143.5,443.9 143.8,443.9 144.1,443.9 144.4,443.9 144.7,443.9 145.0,443.9 145.3,443.9 145.6,443.9 145.9,443.9 146.2,443.9 146.5,443.9 146.8,443.9 147.1,443.9 147.4,443.9 147.7,443.9 148.0,443.9 148.3,443.9 148.6,443.9 148.9,443.9 149.2,443.9 149.5,443.9 149.8,443.9 150.1,443.9 150.4,443.9 150.7,443.9 151.0,443.9 151.3,443.9 151.6,443.9 151.9,443.9 152.2,443.9 152.5,443.9 152.8,443.9 153.1,443.9 153.4,443.9 153.7,443.9 154.0,443.9 154.3,443.9 154.6,443.9 154.9,443.9 155.2,443.9 155.5,443.9 155.8,443.9 156.1,443.9 156.4,443.9 156.7,443.9 157.0,443.9 157.3,443.9 157.6,443.9 157.9,443.9 158.2,443.9 158.5,443.9 158.8,443.9 159.1,443.9 159.4,443.9 159.6,443.9 159.9,443.9 160.2,443.9 160.5,443.9 160.8,443.9 161.1,443.9 161.4,443.9 161.7,443.9 162.0,443.9 162.3,443.9 162.6,443.9 162.8,443.9 162.9,443.9 163.0,443.9 163.2,442.5 163.2,442.2 163.4,440.3 163.5,438.8 163.6,438.3 163.8,436.5 163.8,435.9 164.0,434.9 164.1,433.6 164.1,433.4 164.3,432.2 164.4,431.6 164.5,431.0 164.7,430.0 164.7,429.9 164.9,429.1 165.0,428.5 165.1,428.3 165.3,427.5 165.3,427.3 165.4,426.9 165.6,426.3 165.6,426.3 165.8,425.8 165.9,425.5 166.0,425.3 166.2,424.9 166.2,424.8 166.4,424.5 166.5,424.2 166.6,424.2 166.7,423.8 166.8,423.8 166.9,423.6 167.1,423.3 167.1,423.3 167.3,423.1 167.4,423.0 167.5,422.9 167.7,422.7 167.7,422.7 167.9,422.5 168.0,422.4 168.1,422.4 168.2,422.3 168.3,422.2 168.4,422.1 168.6,422.0 168.6,422.0 168.8,421.9 168.9,421.9 169.0,421.8 169.2,421.7 169.2,421.7 169.4,421.6 169.5,421.6 169.5,421.6 169.7,421.5 169.8,421.5 169.9,421.4 170.1,421.4 170.1,421.4 170.3,421.3 170.4,421.3 170.5,421.3 170.7,421.2 170.7,421.2 170.8,421.2 171.0,421.2 171.0,421.2 171.2,421.1 171.3,421.1 171.4,421.1 171.6,421.1 171.6,421.1 171.8,421.0 171.9,421.0 172.0,421.0 172.1,421.0 172.2,421.0 172.3,420.9 172.5,420.9 172.5,420.9 172.7,420.9 172.8,420.9 172.9,420.9 173.1,420.9 173.1,420.8 173.3,420.8 173.4,420.8 173.5,420.8 173.6,420.8 173.7,420.8 173.8,420.8 174.0,420.8 174.3,420.7 174.6,420.7 174.9,420.7 175.2,420.7 175.5,420.6 175.8,420.6 176.1,420.6 176.3,420.6 176.6,420.6 176.9,420.5 177.2,420.5 177.5,420.5 177.8,420.5 178.1,420.5 178.4,420.5 178.7,420.5 179.0,420.4 179.3,420.4 179.6,420.4 179.9,420.4 180.2,420.4 180.5,420.4 180.8,420.4 181.1,420.4 181.4,420.4 181.7,420.4 182.0,420.3 182.3,420.3 182.6,420.3 182.9,420.3 183.2,420.3 183.5,420.3 183.8,420.3 184.1,420.3 184.4,420.3 184.7,420.3 185.0,420.3 185.3,420.3 185.6,420.3 185.9,420.3 186.2,420.3 186.5,420.2 186.8,420.2 187.1,420.2 187.4,420.2 187.7,420.2 188.0,420.2 188.3,420.2 188.6,420.2 188.9,420.2 189.2,420.2 189.5,420.2 189.8,420.2 190.1,420.2 190.4,420.2 190.7,420.2 191.0,420.2 191.3,420.2 191.6,420.2 191.9,420.2 192.2,420.2 192.5,420.2 192.8,420.2 193.0,420.2 193.3,420.2 193.6,420.2 193.9,420.2 194.2,420.2 194.5,420.2 194.8,420.2 195.1,420.2 195.4,420.2 195.7,420.2 196.0,420.2 196.3,420.2 196.6,420.2 196.9,420.2 197.2,420.2 197.5,420.2 197.8,420.2 198.1,420.1 198.4,420.1 198.7,420.1 199.0,420.1 199.3,420.1 199.6,420.1 199.9,420.1 200.2,420.1 200.5,420.1 200.8,420.1 201.1,420.1 201.4,420.1 201.7,420.1 202.0,420.1 202.3,420.1 202.6,420.1 202.9,420.1 203.2,420.1 203.5,420.1 203.8,420.1 204.1,420.1 204.4,420.1 204.7,420.1 205.0,420.1 205.3,420.1 205.6,420.1 205.9,420.1 206.2,420.1 206.5,420.1 206.8,420.1 207.1,420.1 207.4,420.1 207.7,420.1 208.0,420.1 208.3,420.1 208.6,420.1 208.9,420.1 209.2,420.1 209.5,420.1 209.7,420.1 210.0,420.1 210.3,420.1 210.6,420.1 210.9,420.1 211.2,420.1 211.5,420.1 211.8,420.1 212.1,420.1 212.4,420.1 212.7,420.1 213.0,420.1 213.3,420.1 213.6,420.1 213.9,420.1 214.2,420.1 214.5,420.1 214.8,420.1 215.1,420.1 215.4,420.1 215.7,420.1 216.0,420.1 216.3,420.1 216.6,420.1 216.9,420.1 217.2,420.1 217.5,420.1 217.8,420.1 218.1,420.1 218.4,420.1 218.7,420.1 219.0,420.1 219.3,420.1 219.6,420.1 219.9,420.1 220.2,420.1 220.5,420.1 220.8,420.1 221.1,420.1 221.4,420.1 221.7,420.1 222.0,420.1 222.3,420.1 222.6,420.1 222.9,420.1 223.2,420.1 223.5,420.1 223.8,420.1 224.1,420.1 224.4,420.1 224.7,420.1 225.0,420.1 225.3,420.1 225.4,420.1 225.6,420.1 225.6,420.1 225.8,418.8 225.9,418.3 226.0,416.7 226.2,415.1 226.2,414.8 226.4,413.1 226.4,412.4 226.6,411.6 226.7,410.3 226.7,410.2 226.9,409.1 227.0,408.4 227.1,408.0 227.3,407.0 227.3,406.8 227.5,406.2 227.6,405.5 227.7,405.4 227.9,404.7 227.9,404.4 228.0,404.1 228.2,403.5 228.2,403.5 228.4,403.1 228.5,402.8 228.6,402.6 228.8,402.2 228.8,402.1 229.0,401.8 229.1,401.6 229.2,401.5 229.3,401.2 229.4,401.1 229.5,401.0 229.7,400.7 229.7,400.7 229.9,400.5 230.0,400.4 230.1,400.3 230.3,400.2 230.3,400.1 230.5,400.0 230.6,399.9 230.7,399.9 230.8,399.7 230.9,399.7 231.0,399.6 231.2,399.5 231.2,399.5 231.4,399.4 231.5,399.3 231.6,399.3 231.8,399.2 231.8,399.2 232.0,399.2 232.1,399.1 232.1,399.1 232.3,399.0 232.4,399.0 232.5,399.0 232.7,398.9 232.7,398.9 232.9,398.9 233.0,398.8 233.1,398.8 233.3,398.8 233.3,398.8 233.4,398.7 233.6,398.7 233.6,398.7 233.8,398.7 233.9,398.7 234.0,398.6 234.2,398.6 234.2,398.6 234.4,398.6 234.5,398.6 234.6,398.5 234.8,398.5 234.8,398.5 234.9,398.5 235.1,398.5 235.1,398.5 235.3,398.5 235.4,398.4 235.5,398.4 235.7,398.4 235.7,398.4 235.9,398.4 236.0,398.4 236.1,398.4 236.2,398.4 236.3,398.3 236.4,398.3 236.6,398.3 236.9,398.3 237.2,398.3 237.5,398.3 237.8,398.2 238.1,398.2 238.4,398.2 238.7,398.2 239.0,398.2 239.3,398.1 239.6,398.1 239.9,398.1 240.2,398.1 240.5,398.1 240.8,398.1 241.1,398.1 241.4,398.0 241.7,398.0 242.0,398.0 242.3,398.0 242.6,398.0 242.9,398.0 243.2,398.0 243.4,398.0 243.7,398.0 244.0,397.9 244.3,397.9 244.6,397.9 244.9,397.9 245.2,397.9 245.5,397.9 245.8,397.9 246.1,397.9 246.4,397.9 246.7,397.9 247.0,397.9 247.3,397.9 247.6,397.9 247.9,397.9 248.2,397.9 248.5,397.9 248.8,397.8 249.1,397.8 249.4,397.8 249.7,397.8 250.0,397.8 250.3,397.8 250.6,397.8 250.9,397.8 251.2,397.8 251.5,397.8 251.8,397.8 252.1,397.8 252.4,397.8 252.7,397.8 253.0,397.8 253.3,397.8 253.6,397.8 253.9,397.8 254.2,397.8 254.5,397.8 254.8,397.8 255.1,397.8 255.4,397.8 255.7,397.8 256.0,397.8 256.3,397.8 256.6,397.8 256.9,397.8 257.2,397.8 257.5,397.8 257.8,397.8 258.1,397.8 258.4,397.8 258.7,397.8 259.0,397.8 259.3,397.8 259.6,397.8 259.9,397.8 260.1,397.8 260.4,397.7 260.7,397.7 261.0,397.7 261.3,397.7 261.6,397.7 261.9,397.7 262.2,397.7 262.5,397.7 262.8,397.7 263.1,397.7 263.4,397.7 263.7,397.7 264.0,397.7 264.3,397.7 264.6,397.7 264.9,397.7 265.2,397.7 265.5,397.7 265.8,397.7 266.1,397.7 266.4,397.7 266.7,397.7 267.0,397.7 267.3,397.7 267.6,397.7 267.9,397.7 268.2,397.7 268.5,397.7 268.8,397.7 269.1,397.7 269.4,397.7 269.7,397.7 270.0,397.7 270.3,397.7 270.6,397.7 270.9,397.7 271.2,397.7 271.5,397.7 271.8,397.7 272.1,397.7 272.4,397.7 272.7,397.7 273.0,397.7 273.3,397.7 273.6,397.7 273.9,397.7 274.2,397.7 274.5,397.7 274.8,397.7 275.1,397.7 275.4,397.7 275.7,397.7 276.0,397.7 276.3,397.7 276.6,397.7 276.8,397.7 277.1,397.7 277.4,397.7 277.7,397.7 278.0,397.7 278.3,397.7 278.6,397.7 278.9,397.7 279.2,397.7 279.5,397.7 279.8,397.7 280.1,397.7 280.4,397.7 280.7,397.7 281.0,397.7 281.3,397.7 281.6,397.7 281.9,397.7 282.2,397.7 282.5,397.7 282.8,397.7 283.1,397.7 283.4,397.7 283.7,397.7 284.0,397.7 284.3,397.7 284.6,397.7 284.9,397.7 285.2,397.7 285.5,397.7 285.8,397.7 286.1,397.7 286.4,397.7 286.7,397.7 287.0,397.7 287.3,397.7 287.6,397.7 287.9,397.7 288.2,397.7 288.5,397.7 288.8,397.7 289.1,397.7 289.4,397.7 289.7,397.7 290.0,397.7 290.3,397.7 290.6,397.7 290.9,397.7 291.2,397.7 291.5,397.7 291.8,397.7 292.1,397.7 292.4,397.7 292.7,397.7 293.0,397.7 293.3,397.7 293.5,397.7 293.8,397.7 294.1,397.7 294.4,397.7 294.7,397.7 295.0,397.7 295.3,397.7 295.6,397.7 295.9,397.7 296.2,397.7 296.5,397.7 296.8,397.7 297.1,397.7 297.4,397.7 297.7,397.7 298.0,397.7 298.3,397.7 298.6,397.7 298.9,397.7 299.2,397.7 299.5,397.7 299.8,397.7 300.1,397.7 300.4,397.7 300.7,397.7 301.0,397.7 301.3,397.7 301.6,397.7 301.9,397.7 302.2,397.7 302.5,397.7 302.8,397.7 303.1,397.7 303.4,397.7 303.7,397.7 304.0,397.7 304.3,397.7 304.6,397.7 304.9,397.7 305.2,397.7 305.5,397.7 305.8,397.7 306.1,397.7 306.4,397.7 306.7,397.7 307.0,397.7 307.3,397.7 307.6,397.7 307.9,397.7 308.2,397.7 308.5,397.7 308.8,397.7 309.1,397.7 309.4,397.7 309.7,397.7 310.0,397.7 310.2,397.7 310.5,397.7 310.8,397.7 311.1,397.7 311.2,397.7 311.4,397.7 311.4,397.7 311.6,396.4 311.7,394.8 311.8,394.3 312.0,392.4 312.0,391.7 312.2,390.7 312.3,389.2 312.3,389.1 312.5,387.8 312.6,387.1 312.7,386.6 312.9,385.5 312.9,385.3 313.1,384.5 313.2,383.8 313.3,383.6 313.5,382.9 313.5,382.6 313.6,382.2 313.8,381.6 313.8,381.5 314.0,381.0 314.1,380.7 314.2,380.5 314.4,380.0 314.4,380.0 314.6,379.6 314.7,379.3 314.8,379.3 315.0,378.9 315.0,378.8 315.1,378.6 315.3,378.4 315.3,378.4 315.5,378.1 315.6,378.0 315.7,377.9 315.9,377.7 315.9,377.7 316.1,377.6 316.2,377.4 316.3,377.4 316.4,377.3 316.5,377.2 316.6,377.1 316.8,377.0 316.8,377.0 317.0,376.9 317.1,376.8 317.2,376.8 317.4,376.7 317.4,376.7 317.6,376.6 317.7,376.6 317.7,376.6 317.9,376.5 318.0,376.5 318.1,376.4 318.3,376.4 318.3,376.4 318.5,376.3 318.6,376.3" fill="none" stroke="#0072BD" stroke-width="2.0" stroke-linejoin="round" /><polyline points="50.5,466.5 50.8,466.5 51.1,466.5 51.4,466.5 51.7,466.5 52.0,466.5 52.3,466.5 52.6,466.5 52.9,466.5 53.2,466.5 53.5,466.5 53.8,466.5 54.1,466.5 54.4,466.5 54.7,466.5 55.0,466.5 55.3,466.5 55.6,466.5 55.9,466.5 56.2,466.5 56.5,466.5 56.8,466.5 57.1,466.5 57.4,466.5 57.7,466.5 58.0,466.5 58.3,466.5 58.6,466.5 58.9,466.5 59.1,466.5 59.4,466.5 59.7,466.5 60.0,466.5 60.3,466.5 60.6,466.5 60.9,466.5 61.2,466.5 61.5,466.5 61.8,466.5 62.1,466.5 62.4,466.5 62.7,466.5 63.0,466.5 63.3,466.5 63.6,466.5 63.9,466.5 64.2,466.5 64.5,466.5 64.8,466.5 65.1,466.5 65.4,466.5 65.7,466.5 66.0,466.5 66.3,466.5 66.6,466.5 66.9,466.5 67.2,466.5 67.5,466.5 67.8,466.5 68.1,466.5 68.4,466.5 68.7,466.5 69.0,466.5 69.3,466.5 69.6,466.5 69.9,466.5 70.2,466.5 70.5,466.5 70.8,466.5 71.1,466.5 71.4,466.5 71.7,466.5 72.0,466.5 72.3,466.5 72.6,466.5 72.9,466.5 73.2,466.5 73.5,466.5 73.8,466.5 74.1,466.5 74.4,466.5 74.7,466.5 75.0,466.5 75.3,466.5 75.6,466.5 75.8,466.5 76.1,466.5 76.4,466.5 76.6,466.5 76.7,466.5 76.8,466.5 77.0,463.9 77.0,463.2 77.2,459.7 77.3,456.9 77.4,456.0 77.6,452.7 77.6,451.6 77.8,449.6 77.9,447.0 77.9,447.0 78.1,444.8 78.2,443.5 78.3,442.7 78.5,440.8 78.5,440.4 78.7,439.1 78.8,437.8 78.9,437.0 79.1,436.0 79.1,435.7 79.2,435.1 79.4,433.9 79.4,433.9 79.6,433.0 79.7,432.1 79.8,431.9 80.0,431.0 80.0,430.5 80.2,430.3 80.3,429.8 80.4,429.7 80.6,429.2 80.6,429.0 80.7,428.6 80.9,428.0 80.9,428.2 81.1,427.9 81.2,427.7 81.3,427.5 81.5,427.0 81.5,426.9 81.7,426.6 81.8,426.3 81.9,426.4 82.0,426.0 82.1,426.0 82.2,425.8 82.4,426.0 82.4,425.5 82.6,425.7 82.7,425.6 82.8,425.2 83.0,425.2 83.0,424.9 83.2,425.0 83.3,425.0 83.3,424.9 83.5,424.8 83.6,424.5 83.7,424.4 83.9,424.4 83.9,424.6 84.1,424.4 84.2,424.2 84.3,424.4 84.5,424.4 84.5,424.1 84.7,424.1 84.8,424.1 84.8,424.1 85.0,424.3 85.1,423.8 85.2,424.0 85.4,424.1 85.4,424.1 85.6,424.0 85.7,423.6 85.8,423.7 86.0,423.9 86.0,423.5 86.1,423.5 86.3,423.8 86.3,424.0 86.5,423.5 86.6,423.7 86.7,423.6 86.9,423.6 86.9,423.3 87.1,423.3 87.2,423.3 87.3,423.5 87.4,423.4 87.5,423.3 87.6,423.6 87.8,423.2 88.1,423.3 88.4,423.2 88.7,423.2 89.0,423.0 89.3,423.0 89.6,422.8 89.9,423.1 90.2,423.1 90.5,423.0 90.8,423.0 91.1,422.8 91.4,423.0 91.7,422.8 92.0,422.7 92.3,422.7 92.5,422.8 92.8,422.6 93.1,422.6 93.4,423.0 93.7,422.7 94.0,422.7 94.3,422.7 94.6,422.7 94.9,422.6 95.2,422.6 95.5,422.6 95.8,422.4 96.1,422.4 96.4,422.6 96.7,422.6 97.0,422.4 97.3,422.6 97.6,422.5 97.9,422.4 98.2,422.3 98.5,422.4 98.8,422.2 99.1,422.5 99.4,422.3 99.7,422.5 100.0,422.4 100.3,422.4 100.6,422.5 100.9,422.7 101.2,422.2 101.5,422.3 101.8,422.3 102.1,422.4 102.4,422.4 102.7,422.3 103.0,422.3 103.3,422.2 103.6,422.3 103.9,422.4 104.2,422.2 104.5,422.4 104.8,422.3 105.1,422.5 105.4,422.3 105.7,422.2 106.0,422.4 106.3,422.3 106.6,422.2 106.9,422.2 107.2,422.0 107.5,422.3 107.8,422.3 108.1,422.3 108.4,422.5 108.7,422.4 109.0,422.2 109.2,422.3 109.5,422.0 109.8,422.2 110.1,422.2 110.4,422.1 110.7,422.2 111.0,422.0 111.3,422.4 111.6,422.2 111.9,422.1 112.2,422.1 112.5,422.0 112.8,422.1 113.1,422.2 113.4,422.3 113.7,422.1 114.0,422.2 114.3,422.1 114.6,422.0 114.9,422.2 115.2,422.3 115.5,422.2 115.8,422.1 116.1,422.2 116.4,422.0 116.7,422.2 117.0,422.2 117.3,422.3 117.6,422.2 117.9,422.0 118.2,422.2 118.5,422.2 118.8,422.3 119.1,422.1 119.4,422.4 119.7,422.3 120.0,422.0 120.3,422.0 120.6,422.2 120.9,422.0 121.2,422.4 121.5,422.1 121.8,422.1 122.1,422.3 122.4,422.4 122.7,422.2 123.0,422.1 123.3,422.1 123.6,422.1 123.9,422.1 124.2,422.1 124.5,422.3 124.8,422.2 125.1,422.2 125.4,422.0 125.7,422.2 125.9,422.0 126.2,422.1 126.5,421.8 126.8,422.2 127.1,422.2 127.4,422.2 127.7,422.1 128.0,421.8 128.3,422.2 128.6,422.3 128.9,422.2 129.2,422.1 129.5,422.3 129.8,422.0 130.1,422.1 130.4,422.2 130.7,422.2 131.0,422.3 131.3,422.2 131.6,422.3 131.9,422.0 132.2,421.9 132.5,422.2 132.8,422.2 133.1,422.4 133.4,422.2 133.7,422.1 134.0,422.1 134.3,422.1 134.6,422.0 134.9,422.1 135.2,422.2 135.5,421.9 135.8,422.4 136.1,422.3 136.4,422.3 136.7,422.3 137.0,422.3 137.3,422.2 137.6,422.3 137.9,422.2 138.2,422.1 138.5,422.2 138.8,422.1 139.1,422.3 139.4,422.3 139.7,422.2 140.0,422.0 140.3,422.1 140.6,422.0 140.9,422.0 141.2,422.0 141.5,422.3 141.8,422.0 142.1,422.1 142.4,421.9 142.7,422.1 142.9,422.1 143.2,422.2 143.5,422.1 143.8,422.4 144.1,422.2 144.4,422.2 144.7,422.0 145.0,422.2 145.3,422.1 145.6,421.9 145.9,422.2 146.2,422.0 146.5,422.2 146.8,422.2 147.1,422.1 147.4,422.0 147.7,422.2 148.0,422.3 148.3,421.9 148.6,422.1 148.9,422.0 149.2,422.0 149.5,422.1 149.8,422.2 150.1,422.2 150.4,422.4 150.7,422.1 151.0,422.2 151.3,422.2 151.6,421.9 151.9,422.1 152.2,422.1 152.5,422.3 152.8,422.1 153.1,421.9 153.4,422.3 153.7,422.1 154.0,422.2 154.3,422.2 154.6,422.2 154.9,422.4 155.2,422.2 155.5,422.4 155.8,422.0 156.1,422.0 156.4,422.1 156.7,422.1 157.0,422.1 157.3,422.1 157.6,422.1 157.9,422.2 158.2,422.2 158.5,422.3 158.8,422.3 159.1,422.2 159.4,422.1 159.6,422.2 159.9,421.9 160.2,422.2 160.5,422.2 160.8,422.1 161.1,422.0 161.4,421.9 161.7,422.0 162.0,422.2 162.3,422.2 162.6,422.0 162.8,422.1 162.9,422.0 163.0,422.2 163.2,419.4 163.2,418.9 163.4,415.2 163.5,412.6 163.6,411.8 163.8,408.4 163.8,407.2 164.0,405.2 164.1,403.2 164.1,402.6 164.3,400.0 164.4,398.9 164.5,398.1 164.7,396.0 164.7,395.9 164.9,394.4 165.0,393.1 165.1,392.7 165.3,391.6 165.3,391.2 165.4,390.4 165.6,389.5 165.6,389.0 165.8,387.9 165.9,387.7 166.0,387.2 166.2,386.6 166.2,386.4 166.4,385.7 166.5,385.3 166.6,385.2 166.7,384.8 166.8,384.6 166.9,384.1 167.1,383.7 167.1,383.6 167.3,383.2 167.4,383.0 167.5,382.8 167.7,382.4 167.7,382.4 167.9,382.2 168.0,382.0 168.1,381.7 168.2,381.6 168.3,381.6 168.4,381.5 168.6,381.1 168.6,381.1 168.8,380.8 168.9,380.9 169.0,380.6 169.2,380.6 169.2,380.6 169.4,380.5 169.5,380.3 169.5,380.2 169.7,380.2 169.8,380.2 169.9,380.3 170.1,380.0 170.1,380.0 170.3,379.9 170.4,379.9 170.5,379.9 170.7,379.7 170.7,379.6 170.8,379.5 171.0,379.6 171.0,379.5 171.2,379.5 171.3,379.5 171.4,379.6 171.6,379.2 171.6,379.3 171.8,379.1 171.9,379.3 172.0,379.2 172.1,379.3 172.2,379.1 172.3,379.1 172.5,379.0 172.5,379.1 172.7,378.9 172.8,379.1 172.9,378.9 173.1,379.0 173.1,379.0 173.3,378.9 173.4,378.8 173.5,379.1 173.6,379.0 173.7,378.8 173.8,378.8 174.0,379.0 174.3,379.0 174.6,378.8 174.9,378.6 175.2,378.6 175.5,378.4 175.8,378.4 176.1,378.2 176.3,378.6 176.6,378.4 176.9,378.2 177.2,378.5 177.5,378.5 177.8,378.3 178.1,378.1 178.4,378.1 178.7,378.5 179.0,378.4 179.3,378.2 179.6,378.2 179.9,378.1 180.2,378.1 180.5,377.9 180.8,378.1 181.1,378.0 181.4,378.0 181.7,377.9 182.0,378.2 182.3,377.9 182.6,378.1 182.9,378.1 183.2,377.8 183.5,377.9 183.8,377.7 184.1,377.9 184.4,377.8 184.7,377.9 185.0,377.8 185.3,377.9 185.6,377.6 185.9,378.0 186.2,377.6 186.5,377.8 186.8,377.7 187.1,377.8 187.4,377.7 187.7,377.6 188.0,377.8 188.3,377.9 188.6,377.7 188.9,377.7 189.2,378.1 189.5,377.6 189.8,377.6 190.1,378.0 190.4,377.7 190.7,377.6 191.0,377.9 191.3,377.8 191.6,377.8 191.9,377.6 192.2,377.5 192.5,377.7 192.8,377.7 193.0,377.6 193.3,377.6 193.6,377.7 193.9,377.5 194.2,377.9 194.5,377.6 194.8,377.7 195.1,377.7 195.4,377.6 195.7,377.6 196.0,377.3 196.3,377.6 196.6,377.6 196.9,377.4 197.2,377.5 197.5,377.9 197.8,377.6 198.1,377.5 198.4,377.7 198.7,377.6 199.0,377.7 199.3,377.6 199.6,377.8 199.9,377.9 200.2,377.7 200.5,377.6 200.8,377.4 201.1,377.7 201.4,377.7 201.7,377.5 202.0,377.6 202.3,377.4 202.6,377.6 202.9,377.9 203.2,377.7 203.5,377.7 203.8,377.8 204.1,377.7 204.4,377.7 204.7,377.6 205.0,377.7 205.3,377.5 205.6,377.5 205.9,377.6 206.2,377.6 206.5,377.9 206.8,377.8 207.1,377.7 207.4,377.6 207.7,377.8 208.0,377.7 208.3,377.6 208.6,377.3 208.9,377.6 209.2,377.7 209.5,377.4 209.7,377.6 210.0,377.6 210.3,377.4 210.6,377.7 210.9,377.6 211.2,377.6 211.5,377.5 211.8,377.7 212.1,377.8 212.4,377.6 212.7,377.6 213.0,377.6 213.3,377.6 213.6,377.5 213.9,377.5 214.2,377.6 214.5,377.7 214.8,377.4 215.1,377.8 215.4,377.6 215.7,377.5 216.0,377.7 216.3,377.4 216.6,377.3 216.9,377.4 217.2,377.5 217.5,377.5 217.8,377.7 218.1,377.5 218.4,377.5 218.7,377.6 219.0,377.6 219.3,377.6 219.6,377.9 219.9,377.5 220.2,377.5 220.5,377.3 220.8,377.5 221.1,377.6 221.4,377.5 221.7,377.5 222.0,377.6 222.3,377.6 222.6,377.8 222.9,377.6 223.2,377.4 223.5,377.8 223.8,377.7 224.1,377.5 224.4,377.6 224.7,377.5 225.0,377.8 225.3,377.7 225.4,377.5 225.6,377.5 225.6,377.5 225.8,375.2 225.9,373.9 226.0,371.1 226.2,367.9 226.2,367.4 226.4,363.8 226.4,362.7 226.6,361.0 226.7,358.7 226.7,358.1 226.9,356.0 227.0,354.9 227.1,354.2 227.3,351.9 227.3,351.8 227.5,350.2 227.6,349.2 227.7,349.2 227.9,347.4 227.9,346.9 228.0,346.3 228.2,345.3 228.2,345.3 228.4,344.2 228.5,343.9 228.6,343.7 228.8,342.5 228.8,342.6 229.0,341.8 229.1,341.5 229.2,341.4 229.3,340.8 229.4,340.9 229.5,340.1 229.7,339.9 229.7,339.8 229.9,339.2 230.0,339.1 230.1,338.9 230.3,338.6 230.3,338.5 230.5,338.3 230.6,338.0 230.7,338.1 230.8,337.8 230.9,337.8 231.0,337.5 231.2,337.7 231.2,337.4 231.4,337.2 231.5,337.0 231.6,337.0 231.8,336.7 231.8,336.6 232.0,336.8 232.1,336.9 232.1,336.7 232.3,336.6 232.4,336.4 232.5,336.4 232.7,336.1 232.7,336.3 232.9,336.2 233.0,336.1 233.1,336.2 233.3,336.0 233.3,335.6 233.4,335.9 233.6,336.0 233.6,336.1 233.8,335.6 233.9,335.8 234.0,335.8 234.2,335.3 234.2,335.4 234.4,335.8 234.5,335.6 234.6,335.4 234.8,335.4 234.8,335.6 234.9,335.2 235.1,335.1 235.1,335.5 235.3,335.6 235.4,335.5 235.5,335.2 235.7,335.1 235.7,335.2 235.9,335.3 236.0,335.2 236.1,335.1 236.2,335.3 236.3,335.4 236.4,335.1 236.6,334.9 236.9,335.0 237.2,335.0 237.5,335.0 237.8,334.8 238.1,335.1 238.4,334.8 238.7,334.9 239.0,334.8 239.3,334.9 239.6,334.6 239.9,334.7 240.2,334.7 240.5,334.6 240.8,334.6 241.1,334.6 241.4,334.6 241.7,334.4 242.0,334.6 242.3,334.5 242.6,334.5 242.9,334.4 243.2,334.4 243.4,334.1 243.7,334.6 244.0,334.3 244.3,334.4 244.6,334.2 244.9,334.5 245.2,334.1 245.5,334.5 245.8,334.2 246.1,334.2 246.4,334.3 246.7,334.3 247.0,334.3 247.3,334.2 247.6,334.3 247.9,334.5 248.2,334.4 248.5,334.1 248.8,334.1 249.1,334.1 249.4,334.1 249.7,334.1 250.0,334.1 250.3,334.1 250.6,334.2 250.9,334.2 251.2,334.3 251.5,334.1 251.8,334.2 252.1,334.1 252.4,333.9 252.7,334.1 253.0,333.9 253.3,333.9 253.6,334.3 253.9,334.2 254.2,334.0 254.5,334.1 254.8,334.0 255.1,333.9 255.4,334.1 255.7,333.9 256.0,333.8 256.3,333.9 256.6,334.1 256.9,334.0 257.2,334.1 257.5,333.8 257.8,334.0 258.1,334.1 258.4,334.0 258.7,333.9 259.0,334.0 259.3,334.0 259.6,334.0 259.9,333.9 260.1,333.8 260.4,333.9 260.7,334.0 261.0,333.9 261.3,334.1 261.6,333.8 261.9,333.9 262.2,333.9 262.5,334.3 262.8,333.6 263.1,333.8 263.4,333.8 263.7,333.9 264.0,333.9 264.3,333.6 264.6,334.0 264.9,333.8 265.2,333.9 265.5,333.9 265.8,333.9 266.1,334.1 266.4,333.9 266.7,334.1 267.0,333.7 267.3,333.8 267.6,334.0 267.9,334.2 268.2,333.9 268.5,333.9 268.8,334.1 269.1,333.7 269.4,333.9 269.7,334.0 270.0,334.1 270.3,333.9 270.6,334.0 270.9,333.8 271.2,333.8 271.5,333.9 271.8,333.9 272.1,333.7 272.4,333.8 272.7,334.0 273.0,333.8 273.3,334.0 273.6,333.9 273.9,333.9 274.2,334.1 274.5,333.8 274.8,333.9 275.1,333.8 275.4,334.1 275.7,333.8 276.0,333.8 276.3,334.0 276.6,333.9 276.8,333.9 277.1,333.9 277.4,333.8 277.7,334.0 278.0,334.1 278.3,333.9 278.6,333.7 278.9,334.0 279.2,334.1 279.5,334.0 279.8,333.9 280.1,333.8 280.4,334.0 280.7,333.9 281.0,333.9 281.3,333.9 281.6,333.9 281.9,333.8 282.2,333.8 282.5,334.0 282.8,333.6 283.1,334.1 283.4,334.1 283.7,333.8 284.0,333.9 284.3,333.9 284.6,333.9 284.9,333.8 285.2,334.0 285.5,334.0 285.8,334.1 286.1,334.0 286.4,334.0 286.7,333.8 287.0,333.9 287.3,333.8 287.6,334.0 287.9,333.8 288.2,334.1 288.5,333.9 288.8,333.8 289.1,334.0 289.4,334.1 289.7,333.8 290.0,334.0 290.3,334.0 290.6,333.9 290.9,334.1 291.2,333.9 291.5,333.6 291.8,334.0 292.1,333.8 292.4,334.1 292.7,333.9 293.0,334.0 293.3,333.9 293.5,333.8 293.8,333.6 294.1,333.9 294.4,333.7 294.7,333.9 295.0,333.8 295.3,334.0 295.6,334.0 295.9,333.9 296.2,334.0 296.5,333.9 296.8,334.1 297.1,333.9 297.4,333.9 297.7,333.7 298.0,333.7 298.3,333.8 298.6,334.0 298.9,333.8 299.2,333.8 299.5,333.9 299.8,334.0 300.1,334.2 300.4,333.9 300.7,333.7 301.0,333.9 301.3,333.9 301.6,333.9 301.9,333.8 302.2,333.8 302.5,334.2 302.8,333.9 303.1,333.9 303.4,333.9 303.7,333.7 304.0,334.0 304.3,333.8 304.6,333.7 304.9,333.9 305.2,333.9 305.5,334.0 305.8,333.8 306.1,334.2 306.4,334.1 306.7,334.0 307.0,333.8 307.3,333.8 307.6,334.0 307.9,333.7 308.2,333.9 308.5,334.0 308.8,333.8 309.1,333.7 309.4,333.9 309.7,334.1 310.0,334.0 310.2,333.9 310.5,333.8 310.8,334.0 311.1,333.9 311.2,334.1 311.4,333.9 311.4,334.1 311.6,331.5 311.7,328.5 311.8,327.4 312.0,323.8 312.0,322.7 312.2,320.2 312.3,317.4 312.3,317.4 312.5,314.9 312.6,313.3 312.7,312.5 312.9,310.3 312.9,309.9 313.1,308.5 313.2,307.1 313.3,306.9 313.5,305.4 313.5,304.9 313.6,304.2 313.8,303.0 313.8,302.7 314.0,302.0 314.1,301.1 314.2,300.8 314.4,299.8 314.4,299.7 314.6,299.1 314.7,298.4 314.8,298.5 315.0,297.9 315.0,297.5 315.1,297.4 315.3,296.6 315.3,296.7 315.5,296.4 315.6,296.3 315.7,296.2 315.9,295.3 315.9,295.7 316.1,295.4 316.2,294.8 316.3,294.8 316.4,294.6 316.5,294.5 316.6,294.4 316.8,294.3 316.8,294.2 317.0,293.9 317.1,293.7 317.2,293.6 317.4,293.6 317.4,293.9 317.6,293.3 317.7,293.3 317.7,293.6 317.9,292.9 318.0,293.1 318.1,293.0 318.3,292.9 318.3,292.9 318.5,292.8 318.6,292.7" fill="none" stroke="#D95319" stroke-width="2.0" stroke-linejoin="round" /></g>
<clipPath id="cpd"><rect x="417.40000000000003" y="279.3" width="258.19999999999993" height="187.4"/></clipPath><g clip-path="url(#cpd)"><polyline points="418.6,289.7 418.7,402.4 418.8,449.4 418.8,451.7 419.0,454.3 419.0,454.4 419.1,454.8 419.1,454.8 419.3,455.1 419.3,455.1 419.4,455.3 419.5,455.4 419.6,455.5 419.7,455.6 419.8,455.7 419.9,455.9 419.9,455.9 420.1,456.0 420.1,456.1 420.2,456.2 420.2,456.2 420.4,456.3 420.4,456.3 420.6,456.4 420.6,456.5 420.7,456.5 420.8,456.6 420.9,456.6 421.0,456.6 421.0,456.7 421.2,456.7 421.2,456.7 421.3,456.8 421.3,456.8 421.5,456.8 421.5,456.8 421.7,456.9 421.7,456.9 421.8,456.9 421.9,456.9 422.0,457.0 422.1,457.0 422.1,457.0 422.3,457.0 422.3,457.0 422.4,457.0 422.4,457.0 422.6,457.1 422.6,457.1 422.8,457.1 422.8,457.1 422.9,457.1 423.0,457.1 423.1,457.1 423.2,457.1 423.2,457.1 423.4,457.1 423.4,457.1 423.5,457.1 423.5,457.1 423.7,457.2 423.7,457.2 423.9,457.2 423.9,457.2 424.0,457.2 424.1,457.2 424.2,457.2 424.3,457.2 424.3,457.2 424.5,457.2 424.5,457.2 424.6,457.2 424.6,457.2 424.8,457.2 424.8,457.2 425.0,457.2 425.0,457.2 425.1,457.2 425.2,457.2 425.3,457.2 425.4,457.2 425.4,457.2 425.5,457.2 425.6,457.2 425.7,457.2 425.8,457.2 425.9,457.2 425.9,457.2 426.1,457.2 426.1,457.2 426.2,457.2 426.3,457.2 426.4,457.2 426.5,457.2 426.5,457.2 426.6,457.2 426.7,457.2 426.8,457.2 426.9,457.2 427.0,457.2 427.0,457.2 427.2,457.2 427.2,457.2 427.3,457.2 427.4,457.2 427.5,457.2 427.6,457.2 427.6,457.2 427.7,457.2 427.8,457.2 427.9,457.2 428.0,457.2 428.1,457.2 428.1,457.2 428.3,457.2 428.3,457.2 428.4,457.2 428.5,457.2 428.6,457.2 428.7,457.2 428.7,457.2 428.8,457.2 428.9,457.2 429.0,457.2 429.1,457.2 429.2,457.2 429.2,457.2 429.4,457.2 429.4,457.2 429.5,457.2 429.6,457.2 429.7,457.2 429.8,457.2 429.9,457.2 429.9,457.2 430.0,457.2 430.1,457.2 430.2,457.2 430.3,457.2 430.3,457.2 430.5,457.2 430.5,457.2 430.6,457.2 430.7,457.2 430.8,457.2 430.9,457.2 431.0,457.2 431.0,457.2 431.1,457.2 431.2,457.2 431.3,457.2 431.4,457.2 431.4,457.2 431.6,457.2 431.6,457.2 431.7,457.2 431.8,457.2 431.9,457.2 431.9,457.2 432.1,457.2 432.1,457.2 432.2,457.2 432.3,457.2 432.4,457.2 432.5,457.2 432.5,457.2 432.7,457.2 432.7,457.2 432.8,457.2 432.9,457.2 433.0,457.2 433.0,457.2 433.2,457.2 433.2,457.2 433.3,457.2 433.4,457.2 433.5,457.2 433.6,457.2 433.6,457.2 433.8,457.2 433.8,457.2 433.9,457.2 434.0,457.2 434.1,457.2 434.3,457.2 434.5,457.2 434.7,457.2 434.9,457.2 435.1,457.2 435.2,457.2 435.4,457.2 435.6,457.2 435.8,457.2 436.0,457.2 436.2,457.2 436.3,457.2 436.5,457.2 436.7,457.2 436.9,457.2 437.1,457.2 437.3,457.2 437.4,457.2 437.6,457.2 437.8,457.2 438.0,457.2 438.2,457.2 438.3,457.2 438.5,457.2 438.7,457.2 438.9,457.2 439.1,457.2 439.3,457.2 439.4,457.2 439.6,457.2 439.8,457.2 440.0,457.2 440.2,457.2 440.4,457.2 440.5,457.2 440.7,457.2 440.9,457.2 441.1,457.2 441.3,457.2 441.5,457.2 441.6,457.2 441.8,457.2 442.0,457.2 442.2,457.2 442.4,457.2 442.6,457.2 442.7,457.2 442.9,457.2 443.1,457.2 443.3,457.2 443.5,457.2 443.5,457.2 443.6,457.2 443.7,457.2 443.8,457.2 443.8,454.7 443.9,453.1 443.9,451.5 444.0,445.9 444.0,442.6 444.0,442.5 444.0,441.3 444.1,437.9 444.2,435.9 444.2,434.8 444.2,434.7 444.3,431.5 444.3,429.7 444.4,428.5 444.4,427.8 444.4,425.5 444.5,424.0 444.5,422.7 444.6,421.3 444.6,419.9 444.6,418.7 444.7,417.3 444.7,415.4 444.8,414.7 444.8,413.7 444.8,412.2 444.9,409.8 444.9,409.8 445.0,409.0 445.0,407.5 445.1,405.2 445.1,404.7 445.1,404.6 445.2,403.1 445.3,400.9 445.3,400.4 445.3,399.9 445.3,398.9 445.4,396.9 445.4,396.5 445.5,395.3 445.5,394.9 445.6,393.0 445.6,392.7 445.7,391.1 445.7,391.1 445.7,389.3 445.7,389.1 445.8,387.5 445.8,387.0 445.9,385.8 445.9,385.7 446.0,384.0 446.0,383.1 446.1,382.3 446.1,382.3 446.1,380.6 446.2,379.3 446.2,379.0 446.2,378.9 446.3,377.3 446.4,375.8 446.4,375.6 446.4,375.5 446.5,373.9 446.5,372.6 446.5,372.3 446.6,371.7 446.6,370.6 446.7,369.3 446.7,368.9 446.8,368.0 446.8,367.3 446.9,366.0 446.9,365.5 446.9,364.1 447.0,363.8 447.0,362.6 447.0,362.1 447.1,360.3 447.1,360.1 447.2,359.2 447.2,358.5 447.3,356.7 447.3,356.1 447.3,355.7 447.4,355.0 447.4,353.3 447.5,352.4 447.5,352.2 447.5,351.6 447.6,350.0 447.6,349.2 447.7,348.6 447.7,348.4 447.8,346.8 447.8,346.2 447.8,345.2 447.9,345.0 447.9,343.7 448.0,343.2 448.0,342.2 448.0,341.6 448.1,340.8 448.1,340.3 448.2,339.3 448.2,338.3 448.2,337.8 448.3,337.5 448.3,336.4 448.4,335.1 448.4,334.9 448.4,334.7 448.5,333.5 448.6,332.1 448.6,331.9 448.6,331.9 448.7,330.7 448.7,329.4 448.7,329.2 448.8,328.8 448.8,328.0 448.9,326.7 448.9,326.7 449.0,325.8 449.0,325.4 449.1,324.2 449.1,324.2 449.1,323.0 449.1,323.0 449.2,321.9 449.2,321.8 449.3,320.6 449.3,320.4 449.4,319.7 449.4,319.5 449.5,318.5 449.5,318.0 449.5,317.6 449.5,317.4 449.6,316.3 449.7,315.5 449.7,315.5 449.7,315.2 449.8,314.2 449.8,313.4 449.9,313.1 449.9,313.1 449.9,312.0 450.0,311.3 450.0,311.0 450.0,310.7 450.1,310.0 450.2,309.4 450.2,309.0 450.2,308.5 450.3,307.6 450.4,306.5 450.5,305.9 450.6,304.8 450.6,304.5 450.8,303.4 450.8,303.4 450.9,302.6 451.0,302.5 451.1,302.0 451.1,301.8 451.3,301.4 451.3,301.2 451.4,300.9 451.5,300.6 451.6,300.4 451.7,300.1 451.7,299.9 451.9,299.5 451.9,299.5 452.1,299.1 452.1,299.1 452.2,298.7 452.2,298.6 452.4,298.4 452.4,298.2 452.5,298.0 452.6,297.9 452.7,297.7 452.8,297.5 452.8,297.5 453.0,297.2 453.0,297.2 453.2,297.0 453.2,297.0 453.3,296.7 453.3,296.7 453.5,296.5 453.5,296.5 453.6,296.4 453.7,296.3 453.8,296.2 453.9,296.1 453.9,296.0 454.1,295.9 454.1,295.9 454.3,295.7 454.3,295.7 454.4,295.6 454.4,295.6 454.6,295.5 454.6,295.4 454.7,295.3 454.8,295.3 454.9,295.2 455.0,295.1 455.0,295.1 455.2,295.0 455.2,294.9 455.4,294.8 455.4,294.8 455.5,294.7 455.5,294.7 455.7,294.6 455.7,294.5 455.8,294.4 455.9,294.4 456.0,294.3 456.1,294.3 456.1,294.2 456.3,294.1 456.3,294.1 456.4,294.0 456.5,294.0 456.6,293.9 456.6,293.9 456.8,293.8 456.8,293.8 456.9,293.7 457.0,293.7 457.1,293.6 457.2,293.6 457.3,293.5 457.4,293.5 457.4,293.4 457.5,293.4 457.6,293.3 457.7,293.3 457.7,293.3 457.9,293.2 457.9,293.2 458.0,293.1 458.1,293.1 458.2,293.1 458.3,293.0 458.4,293.0 458.5,293.0 458.5,292.9 458.6,292.9 458.7,292.9 458.8,292.8 458.8,292.8 459.0,292.8 459.0,292.8 459.1,292.8 459.2,292.8 459.4,292.7 459.6,292.7 459.7,292.7 459.9,292.7 460.1,292.7 460.3,292.7 460.5,292.7 460.7,292.7 460.8,292.7 461.0,292.7 461.2,292.7 461.4,292.7 461.6,292.7 461.8,292.7 461.9,292.7 462.1,292.7 462.3,292.7 462.5,292.7 462.7,292.7 462.8,292.7 463.0,292.7 463.2,292.7 463.4,292.7 463.6,292.7 463.8,292.7 463.9,292.7 464.1,292.7 464.3,292.7 464.5,292.7 464.7,292.7 464.9,292.7 465.0,292.7 465.2,292.7 465.4,292.7 465.6,292.7 465.8,292.7 466.0,292.7 466.1,292.7 466.3,292.7 466.5,292.7 466.7,292.7 466.9,292.7 467.1,292.7 467.2,292.7 467.4,292.7 467.6,292.7 467.8,292.7 468.0,292.7 468.2,292.7 468.3,292.7 468.5,292.7 468.7,292.7 468.9,292.7 469.1,292.7 469.2,292.7 469.4,292.7 469.6,292.7 469.8,292.7 470.0,292.7 470.2,292.7 470.3,292.7 470.5,292.7 470.7,292.7 470.9,292.7 471.1,292.7 471.3,292.7 471.4,292.7 471.6,292.7 471.8,292.7 472.0,292.7 472.2,292.7 472.4,292.7 472.5,292.7 472.7,292.7 472.9,292.7 473.1,292.7 473.3,292.7 473.5,292.7 473.6,292.7 473.8,292.7 474.0,292.7 474.2,292.7 474.4,292.7 474.6,292.7 474.7,292.7 474.9,293.2 475.1,293.7 475.3,294.1 475.5,294.4 475.6,294.6 475.8,294.8 476.0,294.9 476.2,295.0 476.4,295.1 476.6,295.1 476.7,295.1 476.9,295.1 477.1,295.0 477.3,294.9 477.5,294.8 477.7,294.6 477.8,294.4 478.0,294.1 478.2,293.8 478.4,293.3 478.6,292.7 478.8,292.7 478.9,292.7 479.1,292.7 479.3,292.7 479.5,292.7 479.7,292.7 479.9,292.7 480.0,292.7 480.2,292.7 480.4,292.7 480.6,292.7 480.8,292.7 481.0,292.7 481.1,292.7 481.3,292.7 481.5,292.7 481.7,292.7 481.9,292.7 482.0,292.7 482.2,292.7 482.4,292.7 482.6,292.7 482.8,292.7 483.0,292.7 483.1,292.7 483.3,292.7 483.5,292.7 483.7,292.7 483.9,292.7 484.1,292.7 484.2,292.7 484.4,292.7 484.6,292.7 484.8,292.7 485.0,292.7 485.2,292.7 485.3,292.7 485.5,292.7 485.7,292.7 485.9,292.7 486.1,292.7 486.3,292.7 486.4,292.7 486.6,292.7 486.8,292.7 487.0,292.7 487.2,292.7 487.3,292.7 487.5,292.7 487.7,292.7 487.9,292.7 488.1,292.7 488.3,292.7 488.4,292.7 488.6,292.7 488.8,292.7 489.0,292.7 489.2,292.7 489.4,292.7 489.5,292.7 489.7,292.7 489.9,292.7 490.1,292.7 490.3,292.7 490.5,292.7 490.6,292.7 490.8,292.7 491.0,292.7 491.2,292.7 491.4,292.7 491.6,292.7 491.7,292.7 491.9,292.7 492.1,292.7 492.3,292.7 492.5,292.7 492.7,292.7 492.8,292.7 493.0,292.7 493.2,292.7 493.4,292.7 493.6,292.7 493.7,292.7 493.9,292.7 494.1,292.7 494.3,292.7 494.5,292.7 494.7,292.7 494.8,292.7 495.0,297.6 495.2,297.6 495.4,297.6 495.6,297.6 495.8,297.6 495.9,297.6 496.1,297.6 496.3,297.6 496.5,297.6 496.7,297.6 496.9,297.6 497.0,297.6 497.2,297.6 497.4,297.6 497.6,297.6 497.8,297.6 498.0,297.6 498.1,297.6 498.3,306.0 498.5,306.0 498.7,306.0 498.9,306.0 499.1,306.0 499.2,306.0 499.4,306.0 499.6,306.0 499.8,306.0 500.0,306.0 500.1,306.0 500.3,306.0 500.5,306.0 500.7,306.0 500.9,306.0 501.0,306.0 501.1,306.0 501.1,306.0 501.2,314.2 501.3,343.5 501.4,409.6 501.4,412.7 501.6,437.8 501.6,439.0 501.8,447.0 501.8,448.2 501.9,450.5 502.0,451.2 502.1,452.0 502.2,452.4 502.2,452.7 502.3,453.0 502.4,453.1 502.5,453.3 502.5,453.4 502.7,453.6 502.7,453.6 502.9,453.8 502.9,453.8 503.0,454.0 503.1,454.0 503.2,454.2 503.3,454.2 503.3,454.3 503.4,454.4 503.5,454.4 503.6,454.5 503.6,454.5 503.8,454.6 503.8,454.7 504.0,454.7 504.0,454.8 504.1,454.8 504.2,454.9 504.3,454.9 504.4,454.9 504.4,455.0 504.5,455.0 504.6,455.0 504.7,455.1 504.8,455.1 504.9,455.2 504.9,455.2 505.1,455.2 505.1,455.2 505.2,455.2 505.3,455.3 505.4,455.3 505.5,455.3 505.5,455.3 505.6,455.3 505.7,455.3 505.8,455.4 505.9,455.4 506.0,455.4 506.0,455.4 506.2,455.4 506.2,455.4 506.3,455.4 506.4,455.4 506.5,455.5 506.5,455.5 506.6,455.5 506.7,455.5 506.8,455.5 506.9,455.5 507.0,455.5 507.1,455.5 507.1,455.5 507.3,455.5 507.3,455.5 507.4,455.5 507.5,455.5 507.6,455.5 507.6,455.6 507.7,455.6 507.8,455.6 507.9,455.6 508.0,455.6 508.1,455.6 508.2,455.6 508.2,455.6 508.4,455.6 508.4,455.6 508.5,455.6 508.6,455.6 508.7,455.6 508.7,455.6 508.8,455.6 508.9,455.6 509.0,455.6 509.1,455.6 509.2,455.6 509.3,455.6 509.3,455.6 509.5,455.6 509.5,455.6 509.6,455.6 509.7,455.6 509.8,455.6 509.8,455.6 510.0,455.6 510.0,455.6 510.1,455.6 510.2,455.6 510.3,455.6 510.4,455.6 510.4,455.6 510.6,455.6 510.6,455.6 510.7,455.6 510.8,455.6 510.9,455.6 510.9,455.6 511.1,455.6 511.1,455.6 511.2,455.6 511.3,455.6 511.4,455.6 511.5,455.6 511.5,455.6 511.7,455.6 511.7,455.6 511.8,455.6 511.9,455.6 512.0,455.6 512.0,455.6 512.2,455.6 512.2,455.6 512.3,455.6 512.4,455.6 512.5,455.6 512.6,455.6 512.6,455.6 512.8,455.6 512.8,455.6 512.9,455.6 512.9,455.6 513.1,455.6 513.1,455.6 513.3,455.6 513.3,455.6 513.4,455.6 513.5,455.6 513.6,455.6 513.7,455.6 513.7,455.6 513.9,455.6 513.9,455.6 514.0,455.6 514.0,455.6 514.2,455.6 514.2,455.6 514.4,455.6 514.4,455.6 514.5,455.6 514.6,455.6 514.7,455.6 514.8,455.6 514.8,455.6 515.0,455.6 515.0,455.6 515.1,455.6 515.2,455.6 515.3,455.6 515.3,455.6 515.5,455.6 515.5,455.6 515.6,455.6 515.7,455.6 515.8,455.6 515.9,455.6 515.9,455.6 516.1,455.6 516.1,455.6 516.2,455.6 516.3,455.6 516.4,455.6 516.4,455.6 516.6,455.6 516.6,455.6 516.8,455.6 517.0,455.6 517.2,455.6 517.3,455.6 517.5,455.6 517.7,455.6 517.9,455.6 518.1,455.6 518.3,455.6 518.4,455.6 518.6,455.6 518.8,455.6 519.0,455.6 519.2,455.6 519.3,455.6 519.5,455.6 519.7,455.6 519.9,455.6 520.1,455.6 520.3,455.6 520.4,455.6 520.6,455.6 520.8,455.6 521.0,455.6 521.2,455.6 521.4,455.6 521.5,455.6 521.7,455.6 521.9,455.6 522.1,455.6 522.3,455.6 522.5,455.6 522.6,455.6 522.8,455.6 523.0,455.6 523.2,455.6 523.4,455.6 523.6,455.6 523.7,455.6 523.9,455.6 524.1,455.6 524.3,455.6 524.5,455.6 524.7,455.6 524.8,455.6 525.0,455.6 525.2,455.6 525.4,455.6 525.6,455.6 525.7,455.6 525.8,455.6 525.9,455.6 525.9,455.6 526.0,455.6 526.1,452.5 526.1,451.6 526.1,451.4 526.2,447.2 526.3,444.5 526.3,443.3 526.3,442.5 526.4,439.5 526.4,437.2 526.4,435.8 526.5,434.0 526.5,432.1 526.6,429.9 526.6,428.3 526.7,425.6 526.7,424.6 526.7,422.7 526.8,420.9 526.8,417.3 526.8,417.3 526.9,415.6 526.9,413.6 527.0,410.0 527.0,409.2 527.0,408.6 527.1,406.5 527.2,403.0 527.2,401.7 527.2,401.2 527.3,399.5 527.3,396.1 527.4,395.0 527.4,393.5 527.4,392.7 527.5,389.5 527.5,388.6 527.6,386.2 527.6,386.2 527.7,383.1 527.7,382.5 527.7,380.0 527.8,379.2 527.8,377.0 527.8,376.6 527.9,374.1 527.9,372.6 528.0,371.3 528.0,371.1 528.1,368.6 528.1,366.5 528.1,366.0 528.1,365.9 528.2,363.5 528.3,361.1 528.3,361.1 528.3,361.0 528.4,358.8 528.5,356.7 528.5,356.6 528.5,355.9 528.5,354.3 528.6,352.4 528.6,352.1 528.7,350.9 528.7,350.0 528.8,348.2 528.8,347.9 528.9,346.2 528.9,345.8 528.9,344.2 529.0,343.8 529.0,341.9 529.0,341.7 529.1,340.5 529.1,340.0 529.2,338.1 529.2,337.5 529.2,336.9 529.3,336.4 529.4,334.7 529.4,333.7 529.4,333.7 529.4,333.1 529.5,331.6 529.6,330.8 529.6,330.4 529.6,330.2 529.7,328.9 529.7,328.2 529.8,327.6 529.8,327.5 529.8,326.5 529.9,326.0 529.9,325.5 530.0,325.1 530.0,324.5 530.0,324.1 530.1,323.6 530.1,323.0 530.2,322.7 530.2,322.4 530.2,321.8 530.3,321.1 530.3,321.0 530.4,320.7 530.4,320.2 530.5,319.4 530.5,319.3 530.5,319.2 530.6,318.7 530.7,317.9 530.7,317.8 530.7,317.7 530.7,317.3 530.8,316.6 530.8,316.5 530.9,316.2 530.9,316.0 531.0,315.3 531.0,315.3 531.0,314.8 531.1,314.7 531.1,314.2 531.1,314.1 531.2,313.6 531.2,313.5 531.3,313.1 531.3,313.1 531.4,312.5 531.4,312.3 531.5,312.0 531.5,312.0 531.5,311.5 531.6,311.1 531.6,311.1 531.6,311.0 531.7,310.5 531.8,310.1 531.8,310.0 531.8,310.0 531.9,309.6 531.9,309.2 531.9,309.1 532.0,309.0 532.0,308.7 532.1,308.3 532.1,308.2 532.1,308.0 532.2,307.8 532.2,307.5 532.3,307.4 532.3,307.1 532.4,307.0 532.4,306.7 532.4,306.6 532.5,306.2 532.6,306.0 532.7,305.4 532.7,305.3 532.9,304.7 532.9,304.6 533.0,304.0 533.1,303.9 533.2,303.5 533.2,303.3 533.3,302.9 533.4,302.6 533.5,302.4 533.6,302.0 533.7,301.8 533.8,301.4 533.8,301.3 534.0,300.8 534.0,300.8 534.1,300.3 534.2,300.2 534.3,299.8 534.3,299.7 534.4,299.4 534.5,299.2 534.6,299.0 534.7,298.7 534.8,298.6 534.9,298.3 534.9,298.2 535.1,297.9 535.1,297.9 535.2,297.6 535.3,297.5 535.4,297.3 535.4,297.2 535.6,297.1 535.6,297.0 535.7,296.9 535.8,296.7 535.9,296.7 536.0,296.5 536.0,296.5 536.2,296.3 536.2,296.3 536.3,296.2 536.4,296.1 536.5,296.0 536.5,296.0 536.7,295.8 536.7,295.8 536.8,295.7 536.9,295.6 537.0,295.6 537.1,295.5 537.1,295.4 537.3,295.3 537.3,295.3 537.4,295.2 537.4,295.2 537.6,295.1 537.6,295.1 537.8,295.0 537.8,294.9 537.9,294.9 538.0,294.8 538.1,294.8 538.2,294.8 538.2,294.7 538.4,294.7 538.4,294.7 538.5,294.6 538.5,294.6 538.7,294.6 538.7,294.5 538.9,294.5 538.9,294.5 539.0,294.5 539.1,294.5 539.2,294.4 539.3,294.4 539.3,294.4 539.5,294.4 539.5,294.4 539.6,294.3 539.7,294.3 539.8,294.3 539.8,294.3 540.0,294.3 540.0,294.3 540.1,294.2 540.2,294.2 540.3,294.2 540.4,294.2 540.4,294.2 540.6,294.2 540.6,294.2 540.7,294.1 540.8,294.1 540.9,294.1 540.9,294.1 541.1,294.1 541.1,294.1 541.2,294.0 541.3,294.0 541.4,294.0 541.5,294.0 541.7,294.0 541.8,294.0 542.0,293.9 542.2,293.9 542.4,293.9 542.6,293.9 542.8,293.8 542.9,293.8 543.1,293.8 543.3,293.8 543.5,293.8 543.7,293.8 543.8,293.8 544.0,293.7 544.2,293.7 544.4,293.7 544.6,293.7 544.8,293.7 544.9,293.7 545.1,293.7 545.3,293.7 545.5,293.7 545.7,293.7 545.9,293.7 546.0,293.7 546.2,293.7 546.4,293.7 546.6,293.7 546.8,293.7 547.0,293.7 547.0,293.7 547.1,293.7 547.2,293.7 547.3,340.6 547.3,343.4 547.5,411.0 547.5,415.9 547.6,435.4 547.7,439.1 547.8,444.5 547.9,446.4 548.0,447.9 548.1,448.9 548.1,449.3 548.2,449.9 548.3,450.0 548.4,450.4 548.4,450.4 548.6,450.7 548.6,450.8 548.7,451.0 548.8,451.0 548.9,451.2 549.0,451.2 549.1,451.3 549.2,451.4 549.2,451.5 549.3,451.6 549.4,451.7 549.5,451.8 549.5,451.8 549.7,451.9 549.7,451.9 549.8,452.0 549.9,452.0 550.0,452.1 550.1,452.1 550.2,452.2 550.2,452.2 550.3,452.3 550.4,452.3 550.5,452.3 550.6,452.4 550.6,452.4 550.8,452.5 550.8,452.5 551.0,452.5 551.0,452.5 551.1,452.6 551.2,452.6 551.3,452.6 551.3,452.6 551.4,452.6 551.5,452.7 551.6,452.7 551.7,452.7 551.7,452.7 551.9,452.7 551.9,452.7 552.1,452.8 552.1,452.8 552.2,452.8 552.3,452.8 552.4,452.8 552.4,452.8 552.5,452.8 552.6,452.8 552.7,452.8 552.8,452.8 552.8,452.9 553.0,452.9 553.0,452.9 553.2,452.9 553.2,452.9 553.3,452.9 553.4,452.9 553.5,452.9 553.5,452.9 553.6,452.9 553.7,452.9 553.8,452.9 553.9,452.9 553.9,452.9 554.1,452.9 554.1,452.9 554.3,452.9 554.3,452.9 554.4,452.9 554.5,452.9 554.6,452.9 554.6,452.9 554.7,452.9 554.8,453.0 554.9,453.0 555.0,453.0 555.0,453.0 555.2,453.0 555.2,453.0 555.4,453.0 555.4,453.0 555.5,453.0 555.6,453.0 555.7,453.0 555.7,453.0 555.8,453.0 555.9,453.0 556.0,453.0 556.1,453.0 556.2,453.0 556.3,453.0 556.3,453.0 556.5,453.0 556.5,453.0 556.6,453.0 556.6,453.0 556.8,453.0 556.8,453.0 556.9,453.0 557.0,453.0 557.1,453.0 557.2,453.0 557.3,453.0 557.4,453.0 557.4,453.0 557.6,453.0 557.6,453.0 557.7,453.0 557.7,453.0 557.9,453.0 557.9,453.0 558.0,453.0 558.1,453.0 558.2,453.0 558.3,453.0 558.4,453.0 558.5,453.0 558.5,453.0 558.7,453.0 558.7,453.0 558.8,453.0 558.8,453.0 559.0,453.0 559.0,453.0 559.1,453.0 559.2,453.0 559.3,453.0 559.4,453.0 559.5,453.0 559.6,453.0 559.6,453.0 559.8,453.0 559.8,453.0 559.9,453.0 559.9,453.0 560.1,453.0 560.1,453.0 560.3,453.0 560.3,453.0 560.4,453.0 560.5,453.0 560.6,453.0 560.7,453.0 560.7,453.0 560.9,453.0 560.9,453.0 561.0,453.0 561.0,453.0 561.2,453.0 561.2,453.0 561.4,453.0 561.4,453.0 561.5,453.0 561.6,453.0 561.7,453.0 561.8,453.0 561.8,453.0 562.0,453.0 562.0,453.0 562.1,453.0 562.1,453.0 562.3,453.0 562.3,453.0 562.5,453.0 562.5,453.0 562.6,453.0 562.7,453.0 562.9,453.0 563.0,453.0 563.2,453.0 563.4,453.0 563.6,453.0 563.8,453.0 564.0,453.0 564.1,453.0 564.3,453.0 564.5,453.0 564.7,453.0 564.9,453.0 565.1,453.0 565.2,453.0 565.4,453.0 565.6,453.0 565.8,453.0 566.0,453.0 566.2,453.0 566.3,453.0 566.5,453.0 566.7,453.0 566.9,453.0 567.1,453.0 567.3,453.0 567.4,453.0 567.6,453.0 567.8,453.0 568.0,453.0 568.2,453.0 568.3,453.0 568.5,453.0 568.7,453.0 568.9,453.0 569.1,453.0 569.3,453.0 569.4,453.0 569.6,453.0 569.8,453.0 570.0,453.0 570.2,453.0 570.4,453.0 570.5,453.0 570.7,453.0 570.9,453.0 571.1,453.0 571.3,453.0 571.5,453.0 571.6,453.0 571.8,453.0 572.0,453.0 572.2,453.0 572.4,453.0 572.6,453.0 572.7,453.0 572.9,453.0 573.1,453.0 573.3,453.0 573.5,453.0 573.7,453.0 573.8,453.0 574.0,453.0 574.2,453.0 574.4,453.0 574.6,453.0 574.7,453.0 574.9,453.0 575.1,453.0 575.3,453.0 575.5,453.0 575.7,453.0 575.8,453.0 576.0,453.0 576.2,453.0 576.4,453.0 576.6,453.0 576.8,453.0 576.9,453.0 577.1,453.0 577.3,453.0 577.5,453.0 577.7,453.0 577.9,453.0 578.0,453.0 578.2,453.0 578.4,453.0 578.6,453.0 578.8,453.0 579.0,453.0 579.1,453.0 579.3,453.0 579.5,453.0 579.7,453.0 579.9,453.0 580.1,453.0 580.2,453.0 580.4,453.0 580.6,453.0 580.8,453.0 581.0,453.0 581.1,453.0 581.3,453.0 581.5,453.0 581.7,453.0 581.9,453.0 582.1,453.0 582.2,453.0 582.4,453.0 582.6,453.0 582.8,453.0 583.0,453.0 583.2,453.0 583.3,453.0 583.5,453.0 583.7,453.0 583.9,453.0 584.1,453.0 584.3,453.0 584.4,453.0 584.6,453.0 584.8,453.0 585.0,453.0 585.2,453.0 585.4,453.0 585.5,453.0 585.5,453.0 585.7,453.0 585.7,453.0 585.8,453.0 585.8,450.0 585.8,448.8 585.9,446.0 585.9,444.8 586.0,442.1 586.0,440.9 586.1,437.3 586.1,437.2 586.1,434.9 586.2,433.5 586.3,429.8 586.3,429.0 586.3,427.7 586.3,426.2 586.4,422.5 586.5,420.8 586.5,420.7 586.5,418.9 586.6,415.3 586.6,413.7 586.6,412.7 586.7,411.8 586.7,408.2 586.8,406.8 586.8,404.8 586.8,404.7 586.9,401.3 586.9,400.1 587.0,397.9 587.0,397.0 587.1,394.6 587.1,393.5 587.1,391.3 587.2,389.6 587.2,388.0 587.2,387.2 587.3,384.9 587.4,382.5 587.4,381.8 587.4,381.2 587.5,378.8 587.5,375.8 587.5,375.8 587.6,375.4 587.6,373.0 587.7,370.2 587.7,370.0 587.7,369.5 587.8,367.6 587.9,365.0 587.9,364.9 587.9,363.7 588.0,362.6 588.0,360.2 588.0,360.2 588.1,358.4 588.1,358.0 588.2,355.9 588.2,355.8 588.3,353.6 588.3,353.4 588.3,351.7 588.4,351.4 588.4,349.3 588.5,348.6 588.5,347.6 588.5,347.2 588.6,345.2 588.6,344.0 588.7,343.7 588.7,343.2 588.8,341.3 588.8,340.0 588.8,339.7 588.8,339.5 588.9,337.7 589.0,336.5 589.0,335.9 589.0,335.8 589.1,334.3 589.1,333.3 589.2,332.7 589.2,332.2 589.2,331.3 589.3,330.5 589.3,329.9 589.4,329.0 589.4,328.6 589.4,327.9 589.5,327.4 589.6,326.4 589.6,326.3 589.6,325.8 589.7,325.3 589.7,324.3 589.7,324.2 589.8,323.9 589.8,323.4 589.9,322.5 589.9,322.2 589.9,322.1 590.0,321.6 590.1,320.8 590.1,320.6 590.1,320.3 590.1,320.0 590.2,319.3 590.2,319.1 590.3,318.6 590.3,318.6 590.4,317.9 590.4,317.7 590.5,317.2 590.5,317.1 590.5,316.5 590.6,316.4 590.6,315.9 590.7,315.6 590.7,315.3 590.7,315.2 590.8,314.7 590.8,314.3 590.9,314.1 590.9,314.1 590.9,313.6 591.0,313.1 591.0,313.1 591.0,313.1 591.1,312.5 591.2,312.1 591.2,312.0 591.2,311.9 591.3,311.5 591.3,311.1 591.4,311.0 591.4,310.8 591.4,310.5 591.5,310.2 591.5,310.1 591.6,309.7 591.6,309.6 591.7,309.3 591.7,309.2 591.8,308.7 591.8,308.7 591.8,308.4 591.8,308.3 591.9,307.9 591.9,307.8 592.0,307.6 592.0,307.5 592.1,307.1 592.1,306.9 592.1,306.9 592.2,306.7 592.3,306.1 592.3,306.1 592.4,305.5 592.5,305.3 592.6,304.8 592.7,304.5 592.8,304.2 592.9,303.9 592.9,303.6 593.0,303.2 593.1,303.1 593.2,302.6 593.2,302.6 593.4,302.0 593.4,302.0 593.5,301.5 593.6,301.4 593.7,301.0 593.8,300.8 593.9,300.5 593.9,300.3 594.0,300.1 594.1,299.8 594.2,299.6 594.3,299.3 594.3,299.2 594.5,298.8 594.5,298.8 594.7,298.5 594.7,298.4 594.8,298.1 594.9,298.0 595.0,297.8 595.0,297.7 595.1,297.6 595.2,297.4 595.3,297.3 595.4,297.2 595.4,297.1 595.6,297.0 595.6,297.0 595.8,296.9 595.8,296.9 595.9,296.9 596.0,296.9 596.1,296.9 596.1,296.9 596.2,296.9 596.3,296.9 596.4,296.9 596.5,296.9 596.5,296.9 596.7,296.9 596.7,296.9 596.9,296.9 596.9,296.9 597.0,296.9 597.1,296.9 597.2,296.9 597.2,296.9 597.3,296.9 597.4,296.9 597.5,296.9 597.6,296.9 597.6,296.9 597.8,296.9 597.8,296.9 598.0,296.9 598.0,296.9 598.1,296.8 598.2,296.7 598.3,296.7 598.3,296.6 598.4,296.6 598.5,296.5 598.6,296.5 598.7,296.4 598.7,296.4 598.9,296.3 598.9,296.3 599.1,296.2 599.1,296.2 599.2,296.1 599.3,296.0 599.4,296.0 599.4,295.9 599.5,295.9 599.6,295.8 599.7,295.8 599.8,295.7 599.9,295.7 600.0,295.6 600.0,295.6 600.2,295.5 600.2,295.5 600.3,295.4 600.3,295.4 600.5,295.3 600.5,295.2 600.6,295.2 600.7,295.1 600.8,295.1 600.9,295.0 601.0,295.0 601.1,294.9 601.1,294.9 601.3,294.8 601.4,294.7 601.6,294.5 601.8,294.4 602.0,294.3 602.2,294.2 602.4,294.2 602.5,294.2 602.7,294.2 602.9,294.2 603.1,294.1 603.3,294.1 603.5,294.1 603.6,294.1 603.8,294.1 604.0,294.1 604.2,294.1 604.4,294.1 604.6,294.1 604.7,294.1 604.9,294.1 605.1,294.1 605.3,294.1 605.5,294.1 605.7,294.1 605.8,294.1 606.0,294.1 606.2,294.1 606.4,294.1 606.6,294.1 606.7,294.1 606.9,294.1 607.1,294.1 607.3,294.1 607.5,294.1 607.7,294.1 607.8,294.1 608.0,294.1 608.2,294.1 608.4,294.1 608.6,294.1 608.8,294.1 608.9,294.1 609.1,294.1 609.3,294.1 609.5,294.1 609.7,294.1 609.9,294.1 610.0,294.1 610.2,294.1 610.4,294.1 610.6,294.1 610.8,294.1 611.0,294.1 611.1,294.1 611.3,294.1 611.5,294.1 611.7,294.1 611.9,294.1 612.0,294.1 612.2,294.1 612.4,294.1 612.6,294.1 612.8,294.1 613.0,294.1 613.1,294.1 613.3,294.1 613.5,294.1 613.7,294.1 613.9,294.1 614.1,294.1 614.2,294.1 614.4,294.1 614.6,294.1 614.8,294.1 615.0,294.1 615.2,294.1 615.3,294.1 615.5,294.1 615.7,294.1 615.9,294.1 616.1,294.1 616.3,294.1 616.4,294.1 616.6,294.1 616.8,294.1 617.0,294.1 617.2,294.1 617.4,294.1 617.5,294.1 617.7,294.1 617.9,294.1 618.1,294.1 618.3,294.1 618.4,294.1 618.6,294.1 618.8,294.1 619.0,294.1 619.2,294.1 619.4,294.1 619.5,294.1 619.7,294.1 619.9,294.1 620.1,294.1 620.3,294.1 620.5,294.1 620.6,294.1 620.8,294.1 621.0,294.1 621.2,294.1 621.4,294.1 621.6,294.1 621.7,294.1 621.9,294.1 622.1,294.1 622.3,294.1 622.5,294.1 622.7,294.1 622.8,294.1 623.0,294.1 623.2,294.1 623.4,294.1 623.6,294.1 623.8,294.1 623.9,294.1 624.1,294.1 624.3,294.1 624.5,294.1 624.7,294.1 624.8,294.1 625.0,294.1 625.2,294.1 625.4,294.1 625.6,294.1 625.8,294.1 625.9,294.1 626.1,294.1 626.3,294.1 626.5,294.1 626.7,294.1 626.9,294.1 627.0,294.1 627.2,294.1 627.4,294.1 627.6,294.1 627.8,294.1 628.0,294.1 628.1,294.1 628.3,294.1 628.5,294.1 628.7,294.1 628.9,294.1 629.1,294.1 629.2,294.1 629.4,294.1 629.6,294.1 629.8,294.1 630.0,294.1 630.2,294.1 630.3,294.1 630.5,294.1 630.7,294.1 630.9,294.1 631.1,294.1 631.2,294.1 631.4,294.1 631.6,294.1 631.8,294.1 632.0,294.1 632.2,294.1 632.3,294.1 632.5,294.1 632.7,294.1 632.9,294.1 633.1,294.1 633.3,294.1 633.4,294.1 633.6,294.1 633.8,294.1 634.0,294.1 634.2,294.1 634.4,294.1 634.5,294.1 634.7,294.1 634.9,294.1 635.1,294.1 635.3,294.1 635.5,294.1 635.6,294.1 635.6,294.1 635.8,294.1 635.8,294.1 636.0,343.9 636.0,368.6 636.1,411.7 636.2,425.1 636.3,436.3 636.4,442.6 636.4,445.3 636.6,448.2 636.6,448.8 636.7,450.1 636.7,450.2 636.9,450.9 636.9,450.9 637.1,451.3 637.1,451.4 637.2,451.6 637.3,451.7 637.4,451.8 637.5,452.0 637.5,452.0 637.6,452.2 637.7,452.2 637.8,452.4 637.9,452.4 638.0,452.5 638.0,452.5 638.2,452.7 638.2,452.7 638.3,452.8 638.4,452.8 638.5,452.9 638.6,452.9 638.6,453.0 638.7,453.0 638.8,453.1 638.9,453.1 639.0,453.1 639.1,453.2 639.1,453.2 639.3,453.3 639.3,453.3 639.4,453.3 639.5,453.4 639.6,453.4 639.7,453.4 639.7,453.4 639.8,453.5 639.9,453.5 640.0,453.5 640.1,453.5 640.2,453.6 640.2,453.6 640.4,453.6 640.4,453.6 640.5,453.6 640.6,453.6 640.7,453.6 640.8,453.6 640.8,453.7 640.9,453.7 641.0,453.7 641.1,453.7 641.2,453.7 641.3,453.7 641.3,453.7 641.5,453.7 641.5,453.7 641.6,453.7 641.7,453.7 641.8,453.8 641.9,453.8 642.0,453.8 642.0,453.8 642.1,453.8 642.2,453.8 642.3,453.8 642.4,453.8 642.4,453.8 642.6,453.8 642.6,453.8 642.7,453.8 642.8,453.8 642.9,453.8 643.0,453.8 643.1,453.8 643.1,453.8 643.2,453.8 643.3,453.8 643.4,453.8 643.5,453.8 643.5,453.8 643.7,453.8 643.7,453.8 643.8,453.8 643.9,453.8 644.0,453.8 644.0,453.8 644.2,453.8 644.2,453.8 644.3,453.8 644.4,453.9 644.5,453.9 644.6,453.9 644.6,453.9 644.8,453.9 644.8,453.9 644.9,453.9 645.0,453.9 645.1,453.9 645.1,453.9 645.3,453.9 645.3,453.9 645.4,453.9 645.5,453.9 645.6,453.9 645.7,453.9 645.7,453.9 645.9,453.9 645.9,453.9 646.0,453.9 646.1,453.9 646.2,453.9 646.2,453.9 646.4,453.9 646.4,453.9 646.5,453.9 646.6,453.9 646.7,453.9 646.8,453.9 646.8,453.9 647.0,453.9 647.0,453.9 647.2,453.9 647.2,453.9 647.3,453.9 647.3,453.9 647.5,453.9 647.5,453.9 647.6,453.9 647.7,453.9 647.8,453.9 647.9,453.9 647.9,453.9 648.1,453.9 648.1,453.9 648.3,453.9 648.3,453.9 648.4,453.9 648.4,453.9 648.6,453.9 648.6,453.9 648.7,453.9 648.8,453.9 648.9,453.9 649.0,453.9 649.0,453.9 649.2,453.9 649.2,453.9 649.4,453.9 649.4,453.9 649.5,453.9 649.5,453.9 649.7,453.9 649.7,453.9 649.8,453.9 649.9,453.9 650.0,453.9 650.1,453.9 650.1,453.9 650.3,453.9 650.3,453.9 650.4,453.9 650.5,453.9 650.6,453.9 650.6,453.9 650.8,453.9 650.8,453.9 650.9,453.9 651.0,453.9 651.1,453.9 651.2,453.9 651.3,453.9 651.4,453.9 651.5,453.9 651.7,453.9 651.9,453.9 652.1,453.9 652.3,453.9 652.5,453.9 652.6,453.9 652.8,453.9 653.0,453.9 653.2,453.9 653.4,453.9 653.6,453.9 653.7,453.9 653.9,453.9 654.1,453.9 654.3,453.9 654.5,453.9 654.7,453.9 654.8,453.9 655.0,453.9 655.2,453.9 655.4,453.9 655.6,453.9 655.7,453.9 655.9,453.9 656.1,453.9 656.3,453.9 656.5,453.9 656.7,453.9 656.8,453.9 657.0,453.9 657.2,453.9 657.4,453.9 657.6,453.9 657.8,453.9 657.9,453.9 658.1,453.9 658.3,453.9 658.5,453.9 658.7,453.9 658.9,453.9 659.0,453.9 659.2,453.9 659.4,453.9 659.6,453.9 659.8,453.9 660.0,453.9 660.1,453.9 660.3,453.9 660.5,453.9 660.7,453.9 660.9,453.9 661.1,453.9 661.2,453.9 661.4,453.9 661.6,453.9 661.8,453.9 662.0,453.9 662.1,453.9 662.3,453.9 662.5,453.9 662.7,453.9 662.9,453.9 663.1,453.9 663.2,453.9 663.4,453.9 663.6,453.9 663.8,453.9 664.0,453.9 664.2,453.9 664.3,453.9 664.5,453.9 664.7,453.9 664.9,453.9 665.1,453.9 665.3,453.9 665.4,453.9 665.6,453.9 665.8,453.9 666.0,453.9 666.2,453.9 666.4,453.9 666.5,453.9 666.7,453.9 666.9,453.9 667.1,453.9 667.3,453.9 667.4,453.9 667.5,453.9 667.5,453.9 667.6,453.9 667.6,453.2 667.7,450.8 667.7,449.7 667.8,445.6 667.8,443.9 667.8,442.9 667.9,441.7 667.9,438.0 668.0,435.7 668.0,435.5 668.0,434.3 668.1,430.6 668.2,428.5 668.2,427.1 668.2,426.9 668.3,423.3 668.3,421.4 668.3,419.6 668.4,418.9 668.4,416.0 668.5,414.3 668.5,412.4 668.5,410.8 668.6,408.9 668.6,407.4 668.7,405.4 668.7,402.9 668.8,401.9 668.8,400.6 668.8,398.5 668.9,395.2 668.9,395.1 668.9,394.1 669.0,391.8 669.1,388.6 669.1,387.8 669.1,387.7 669.2,385.4 669.2,382.3 669.3,381.6 669.3,380.8 669.3,379.2 669.4,376.3 669.4,375.9 669.5,374.1 669.5,373.4 669.6,370.7 669.6,370.4 669.6,368.0 669.6,368.0 669.7,365.4 669.7,365.3 669.8,363.0 669.8,362.3 669.9,360.6 669.9,360.6 670.0,358.3 670.0,357.1 670.0,356.2 670.0,356.1 670.1,353.9 670.2,352.2 670.2,352.0 670.2,351.7 670.3,349.6 670.4,347.9 670.4,347.5 670.4,347.4 670.5,345.5 670.5,343.9 670.5,343.5 670.6,342.9 670.6,341.6 670.7,340.2 670.7,339.7 670.7,338.7 670.8,337.9 670.8,336.7 670.9,336.2 670.9,334.8 670.9,334.5 671.0,333.5 671.0,333.0 671.1,331.5 671.1,331.3 671.1,330.7 671.2,330.1 671.3,328.8 671.3,328.3 671.3,328.1 671.3,327.5 671.4,326.4 671.5,326.0 671.5,325.8 671.5,325.4 671.6,324.5 671.6,324.1 671.7,323.7 671.7,323.5 671.7,322.6 671.8,322.3 671.8,321.8 671.8,321.7 671.9,321.0 671.9,320.7 672.0,320.2 672.0,319.9 672.1,319.4 672.1,319.2 672.2,318.7 672.2,318.2 672.2,318.0 672.3,317.8 672.3,317.3 672.4,316.7 672.4,316.7 672.4,316.6 672.5,316.0 672.6,315.4 672.6,315.4 672.6,315.3 672.6,314.8 672.7,314.3 672.7,314.2 672.8,314.0 672.8,313.7 672.9,313.2 672.9,313.2 672.9,312.8 673.0,312.6 673.0,312.2 673.0,312.1 673.1,311.7 673.1,311.6 673.2,311.2 673.2,311.1 673.3,310.6 673.3,310.5 673.4,310.2 673.4,310.2 673.4,309.7 673.5,309.5 673.5,309.4 673.5,309.3 673.6,308.8 673.7,308.5 673.7,308.5 673.7,308.4 673.8,308.0 673.8,307.7 673.9,307.6 673.9,307.6 673.9,307.2 674.0,306.9 674.0,306.8 674.0,306.7 674.1,306.2 674.2,305.9 674.3,305.5 674.4,305.1" fill="none" stroke="#D95319" stroke-width="2.0" stroke-linejoin="round" /><polyline points="418.6,465.1 418.7,465.1 418.8,465.1 418.8,465.1 419.0,465.1 419.0,465.1 419.1,465.1 419.1,465.1 419.3,465.1 419.3,465.1 419.4,465.1 419.5,465.1 419.6,465.1 419.7,465.1 419.8,465.1 419.9,465.1 419.9,465.1 420.1,465.1 420.1,465.1 420.2,465.1 420.2,465.1 420.4,465.1 420.4,465.1 420.6,465.1 420.6,465.1 420.7,465.1 420.8,465.1 420.9,465.1 421.0,465.1 421.0,465.1 421.2,465.1 421.2,465.1 421.3,465.1 421.3,465.1 421.5,465.1 421.5,465.1 421.7,465.1 421.7,465.1 421.8,465.1 421.9,465.1 422.0,465.1 422.1,465.1 422.1,465.1 422.3,465.1 422.3,465.1 422.4,465.1 422.4,465.1 422.6,465.1 422.6,465.1 422.8,465.1 422.8,465.1 422.9,465.1 423.0,465.1 423.1,465.1 423.2,465.1 423.2,465.1 423.4,465.1 423.4,465.1 423.5,465.1 423.5,465.1 423.7,465.1 423.7,465.1 423.9,465.1 423.9,465.1 424.0,465.1 424.1,465.1 424.2,465.1 424.3,465.1 424.3,465.1 424.5,465.1 424.5,465.1 424.6,465.1 424.6,465.1 424.8,465.1 424.8,465.1 425.0,465.1 425.0,465.1 425.1,465.1 425.2,465.1 425.3,465.1 425.4,465.1 425.4,465.1 425.5,465.1 425.6,465.1 425.7,465.1 425.8,465.1 425.9,465.1 425.9,465.1 426.1,465.1 426.1,465.1 426.2,465.1 426.3,465.1 426.4,465.1 426.5,465.1 426.5,465.1 426.6,465.1 426.7,465.1 426.8,465.1 426.9,465.1 427.0,465.1 427.0,465.1 427.2,465.1 427.2,465.1 427.3,465.1 427.4,465.1 427.5,465.1 427.6,465.1 427.6,465.1 427.7,465.1 427.8,465.1 427.9,465.1 428.0,465.1 428.1,465.1 428.1,465.1 428.3,465.1 428.3,465.1 428.4,465.1 428.5,465.1 428.6,465.1 428.7,465.1 428.7,465.1 428.8,465.1 428.9,465.1 429.0,465.1 429.1,465.1 429.2,465.1 429.2,465.1 429.4,465.1 429.4,465.1 429.5,465.1 429.6,465.1 429.7,465.1 429.8,465.1 429.9,465.1 429.9,465.1 430.0,465.1 430.1,465.1 430.2,465.1 430.3,465.1 430.3,465.1 430.5,465.1 430.5,465.1 430.6,465.1 430.7,465.1 430.8,465.1 430.9,465.1 431.0,465.1 431.0,465.1 431.1,465.1 431.2,465.1 431.3,465.1 431.4,465.1 431.4,465.1 431.6,465.1 431.6,465.1 431.7,465.1 431.8,465.1 431.9,465.1 431.9,465.1 432.1,465.1 432.1,465.1 432.2,465.1 432.3,465.1 432.4,465.1 432.5,465.1 432.5,465.1 432.7,465.1 432.7,465.1 432.8,465.1 432.9,465.1 433.0,465.1 433.0,465.1 433.2,465.1 433.2,465.1 433.3,465.1 433.4,465.1 433.5,465.1 433.6,465.1 433.6,465.1 433.8,465.1 433.8,465.1 433.9,465.1 434.0,465.1 434.1,465.1 434.3,465.1 434.5,465.1 434.7,465.1 434.9,465.1 435.1,465.1 435.2,465.1 435.4,465.1 435.6,465.1 435.8,465.1 436.0,465.1 436.2,465.1 436.3,465.1 436.5,465.1 436.7,465.1 436.9,465.1 437.1,465.1 437.3,465.1 437.4,465.1 437.6,465.1 437.8,465.1 438.0,465.1 438.2,465.1 438.3,465.1 438.5,465.1 438.7,465.1 438.9,465.1 439.1,465.1 439.3,465.1 439.4,465.1 439.6,465.1 439.8,465.1 440.0,465.1 440.2,465.1 440.4,465.1 440.5,465.1 440.7,465.1 440.9,465.1 441.1,465.1 441.3,465.1 441.5,465.1 441.6,465.1 441.8,465.1 442.0,465.1 442.2,465.1 442.4,465.1 442.6,465.1 442.7,465.1 442.9,465.1 443.1,465.1 443.3,465.1 443.5,465.1 443.5,465.1 443.6,465.1 443.7,465.1 443.8,465.1 443.8,464.3 443.9,463.8 443.9,463.7 444.0,462.8 444.0,462.5 444.0,462.7 444.0,462.3 444.1,462.7 444.2,462.6 444.2,462.3 444.2,462.3 444.3,462.4 444.3,462.7 444.4,462.7 444.4,462.8 444.4,462.6 444.5,462.6 444.5,462.8 444.6,463.1 444.6,462.9 444.6,462.9 444.7,462.9 444.7,463.2 444.8,463.1 444.8,463.1 444.8,463.3 444.9,463.3 444.9,463.3 445.0,463.4 445.0,463.5 445.1,463.6 445.1,463.6 445.1,463.5 445.2,463.6 445.3,463.7 445.3,463.8 445.3,463.7 445.3,463.8 445.4,463.9 445.4,463.9 445.5,463.9 445.5,463.8 445.6,464.0 445.6,464.1 445.7,464.0 445.7,464.1 445.7,464.0 445.7,464.2 445.8,464.2 445.8,464.2 445.9,464.2 445.9,464.2 446.0,464.2 446.0,464.2 446.1,464.3 446.1,464.2 446.1,464.3 446.2,464.3 446.2,464.4 446.2,464.4 446.3,464.4 446.4,464.5 446.4,464.4 446.4,464.4 446.5,464.5 446.5,464.4 446.5,464.5 446.6,464.5 446.6,464.5 446.7,464.5 446.7,464.5 446.8,464.6 446.8,464.6 446.9,464.6 446.9,464.6 446.9,464.6 447.0,464.6 447.0,464.7 447.0,464.6 447.1,464.7 447.1,464.7 447.2,464.7 447.2,464.6 447.3,464.7 447.3,464.7 447.3,464.8 447.4,464.7 447.4,464.8 447.5,464.8 447.5,464.8 447.5,464.8 447.6,464.8 447.6,464.8 447.7,464.8 447.7,464.8 447.8,464.9 447.8,464.9 447.8,464.9 447.9,464.9 447.9,464.9 448.0,464.8 448.0,464.9 448.0,464.9 448.1,464.9 448.1,464.9 448.2,464.9 448.2,464.9 448.2,464.9 448.3,464.9 448.3,464.9 448.4,464.9 448.4,464.9 448.4,464.9 448.5,465.0 448.6,464.9 448.6,465.0 448.6,465.0 448.7,464.9 448.7,465.0 448.7,465.0 448.8,465.0 448.8,465.0 448.9,465.0 448.9,465.0 449.0,465.0 449.0,465.0 449.1,465.0 449.1,465.0 449.1,465.0 449.1,465.0 449.2,465.0 449.2,465.0 449.3,465.0 449.3,465.0 449.4,465.0 449.4,465.0 449.5,465.0 449.5,465.0 449.5,465.0 449.5,465.0 449.6,465.0 449.7,465.0 449.7,465.0 449.7,465.0 449.8,465.1 449.8,465.0 449.9,465.1 449.9,465.1 449.9,465.1 450.0,465.1 450.0,465.1 450.0,465.1 450.1,465.1 450.2,465.1 450.2,465.1 450.2,465.1 450.3,465.1 450.4,465.1 450.5,465.1 450.6,465.1 450.6,465.1 450.8,465.1 450.8,465.1 450.9,465.1 451.0,465.1 451.1,465.1 451.1,465.1 451.3,465.1 451.3,465.1 451.4,465.1 451.5,465.1 451.6,465.1 451.7,465.1 451.7,465.1 451.9,465.1 451.9,465.1 452.1,465.1 452.1,465.1 452.2,465.1 452.2,465.1 452.4,465.1 452.4,465.1 452.5,465.1 452.6,465.1 452.7,465.1 452.8,465.1 452.8,465.1 453.0,465.1 453.0,465.1 453.2,465.1 453.2,465.1 453.3,465.1 453.3,465.1 453.5,465.1 453.5,465.1 453.6,465.1 453.7,465.1 453.8,465.1 453.9,465.1 453.9,465.1 454.1,465.1 454.1,465.1 454.3,465.1 454.3,465.1 454.4,465.1 454.4,465.1 454.6,465.1 454.6,465.1 454.7,465.1 454.8,465.1 454.9,465.1 455.0,465.1 455.0,465.1 455.2,465.1 455.2,465.1 455.4,465.1 455.4,465.1 455.5,465.1 455.5,465.1 455.7,465.1 455.7,465.1 455.8,465.1 455.9,465.1 456.0,465.1 456.1,465.1 456.1,465.1 456.3,465.1 456.3,465.1 456.4,465.1 456.5,465.1 456.6,465.1 456.6,465.1 456.8,465.1 456.8,465.1 456.9,465.1 457.0,465.1 457.1,465.1 457.2,465.1 457.3,465.1 457.4,465.1 457.4,465.1 457.5,465.1 457.6,465.1 457.7,465.1 457.7,465.1 457.9,465.1 457.9,465.1 458.0,465.1 458.1,465.1 458.2,465.1 458.3,465.1 458.4,465.1 458.5,465.1 458.5,465.1 458.6,465.1 458.7,465.1 458.8,465.1 458.8,465.1 459.0,465.1 459.0,465.1 459.1,465.1 459.2,465.1 459.4,465.1 459.6,465.1 459.7,465.1 459.9,465.1 460.1,465.1 460.3,465.1 460.5,465.1 460.7,465.1 460.8,465.1 461.0,465.1 461.2,465.1 461.4,465.1 461.6,465.1 461.8,465.1 461.9,465.1 462.1,465.1 462.3,465.1 462.5,465.1 462.7,465.1 462.8,465.1 463.0,465.1 463.2,465.1 463.4,465.1 463.6,465.1 463.8,465.1 463.9,465.1 464.1,465.1 464.3,465.1 464.5,465.1 464.7,465.1 464.9,465.1 465.0,465.1 465.2,465.1 465.4,465.1 465.6,465.1 465.8,465.1 466.0,465.1 466.1,465.1 466.3,465.1 466.5,465.1 466.7,465.1 466.9,465.1 467.1,465.1 467.2,465.1 467.4,465.1 467.6,465.1 467.8,465.1 468.0,465.1 468.2,465.1 468.3,465.1 468.5,465.1 468.7,465.1 468.9,465.1 469.1,465.1 469.2,465.1 469.4,465.1 469.6,465.1 469.8,465.1 470.0,465.1 470.2,465.1 470.3,465.1 470.5,465.1 470.7,465.1 470.9,465.1 471.1,465.1 471.3,465.1 471.4,465.1 471.6,465.1 471.8,465.1 472.0,465.1 472.2,465.1 472.4,465.1 472.5,465.1 472.7,465.1 472.9,465.1 473.1,465.1 473.3,465.1 473.5,465.1 473.6,465.1 473.8,465.1 474.0,465.1 474.2,465.1 474.4,465.1 474.6,465.1 474.7,465.1 474.9,465.1 475.1,465.1 475.3,465.1 475.5,465.1 475.6,465.1 475.8,465.1 476.0,465.1 476.2,465.1 476.4,465.1 476.6,465.1 476.7,465.1 476.9,465.1 477.1,465.1 477.3,465.1 477.5,465.1 477.7,465.1 477.8,465.1 478.0,465.1 478.2,465.1 478.4,465.1 478.6,465.1 478.8,465.1 478.9,465.1 479.1,465.1 479.3,465.1 479.5,465.1 479.7,465.1 479.9,465.1 480.0,465.1 480.2,465.1 480.4,465.1 480.6,465.1 480.8,465.1 481.0,465.1 481.1,465.1 481.3,465.1 481.5,465.1 481.7,465.1 481.9,465.1 482.0,465.1 482.2,465.1 482.4,465.1 482.6,465.1 482.8,465.1 483.0,465.1 483.1,465.1 483.3,465.1 483.5,465.1 483.7,465.1 483.9,465.1 484.1,465.1 484.2,465.1 484.4,465.1 484.6,465.1 484.8,465.1 485.0,465.1 485.2,465.1 485.3,465.1 485.5,465.1 485.7,465.1 485.9,465.1 486.1,465.1 486.3,465.1 486.4,465.1 486.6,465.1 486.8,465.1 487.0,465.1 487.2,465.1 487.3,465.1 487.5,465.1 487.7,465.1 487.9,465.1 488.1,465.1 488.3,465.1 488.4,465.1 488.6,465.1 488.8,465.1 489.0,465.1 489.2,465.1 489.4,465.1 489.5,465.1 489.7,465.1 489.9,465.1 490.1,465.1 490.3,465.1 490.5,465.1 490.6,465.1 490.8,465.1 491.0,465.1 491.2,465.1 491.4,465.1 491.6,465.1 491.7,465.1 491.9,465.1 492.1,465.1 492.3,465.1 492.5,465.1 492.7,465.1 492.8,465.1 493.0,465.1 493.2,465.1 493.4,465.1 493.6,465.1 493.7,465.1 493.9,465.1 494.1,465.1 494.3,465.1 494.5,465.1 494.7,465.1 494.8,465.1 495.0,465.1 495.2,465.1 495.4,465.1 495.6,465.1 495.8,465.1 495.9,465.1 496.1,465.1 496.3,465.1 496.5,465.1 496.7,465.1 496.9,465.1 497.0,465.1 497.2,465.1 497.4,465.1 497.6,465.1 497.8,465.1 498.0,465.1 498.1,465.1 498.3,465.1 498.5,465.1 498.7,465.1 498.9,465.1 499.1,465.1 499.2,465.1 499.4,465.1 499.6,465.1 499.8,465.1 500.0,465.1 500.1,465.1 500.3,465.1 500.5,465.1 500.7,465.1 500.9,465.1 501.0,465.1 501.1,465.1 501.1,465.1 501.2,465.1 501.3,465.1 501.4,465.1 501.4,465.1 501.6,465.1 501.6,465.1 501.8,465.1 501.8,465.1 501.9,465.1 502.0,465.1 502.1,465.1 502.2,465.1 502.2,465.1 502.3,465.1 502.4,465.1 502.5,465.1 502.5,465.1 502.7,465.1 502.7,465.1 502.9,465.1 502.9,465.1 503.0,465.1 503.1,465.1 503.2,465.1 503.3,465.1 503.3,465.1 503.4,465.1 503.5,465.1 503.6,465.1 503.6,465.1 503.8,465.1 503.8,465.1 504.0,465.1 504.0,465.1 504.1,465.1 504.2,465.1 504.3,465.1 504.4,465.1 504.4,465.1 504.5,465.1 504.6,465.1 504.7,465.1 504.8,465.1 504.9,465.1 504.9,465.1 505.1,465.1 505.1,465.1 505.2,465.1 505.3,465.1 505.4,465.1 505.5,465.1 505.5,465.1 505.6,465.1 505.7,465.1 505.8,465.1 505.9,465.1 506.0,465.1 506.0,465.1 506.2,465.1 506.2,465.1 506.3,465.1 506.4,465.1 506.5,465.1 506.5,465.1 506.6,465.1 506.7,465.1 506.8,465.1 506.9,465.1 507.0,465.1 507.1,465.1 507.1,465.1 507.3,465.1 507.3,465.1 507.4,465.1 507.5,465.1 507.6,465.1 507.6,465.1 507.7,465.1 507.8,465.1 507.9,465.1 508.0,465.1 508.1,465.1 508.2,465.1 508.2,465.1 508.4,465.1 508.4,465.1 508.5,465.1 508.6,465.1 508.7,465.1 508.7,465.1 508.8,465.1 508.9,465.1 509.0,465.1 509.1,465.1 509.2,465.1 509.3,465.1 509.3,465.1 509.5,465.1 509.5,465.1 509.6,465.1 509.7,465.1 509.8,465.1 509.8,465.1 510.0,465.1 510.0,465.1 510.1,465.1 510.2,465.1 510.3,465.1 510.4,465.1 510.4,465.1 510.6,465.1 510.6,465.1 510.7,465.1 510.8,465.1 510.9,465.1 510.9,465.1 511.1,465.1 511.1,465.1 511.2,465.1 511.3,465.1 511.4,465.1 511.5,465.1 511.5,465.1 511.7,465.1 511.7,465.1 511.8,465.1 511.9,465.1 512.0,465.1 512.0,465.1 512.2,465.1 512.2,465.1 512.3,465.1 512.4,465.1 512.5,465.1 512.6,465.1 512.6,465.1 512.8,465.1 512.8,465.1 512.9,465.1 512.9,465.1 513.1,465.1 513.1,465.1 513.3,465.1 513.3,465.1 513.4,465.1 513.5,465.1 513.6,465.1 513.7,465.1 513.7,465.1 513.9,465.1 513.9,465.1 514.0,465.1 514.0,465.1 514.2,465.1 514.2,465.1 514.4,465.1 514.4,465.1 514.5,465.1 514.6,465.1 514.7,465.1 514.8,465.1 514.8,465.1 515.0,465.1 515.0,465.1 515.1,465.1 515.2,465.1 515.3,465.1 515.3,465.1 515.5,465.1 515.5,465.1 515.6,465.1 515.7,465.1 515.8,465.1 515.9,465.1 515.9,465.1 516.1,465.1 516.1,465.1 516.2,465.1 516.3,465.1 516.4,465.1 516.4,465.1 516.6,465.1 516.6,465.1 516.8,465.1 517.0,465.1 517.2,465.1 517.3,465.1 517.5,465.1 517.7,465.1 517.9,465.1 518.1,465.1 518.3,465.1 518.4,465.1 518.6,465.1 518.8,465.1 519.0,465.1 519.2,465.1 519.3,465.1 519.5,465.1 519.7,465.1 519.9,465.1 520.1,465.1 520.3,465.1 520.4,465.1 520.6,465.1 520.8,465.1 521.0,465.1 521.2,465.1 521.4,465.1 521.5,465.1 521.7,465.1 521.9,465.1 522.1,465.1 522.3,465.1 522.5,465.1 522.6,465.1 522.8,465.1 523.0,465.1 523.2,465.1 523.4,465.1 523.6,465.1 523.7,465.1 523.9,465.1 524.1,465.1 524.3,465.1 524.5,465.1 524.7,465.1 524.8,465.1 525.0,465.1 525.2,465.1 525.4,465.1 525.6,465.1 525.7,465.1 525.8,465.1 525.9,465.1 525.9,465.1 526.0,465.1 526.1,464.0 526.1,463.7 526.1,463.4 526.2,462.9 526.3,462.7 526.3,462.6 526.3,462.8 526.4,462.5 526.4,462.2 526.4,462.3 526.5,462.3 526.5,462.8 526.6,462.7 526.6,462.7 526.7,463.0 526.7,463.0 526.7,462.9 526.8,462.9 526.8,463.2 526.8,462.9 526.9,462.9 526.9,463.2 527.0,463.1 527.0,463.0 527.0,463.1 527.1,463.4 527.2,463.5 527.2,463.3 527.2,463.3 527.3,463.6 527.3,463.6 527.4,463.6 527.4,463.5 527.4,463.5 527.5,463.8 527.5,463.7 527.6,463.9 527.6,463.9 527.7,463.7 527.7,463.8 527.7,464.0 527.8,463.9 527.8,464.0 527.8,463.8 527.9,464.0 527.9,464.0 528.0,464.1 528.0,464.2 528.1,464.2 528.1,464.2 528.1,464.2 528.1,464.1 528.2,464.2 528.3,464.3 528.3,464.3 528.3,464.2 528.4,464.4 528.5,464.4 528.5,464.4 528.5,464.3 528.5,464.3 528.6,464.4 528.6,464.4 528.7,464.4 528.7,464.4 528.8,464.4 528.8,464.4 528.9,464.5 528.9,464.5 528.9,464.5 529.0,464.6 529.0,464.6 529.0,464.6 529.1,464.6 529.1,464.6 529.2,464.7 529.2,464.6 529.2,464.7 529.3,464.7 529.4,464.6 529.4,464.7 529.4,464.7 529.4,464.7 529.5,464.7 529.6,464.7 529.6,464.8 529.6,464.8 529.7,464.8 529.7,464.7 529.8,464.8 529.8,464.7 529.8,464.8 529.9,464.8 529.9,464.8 530.0,464.8 530.0,464.8 530.0,464.8 530.1,464.8 530.1,464.9 530.2,464.9 530.2,464.8 530.2,464.9 530.3,464.9 530.3,464.9 530.4,464.9 530.4,464.9 530.5,464.9 530.5,464.9 530.5,464.9 530.6,464.9 530.7,464.9 530.7,464.9 530.7,464.9 530.7,465.0 530.8,465.0 530.8,465.0 530.9,465.0 530.9,464.9 531.0,465.0 531.0,465.0 531.0,465.0 531.1,465.0 531.1,465.0 531.1,465.0 531.2,465.0 531.2,465.0 531.3,465.0 531.3,465.0 531.4,465.0 531.4,465.0 531.5,465.0 531.5,465.0 531.5,465.0 531.6,465.0 531.6,465.0 531.6,465.0 531.7,465.0 531.8,465.0 531.8,465.0 531.8,465.0 531.9,465.0 531.9,465.1 531.9,465.0 532.0,465.0 532.0,465.0 532.1,465.0 532.1,465.1 532.1,465.1 532.2,465.1 532.2,465.1 532.3,465.1 532.3,465.1 532.4,465.1 532.4,465.1 532.4,465.1 532.5,465.1 532.6,465.1 532.7,465.1 532.7,465.1 532.9,465.1 532.9,465.1 533.0,465.1 533.1,465.1 533.2,465.1 533.2,465.1 533.3,465.1 533.4,465.1 533.5,465.1 533.6,465.1 533.7,465.1 533.8,465.1 533.8,465.1 534.0,465.1 534.0,465.1 534.1,465.1 534.2,465.1 534.3,465.1 534.3,465.1 534.4,465.1 534.5,465.1 534.6,465.1 534.7,465.1 534.8,465.1 534.9,465.1 534.9,465.1 535.1,465.1 535.1,465.1 535.2,465.1 535.3,465.1 535.4,465.1 535.4,465.1 535.6,465.1 535.6,465.1 535.7,465.1 535.8,465.1 535.9,465.1 536.0,465.1 536.0,465.1 536.2,465.1 536.2,465.1 536.3,465.1 536.4,465.1 536.5,465.1 536.5,465.1 536.7,465.1 536.7,465.1 536.8,465.1 536.9,465.1 537.0,465.1 537.1,465.1 537.1,465.1 537.3,465.1 537.3,465.1 537.4,465.1 537.4,465.1 537.6,465.1 537.6,465.1 537.8,465.1 537.8,465.1 537.9,465.1 538.0,465.1 538.1,465.1 538.2,465.1 538.2,465.1 538.4,465.1 538.4,465.1 538.5,465.1 538.5,465.1 538.7,465.1 538.7,465.1 538.9,465.1 538.9,465.1 539.0,465.1 539.1,465.1 539.2,465.1 539.3,465.1 539.3,465.1 539.5,465.1 539.5,465.1 539.6,465.1 539.7,465.1 539.8,465.1 539.8,465.1 540.0,465.1 540.0,465.1 540.1,465.1 540.2,465.1 540.3,465.1 540.4,465.1 540.4,465.1 540.6,465.1 540.6,465.1 540.7,465.1 540.8,465.1 540.9,465.1 540.9,465.1 541.1,465.1 541.1,465.1 541.2,465.1 541.3,465.1 541.4,465.1 541.5,465.1 541.7,465.1 541.8,465.1 542.0,465.1 542.2,465.1 542.4,465.1 542.6,465.1 542.8,465.1 542.9,465.1 543.1,465.1 543.3,465.1 543.5,465.1 543.7,465.1 543.8,465.1 544.0,465.1 544.2,465.1 544.4,465.1 544.6,465.1 544.8,465.1 544.9,465.1 545.1,465.1 545.3,465.1 545.5,465.1 545.7,465.1 545.9,465.1 546.0,465.1 546.2,465.1 546.4,465.1 546.6,465.1 546.8,465.1 547.0,465.1 547.0,465.1 547.1,465.1 547.2,465.1 547.3,465.1 547.3,465.1 547.5,465.1 547.5,465.1 547.6,465.1 547.7,465.1 547.8,465.1 547.9,465.1 548.0,465.1 548.1,465.1 548.1,465.1 548.2,465.1 548.3,465.1 548.4,465.1 548.4,465.1 548.6,465.1 548.6,465.1 548.7,465.1 548.8,465.1 548.9,465.1 549.0,465.1 549.1,465.1 549.2,465.1 549.2,465.1 549.3,465.1 549.4,465.1 549.5,465.1 549.5,465.1 549.7,465.1 549.7,465.1 549.8,465.1 549.9,465.1 550.0,465.1 550.1,465.1 550.2,465.1 550.2,465.1 550.3,465.1 550.4,465.1 550.5,465.1 550.6,465.1 550.6,465.1 550.8,465.1 550.8,465.1 551.0,465.1 551.0,465.1 551.1,465.1 551.2,465.1 551.3,465.1 551.3,465.1 551.4,465.1 551.5,465.1 551.6,465.1 551.7,465.1 551.7,465.1 551.9,465.1 551.9,465.1 552.1,465.1 552.1,465.1 552.2,465.1 552.3,465.1 552.4,465.1 552.4,465.1 552.5,465.1 552.6,465.1 552.7,465.1 552.8,465.1 552.8,465.1 553.0,465.1 553.0,465.1 553.2,465.1 553.2,465.1 553.3,465.1 553.4,465.1 553.5,465.1 553.5,465.1 553.6,465.1 553.7,465.1 553.8,465.1 553.9,465.1 553.9,465.1 554.1,465.1 554.1,465.1 554.3,465.1 554.3,465.1 554.4,465.1 554.5,465.1 554.6,465.1 554.6,465.1 554.7,465.1 554.8,465.1 554.9,465.1 555.0,465.1 555.0,465.1 555.2,465.1 555.2,465.1 555.4,465.1 555.4,465.1 555.5,465.1 555.6,465.1 555.7,465.1 555.7,465.1 555.8,465.1 555.9,465.1 556.0,465.1 556.1,465.1 556.2,465.1 556.3,465.1 556.3,465.1 556.5,465.1 556.5,465.1 556.6,465.1 556.6,465.1 556.8,465.1 556.8,465.1 556.9,465.1 557.0,465.1 557.1,465.1 557.2,465.1 557.3,465.1 557.4,465.1 557.4,465.1 557.6,465.1 557.6,465.1 557.7,465.1 557.7,465.1 557.9,465.1 557.9,465.1 558.0,465.1 558.1,465.1 558.2,465.1 558.3,465.1 558.4,465.1 558.5,465.1 558.5,465.1 558.7,465.1 558.7,465.1 558.8,465.1 558.8,465.1 559.0,465.1 559.0,465.1 559.1,465.1 559.2,465.1 559.3,465.1 559.4,465.1 559.5,465.1 559.6,465.1 559.6,465.1 559.8,465.1 559.8,465.1 559.9,465.1 559.9,465.1 560.1,465.1 560.1,465.1 560.3,465.1 560.3,465.1 560.4,465.1 560.5,465.1 560.6,465.1 560.7,465.1 560.7,465.1 560.9,465.1 560.9,465.1 561.0,465.1 561.0,465.1 561.2,465.1 561.2,465.1 561.4,465.1 561.4,465.1 561.5,465.1 561.6,465.1 561.7,465.1 561.8,465.1 561.8,465.1 562.0,465.1 562.0,465.1 562.1,465.1 562.1,465.1 562.3,465.1 562.3,465.1 562.5,465.1 562.5,465.1 562.6,465.1 562.7,465.1 562.9,465.1 563.0,465.1 563.2,465.1 563.4,465.1 563.6,465.1 563.8,465.1 564.0,465.1 564.1,465.1 564.3,465.1 564.5,465.1 564.7,465.1 564.9,465.1 565.1,465.1 565.2,465.1 565.4,465.1 565.6,465.1 565.8,465.1 566.0,465.1 566.2,465.1 566.3,465.1 566.5,465.1 566.7,465.1 566.9,465.1 567.1,465.1 567.3,465.1 567.4,465.1 567.6,465.1 567.8,465.1 568.0,465.1 568.2,465.1 568.3,465.1 568.5,465.1 568.7,465.1 568.9,465.1 569.1,465.1 569.3,465.1 569.4,465.1 569.6,465.1 569.8,465.1 570.0,465.1 570.2,465.1 570.4,465.1 570.5,465.1 570.7,465.1 570.9,465.1 571.1,465.1 571.3,465.1 571.5,465.1 571.6,465.1 571.8,465.1 572.0,465.1 572.2,465.1 572.4,465.1 572.6,465.1 572.7,465.1 572.9,465.1 573.1,465.1 573.3,465.1 573.5,465.1 573.7,465.1 573.8,465.1 574.0,465.1 574.2,465.1 574.4,465.1 574.6,465.1 574.7,465.1 574.9,465.1 575.1,465.1 575.3,465.1 575.5,465.1 575.7,465.1 575.8,465.1 576.0,465.1 576.2,465.1 576.4,465.1 576.6,465.1 576.8,465.1 576.9,465.1 577.1,465.1 577.3,465.1 577.5,465.1 577.7,465.1 577.9,465.1 578.0,465.1 578.2,465.1 578.4,465.1 578.6,465.1 578.8,465.1 579.0,465.1 579.1,465.1 579.3,465.1 579.5,465.1 579.7,465.1 579.9,465.1 580.1,465.1 580.2,465.1 580.4,465.1 580.6,465.1 580.8,465.1 581.0,465.1 581.1,465.1 581.3,465.1 581.5,465.1 581.7,465.1 581.9,465.1 582.1,465.1 582.2,465.1 582.4,465.1 582.6,465.1 582.8,465.1 583.0,465.1 583.2,465.1 583.3,465.1 583.5,465.1 583.7,465.1 583.9,465.1 584.1,465.1 584.3,465.1 584.4,465.1 584.6,465.1 584.8,465.1 585.0,465.1 585.2,465.1 585.4,465.1 585.5,465.1 585.5,465.1 585.7,465.1 585.7,465.1 585.8,465.1 585.8,463.8 585.8,463.6 585.9,463.0 585.9,462.8 586.0,462.5 586.0,462.3 586.1,462.6 586.1,462.2 586.1,462.4 586.2,462.6 586.3,462.3 586.3,462.6 586.3,462.5 586.3,462.6 586.4,462.9 586.5,462.8 586.5,463.0 586.5,462.8 586.6,463.2 586.6,463.2 586.6,462.9 586.7,463.0 586.7,463.1 586.8,463.2 586.8,463.3 586.8,463.2 586.9,463.4 586.9,463.3 587.0,463.6 587.0,463.5 587.1,463.5 587.1,463.7 587.1,463.5 587.2,463.5 587.2,463.6 587.2,463.7 587.3,463.8 587.4,463.8 587.4,463.8 587.4,463.9 587.5,463.8 587.5,463.9 587.5,464.1 587.6,463.8 587.6,463.9 587.7,464.0 587.7,464.2 587.7,464.0 587.8,464.0 587.9,464.1 587.9,464.2 587.9,464.2 588.0,464.2 588.0,464.2 588.0,464.2 588.1,464.3 588.1,464.3 588.2,464.3 588.2,464.3 588.3,464.4 588.3,464.4 588.3,464.3 588.4,464.4 588.4,464.5 588.5,464.5 588.5,464.5 588.5,464.5 588.6,464.5 588.6,464.5 588.7,464.5 588.7,464.5 588.8,464.5 588.8,464.6 588.8,464.6 588.8,464.6 588.9,464.6 589.0,464.7 589.0,464.6 589.0,464.6 589.1,464.6 589.1,464.7 589.2,464.7 589.2,464.7 589.2,464.7 589.3,464.7 589.3,464.7 589.4,464.8 589.4,464.8 589.4,464.8 589.5,464.7 589.6,464.8 589.6,464.8 589.6,464.8 589.7,464.8 589.7,464.8 589.7,464.8 589.8,464.8 589.8,464.8 589.9,464.8 589.9,464.9 589.9,464.9 590.0,464.9 590.1,464.9 590.1,464.9 590.1,464.9 590.1,464.9 590.2,464.9 590.2,464.9 590.3,464.9 590.3,464.9 590.4,464.9 590.4,464.9 590.5,464.9 590.5,465.0 590.5,464.9 590.6,465.0 590.6,465.0 590.7,465.0 590.7,465.0 590.7,465.0 590.8,465.0 590.8,465.0 590.9,465.0 590.9,465.0 590.9,465.0 591.0,465.0 591.0,465.0 591.0,465.0 591.1,465.0 591.2,465.0 591.2,465.0 591.2,465.0 591.3,465.0 591.3,465.0 591.4,465.0 591.4,465.0 591.4,465.0 591.5,465.0 591.5,465.0 591.6,465.0 591.6,465.0 591.7,465.0 591.7,465.0 591.8,465.0 591.8,465.0 591.8,465.1 591.8,465.1 591.9,465.1 591.9,465.1 592.0,465.1 592.0,465.1 592.1,465.1 592.1,465.1 592.1,465.1 592.2,465.1 592.3,465.1 592.3,465.1 592.4,465.1 592.5,465.1 592.6,465.1 592.7,465.1 592.8,465.1 592.9,465.1 592.9,465.1 593.0,465.1 593.1,465.1 593.2,465.1 593.2,465.1 593.4,465.1 593.4,465.1 593.5,465.1 593.6,465.1 593.7,465.1 593.8,465.1 593.9,465.1 593.9,465.1 594.0,465.1 594.1,465.1 594.2,465.1 594.3,465.1 594.3,465.1 594.5,465.1 594.5,465.1 594.7,465.1 594.7,465.1 594.8,465.1 594.9,465.1 595.0,465.1 595.0,465.1 595.1,465.1 595.2,465.1 595.3,465.1 595.4,465.1 595.4,465.1 595.6,465.1 595.6,465.1 595.8,465.1 595.8,465.1 595.9,465.1 596.0,465.1 596.1,465.1 596.1,465.1 596.2,465.1 596.3,465.1 596.4,465.1 596.5,465.1 596.5,465.1 596.7,465.1 596.7,465.1 596.9,465.1 596.9,465.1 597.0,465.1 597.1,465.1 597.2,465.1 597.2,465.1 597.3,465.1 597.4,465.1 597.5,465.1 597.6,465.1 597.6,465.1 597.8,465.1 597.8,465.1 598.0,465.1 598.0,465.1 598.1,465.1 598.2,465.1 598.3,465.1 598.3,465.1 598.4,465.1 598.5,465.1 598.6,465.1 598.7,465.1 598.7,465.1 598.9,465.1 598.9,465.1 599.1,465.1 599.1,465.1 599.2,465.1 599.3,465.1 599.4,465.1 599.4,465.1 599.5,465.1 599.6,465.1 599.7,465.1 599.8,465.1 599.9,465.1 600.0,465.1 600.0,465.1 600.2,465.1 600.2,465.1 600.3,465.1 600.3,465.1 600.5,465.1 600.5,465.1 600.6,465.1 600.7,465.1 600.8,465.1 600.9,465.1 601.0,465.1 601.1,465.1 601.1,465.1 601.3,465.1 601.4,465.1 601.6,465.1 601.8,465.1 602.0,465.1 602.2,465.1 602.4,465.1 602.5,465.1 602.7,465.1 602.9,465.1 603.1,465.1 603.3,465.1 603.5,465.1 603.6,465.1 603.8,465.1 604.0,465.1 604.2,465.1 604.4,465.1 604.6,465.1 604.7,465.1 604.9,465.1 605.1,465.1 605.3,465.1 605.5,465.1 605.7,465.1 605.8,465.1 606.0,465.1 606.2,465.1 606.4,465.1 606.6,465.1 606.7,465.1 606.9,465.1 607.1,465.1 607.3,465.1 607.5,465.1 607.7,465.1 607.8,465.1 608.0,465.1 608.2,465.1 608.4,465.1 608.6,465.1 608.8,465.1 608.9,465.1 609.1,465.1 609.3,465.1 609.5,465.1 609.7,465.1 609.9,465.1 610.0,465.1 610.2,465.1 610.4,465.1 610.6,465.1 610.8,465.1 611.0,465.1 611.1,465.1 611.3,465.1 611.5,465.1 611.7,465.1 611.9,465.1 612.0,465.1 612.2,465.1 612.4,465.1 612.6,465.1 612.8,465.1 613.0,465.1 613.1,465.1 613.3,465.1 613.5,465.1 613.7,465.1 613.9,465.1 614.1,465.1 614.2,465.1 614.4,465.1 614.6,465.1 614.8,465.1 615.0,465.1 615.2,465.1 615.3,465.1 615.5,465.1 615.7,465.1 615.9,465.1 616.1,465.1 616.3,465.1 616.4,465.1 616.6,465.1 616.8,465.1 617.0,465.1 617.2,465.1 617.4,465.1 617.5,465.1 617.7,465.1 617.9,465.1 618.1,465.1 618.3,465.1 618.4,465.1 618.6,465.1 618.8,465.1 619.0,465.1 619.2,465.1 619.4,465.1 619.5,465.1 619.7,465.1 619.9,465.1 620.1,465.1 620.3,465.1 620.5,465.1 620.6,465.1 620.8,465.1 621.0,465.1 621.2,465.1 621.4,465.1 621.6,465.1 621.7,465.1 621.9,465.1 622.1,465.1 622.3,465.1 622.5,465.1 622.7,465.1 622.8,465.1 623.0,465.1 623.2,465.1 623.4,465.1 623.6,465.1 623.8,465.1 623.9,465.1 624.1,465.1 624.3,465.1 624.5,465.1 624.7,465.1 624.8,465.1 625.0,465.1 625.2,465.1 625.4,465.1 625.6,465.1 625.8,465.1 625.9,465.1 626.1,465.1 626.3,465.1 626.5,465.1 626.7,465.1 626.9,465.1 627.0,465.1 627.2,465.1 627.4,465.1 627.6,465.1 627.8,465.1 628.0,465.1 628.1,465.1 628.3,465.1 628.5,465.1 628.7,465.1 628.9,465.1 629.1,465.1 629.2,465.1 629.4,465.1 629.6,465.1 629.8,465.1 630.0,465.1 630.2,465.1 630.3,465.1 630.5,465.1 630.7,465.1 630.9,465.1 631.1,465.1 631.2,465.1 631.4,465.1 631.6,465.1 631.8,465.1 632.0,465.1 632.2,465.1 632.3,465.1 632.5,465.1 632.7,465.1 632.9,465.1 633.1,465.1 633.3,465.1 633.4,465.1 633.6,465.1 633.8,465.1 634.0,465.1 634.2,465.1 634.4,465.1 634.5,465.1 634.7,465.1 634.9,465.1 635.1,465.1 635.3,465.1 635.5,465.1 635.6,465.1 635.6,465.1 635.8,465.1 635.8,465.1 636.0,465.1 636.0,465.1 636.1,465.1 636.2,465.1 636.3,465.1 636.4,465.1 636.4,465.1 636.6,465.1 636.6,465.1 636.7,465.1 636.7,465.1 636.9,465.1 636.9,465.1 637.1,465.1 637.1,465.1 637.2,465.1 637.3,465.1 637.4,465.1 637.5,465.1 637.5,465.1 637.6,465.1 637.7,465.1 637.8,465.1 637.9,465.1 638.0,465.1 638.0,465.1 638.2,465.1 638.2,465.1 638.3,465.1 638.4,465.1 638.5,465.1 638.6,465.1 638.6,465.1 638.7,465.1 638.8,465.1 638.9,465.1 639.0,465.1 639.1,465.1 639.1,465.1 639.3,465.1 639.3,465.1 639.4,465.1 639.5,465.1 639.6,465.1 639.7,465.1 639.7,465.1 639.8,465.1 639.9,465.1 640.0,465.1 640.1,465.1 640.2,465.1 640.2,465.1 640.4,465.1 640.4,465.1 640.5,465.1 640.6,465.1 640.7,465.1 640.8,465.1 640.8,465.1 640.9,465.1 641.0,465.1 641.1,465.1 641.2,465.1 641.3,465.1 641.3,465.1 641.5,465.1 641.5,465.1 641.6,465.1 641.7,465.1 641.8,465.1 641.9,465.1 642.0,465.1 642.0,465.1 642.1,465.1 642.2,465.1 642.3,465.1 642.4,465.1 642.4,465.1 642.6,465.1 642.6,465.1 642.7,465.1 642.8,465.1 642.9,465.1 643.0,465.1 643.1,465.1 643.1,465.1 643.2,465.1 643.3,465.1 643.4,465.1 643.5,465.1 643.5,465.1 643.7,465.1 643.7,465.1 643.8,465.1 643.9,465.1 644.0,465.1 644.0,465.1 644.2,465.1 644.2,465.1 644.3,465.1 644.4,465.1 644.5,465.1 644.6,465.1 644.6,465.1 644.8,465.1 644.8,465.1 644.9,465.1 645.0,465.1 645.1,465.1 645.1,465.1 645.3,465.1 645.3,465.1 645.4,465.1 645.5,465.1 645.6,465.1 645.7,465.1 645.7,465.1 645.9,465.1 645.9,465.1 646.0,465.1 646.1,465.1 646.2,465.1 646.2,465.1 646.4,465.1 646.4,465.1 646.5,465.1 646.6,465.1 646.7,465.1 646.8,465.1 646.8,465.1 647.0,465.1 647.0,465.1 647.2,465.1 647.2,465.1 647.3,465.1 647.3,465.1 647.5,465.1 647.5,465.1 647.6,465.1 647.7,465.1 647.8,465.1 647.9,465.1 647.9,465.1 648.1,465.1 648.1,465.1 648.3,465.1 648.3,465.1 648.4,465.1 648.4,465.1 648.6,465.1 648.6,465.1 648.7,465.1 648.8,465.1 648.9,465.1 649.0,465.1 649.0,465.1 649.2,465.1 649.2,465.1 649.4,465.1 649.4,465.1 649.5,465.1 649.5,465.1 649.7,465.1 649.7,465.1 649.8,465.1 649.9,465.1 650.0,465.1 650.1,465.1 650.1,465.1 650.3,465.1 650.3,465.1 650.4,465.1 650.5,465.1 650.6,465.1 650.6,465.1 650.8,465.1 650.8,465.1 650.9,465.1 651.0,465.1 651.1,465.1 651.2,465.1 651.3,465.1 651.4,465.1 651.5,465.1 651.7,465.1 651.9,465.1 652.1,465.1 652.3,465.1 652.5,465.1 652.6,465.1 652.8,465.1 653.0,465.1 653.2,465.1 653.4,465.1 653.6,465.1 653.7,465.1 653.9,465.1 654.1,465.1 654.3,465.1 654.5,465.1 654.7,465.1 654.8,465.1 655.0,465.1 655.2,465.1 655.4,465.1 655.6,465.1 655.7,465.1 655.9,465.1 656.1,465.1 656.3,465.1 656.5,465.1 656.7,465.1 656.8,465.1 657.0,465.1 657.2,465.1 657.4,465.1 657.6,465.1 657.8,465.1 657.9,465.1 658.1,465.1 658.3,465.1 658.5,465.1 658.7,465.1 658.9,465.1 659.0,465.1 659.2,465.1 659.4,465.1 659.6,465.1 659.8,465.1 660.0,465.1 660.1,465.1 660.3,465.1 660.5,465.1 660.7,465.1 660.9,465.1 661.1,465.1 661.2,465.1 661.4,465.1 661.6,465.1 661.8,465.1 662.0,465.1 662.1,465.1 662.3,465.1 662.5,465.1 662.7,465.1 662.9,465.1 663.1,465.1 663.2,465.1 663.4,465.1 663.6,465.1 663.8,465.1 664.0,465.1 664.2,465.1 664.3,465.1 664.5,465.1 664.7,465.1 664.9,465.1 665.1,465.1 665.3,465.1 665.4,465.1 665.6,465.1 665.8,465.1 666.0,465.1 666.2,465.1 666.4,465.1 666.5,465.1 666.7,465.1 666.9,465.1 667.1,465.1 667.3,465.1 667.4,465.1 667.5,465.1 667.5,465.1 667.6,465.1 667.6,464.8 667.7,464.0 667.7,463.6 667.8,463.1 667.8,462.5 667.8,462.7 667.9,462.6 667.9,462.4 668.0,462.3 668.0,462.7 668.0,462.3 668.1,462.5 668.2,462.8 668.2,462.6 668.2,462.8 668.3,462.9 668.3,462.9 668.3,462.8 668.4,462.8 668.4,462.8 668.5,463.2 668.5,463.0 668.5,463.1 668.6,463.1 668.6,463.1 668.7,463.4 668.7,463.2 668.8,463.3 668.8,463.3 668.8,463.5 668.9,463.4 668.9,463.6 668.9,463.5 669.0,463.6 669.1,463.6 669.1,463.8 669.1,463.6 669.2,463.6 669.2,463.9 669.3,463.7 669.3,463.8 669.3,463.8 669.4,463.9 669.4,463.9 669.5,463.9 669.5,464.1 669.6,464.1 669.6,464.1 669.6,464.2 669.6,464.0 669.7,464.2 669.7,464.1 669.8,464.2 669.8,464.2 669.9,464.3 669.9,464.2 670.0,464.2 670.0,464.3 670.0,464.4 670.0,464.3 670.1,464.4 670.2,464.4 670.2,464.4 670.2,464.5 670.3,464.4 670.4,464.5 670.4,464.5 670.4,464.5 670.5,464.5 670.5,464.6 670.5,464.6 670.6,464.6 670.6,464.5 670.7,464.6 670.7,464.6 670.7,464.6 670.8,464.6 670.8,464.7 670.9,464.6 670.9,464.7 670.9,464.6 671.0,464.7 671.0,464.6 671.1,464.7 671.1,464.8 671.1,464.7 671.2,464.7 671.3,464.8 671.3,464.8 671.3,464.8 671.3,464.8 671.4,464.8 671.5,464.8 671.5,464.8 671.5,464.8 671.6,464.8 671.6,464.8 671.7,464.8 671.7,464.8 671.7,464.8 671.8,464.9 671.8,464.8 671.8,464.9 671.9,464.9 671.9,464.9 672.0,464.9 672.0,464.9 672.1,464.9 672.1,464.9 672.2,464.9 672.2,464.9 672.2,464.9 672.3,464.9 672.3,464.9 672.4,464.9 672.4,464.9 672.4,465.0 672.5,465.0 672.6,465.0 672.6,465.0 672.6,465.0 672.6,465.0 672.7,465.0 672.7,465.0 672.8,465.0 672.8,465.0 672.9,465.0 672.9,465.0 672.9,465.0 673.0,465.0 673.0,465.0 673.0,465.0 673.1,465.0 673.1,465.0 673.2,465.0 673.2,465.0 673.3,465.0 673.3,465.0 673.4,465.0 673.4,465.0 673.4,465.1 673.5,465.0 673.5,465.0 673.5,465.0 673.6,465.0 673.7,465.1 673.7,465.1 673.7,465.1 673.8,465.1 673.8,465.1 673.9,465.1 673.9,465.1 673.9,465.1 674.0,465.1 674.0,465.1 674.0,465.1 674.1,465.1 674.2,465.1 674.3,465.1 674.4,465.1" fill="none" stroke="#0072BD" stroke-width="2.0" stroke-linejoin="round" /><polygon points="443.7,465.1 443.9,460.7 444.8,460.7 445.8,461.3 447.6,463.2 449.6,464.4 452.1,465.1" fill="#0072BD" stroke="#0072BD" stroke-width="1.2" stroke-linejoin="round"/><polygon points="526.0,465.1 526.1,460.7 527.1,460.7 528.1,461.3 529.9,463.2 531.8,464.4 534.3,465.1" fill="#0072BD" stroke="#0072BD" stroke-width="1.2" stroke-linejoin="round"/><polygon points="585.7,465.1 585.8,460.7 586.8,460.7 587.8,461.3 589.6,463.2 591.5,464.4 594.1,465.1" fill="#0072BD" stroke="#0072BD" stroke-width="1.2" stroke-linejoin="round"/><polygon points="667.6,465.1 667.7,460.7 668.6,460.7 669.7,461.3 671.5,463.2 673.4,464.4 675.9,465.1" fill="#0072BD" stroke="#0072BD" stroke-width="1.2" stroke-linejoin="round"/></g>
<rect x="29.30" y="171.00" width="4.73" height="1.58" fill="#262626"/><text x="34.76" y="176.73" class="tk">2</text>
<rect x="29.30" y="140.24" width="4.73" height="1.58" fill="#262626"/><path d="M0.30,0 L0.385,0 L0.385,0.703 L0.318,0.703 C0.29,0.62 0.2,0.545 0.10,0.515 L0.10,0.44 C0.18,0.46 0.25,0.5 0.30,0.545 Z" transform="translate(34.76,145.97) scale(21.3,-21.3)" fill="#262626"/>
<text x="34.76" y="115.20" class="tk">0</text>
<path d="M0.30,0 L0.385,0 L0.385,0.703 L0.318,0.703 C0.29,0.62 0.2,0.545 0.10,0.515 L0.10,0.44 C0.18,0.46 0.25,0.5 0.30,0.545 Z" transform="translate(34.76,84.43) scale(21.3,-21.3)" fill="#262626"/>
<text x="34.76" y="53.67" class="tk">2</text>
<text x="46.88" y="227.10" class="tk">0</text>
<path d="M0.30,0 L0.385,0 L0.385,0.703 L0.318,0.703 C0.29,0.62 0.2,0.545 0.10,0.515 L0.10,0.44 C0.18,0.46 0.25,0.5 0.30,0.545 Z" transform="translate(174.16,227.10) scale(21.3,-21.3)" fill="#262626"/><text x="186.00" y="227.10" class="tk">0</text>
<text x="307.36" y="227.10" class="tk">2</text><text x="319.20" y="227.10" class="tk">0</text>
<text x="400.76" y="207.50" class="tk">0</text>
<text x="382.99" y="119.60" class="tk">0</text><text x="394.84" y="119.60" class="tk">.</text><text x="400.76" y="119.60" class="tk">5</text>
<path d="M0.30,0 L0.385,0 L0.385,0.703 L0.318,0.703 C0.29,0.62 0.2,0.545 0.10,0.515 L0.10,0.44 C0.18,0.46 0.25,0.5 0.30,0.545 Z" transform="translate(400.76,31.69) scale(21.3,-21.3)" fill="#262626"/>
<text x="412.88" y="227.10" class="tk">0</text>
<path d="M0.30,0 L0.385,0 L0.385,0.703 L0.318,0.703 C0.29,0.62 0.2,0.545 0.10,0.515 L0.10,0.44 C0.18,0.46 0.25,0.5 0.30,0.545 Z" transform="translate(534.81,227.10) scale(21.3,-21.3)" fill="#262626"/><text x="546.65" y="227.10" class="tk">0</text>
<text x="662.66" y="227.10" class="tk">2</text><text x="674.50" y="227.10" class="tk">0</text>
<text x="32.46" y="474.50" class="tk">0</text>
<text x="32.46" y="429.25" class="tk">2</text>
<text x="32.46" y="384.00" class="tk">4</text>
<text x="32.46" y="338.75" class="tk">6</text>
<text x="32.46" y="293.50" class="tk">8</text>
<text x="44.58" y="494.10" class="tk">0</text>
<path d="M0.30,0 L0.385,0 L0.385,0.703 L0.318,0.703 C0.29,0.62 0.2,0.545 0.10,0.515 L0.10,0.44 C0.18,0.46 0.25,0.5 0.30,0.545 Z" transform="translate(172.71,494.10) scale(21.3,-21.3)" fill="#262626"/><text x="184.55" y="494.10" class="tk">0</text>
<text x="306.76" y="494.10" class="tk">2</text><text x="318.60" y="494.10" class="tk">0</text>
<text x="400.56" y="473.50" class="tk">0</text>
<text x="382.79" y="385.40" class="tk">0</text><text x="394.64" y="385.40" class="tk">.</text><text x="400.56" y="385.40" class="tk">5</text>
<path d="M0.30,0 L0.385,0 L0.385,0.703 L0.318,0.703 C0.29,0.62 0.2,0.545 0.10,0.515 L0.10,0.44 C0.18,0.46 0.25,0.5 0.30,0.545 Z" transform="translate(400.56,297.31) scale(21.3,-21.3)" fill="#262626"/>
<text x="412.68" y="493.10" class="tk">0</text>
<path d="M0.30,0 L0.385,0 L0.385,0.703 L0.318,0.703 C0.29,0.62 0.2,0.545 0.10,0.515 L0.10,0.44 C0.18,0.46 0.25,0.5 0.30,0.545 Z" transform="translate(534.66,493.10) scale(21.3,-21.3)" fill="#262626"/><text x="546.50" y="493.10" class="tk">0</text>
<text x="662.56" y="493.10" class="tk">2</text><text x="674.40" y="493.10" class="tk">0</text>
<text x="1.2" y="10.3" class="pl">(a)</text>
<text x="356.1" y="10.3" class="pl">(b)</text>
<text x="1.2" y="275.9" class="pl">(c)</text>
<text x="355.6" y="275.9" class="pl">(d)</text>
<text transform="translate(159.24,253.40) scale(1.0,1)" class="lab it" style="font-size:24.0px">t</text><text transform="translate(172.80,253.40) scale(1.0,1)" class="lab" style="font-size:25.0px">(</text><text transform="translate(181.00,253.40) scale(1.12,1)" class="lab it" style="font-size:22.5px">μ</text><text transform="translate(194.41,253.40) scale(1.1,1)" class="lab" style="font-size:22.5px">s</text><text transform="translate(204.55,253.40) scale(1.0,1)" class="lab" style="font-size:25.0px">)</text>
<text transform="translate(519.64,253.40) scale(1.0,1)" class="lab it" style="font-size:24.0px">t</text><text transform="translate(533.20,253.40) scale(1.0,1)" class="lab" style="font-size:25.0px">(</text><text transform="translate(541.40,253.40) scale(1.12,1)" class="lab it" style="font-size:22.5px">μ</text><text transform="translate(554.81,253.40) scale(1.1,1)" class="lab" style="font-size:22.5px">s</text><text transform="translate(564.95,253.40) scale(1.0,1)" class="lab" style="font-size:25.0px">)</text>
<text transform="translate(158.34,518.90) scale(1.0,1)" class="lab it" style="font-size:24.0px">t</text><text transform="translate(171.90,518.90) scale(1.0,1)" class="lab" style="font-size:25.0px">(</text><text transform="translate(180.10,518.90) scale(1.12,1)" class="lab it" style="font-size:22.5px">μ</text><text transform="translate(193.51,518.90) scale(1.1,1)" class="lab" style="font-size:22.5px">s</text><text transform="translate(203.65,518.90) scale(1.0,1)" class="lab" style="font-size:25.0px">)</text>
<text transform="translate(519.24,518.60) scale(1.0,1)" class="lab it" style="font-size:24.0px">t</text><text transform="translate(532.80,518.60) scale(1.0,1)" class="lab" style="font-size:25.0px">(</text><text transform="translate(541.00,518.60) scale(1.12,1)" class="lab it" style="font-size:22.5px">μ</text><text transform="translate(554.41,518.60) scale(1.1,1)" class="lab" style="font-size:22.5px">s</text><text transform="translate(564.55,518.60) scale(1.0,1)" class="lab" style="font-size:25.0px">)</text>
<text transform="translate(19.10,138.76) rotate(-90) scale(1.08,1)" class="lab it" style="font-size:22.5px">x</text><text transform="translate(18.10,122.60) rotate(-90) scale(1.0,1)" class="lab" style="font-size:25.0px">(</text><text transform="translate(19.10,113.00) rotate(-90) scale(1.05,1)" class="lab" style="font-size:22.5px">n</text><text transform="translate(19.10,101.47) rotate(-90) scale(1.05,1)" class="lab" style="font-size:22.5px">m</text><text transform="translate(18.10,81.95) rotate(-90) scale(1.0,1)" class="lab" style="font-size:25.0px">)</text>
<text transform="translate(372.60,130.53) rotate(-90) scale(1.25,1)" class="lab it" style="font-size:22.5px">n</text><text transform="translate(372.60,115.56) rotate(-90) scale(1.0,1)" class="lab" style="font-size:24.0px">,</text><text transform="translate(372.60,104.34) rotate(-90) scale(1.07,1)" class="lab it" style="font-size:24.5px">N</text>
<text transform="translate(22.50,406.12) rotate(-90) scale(1.25,1)" class="lab it" style="font-size:22.5px">n</text><text transform="translate(26.20,392.38) rotate(-90) scale(1.18,1)" class="lab" style="font-size:14.5px">e</text><text transform="translate(22.50,382.56) rotate(-90) scale(1.0,1)" class="lab" style="font-size:24.0px">,</text><text transform="translate(22.50,371.95) rotate(-90) scale(1.07,1)" class="lab it" style="font-size:23.5px">N</text><text transform="translate(26.20,354.11) rotate(-90) scale(1.07,1)" class="lab" style="font-size:14.5px">p</text>
<text transform="translate(372.80,380.52) rotate(-90) scale(1.25,1)" class="lab it" style="font-size:22.5px">n</text>
<text x="455.60" y="36.90" class="an" style="font-size:12.5px">n</text><text x="463.00" y="39.00" class="an" style="font-size:8.6px">B</text>
<text x="424.10" y="178.10" class="an" style="font-size:12.5px">n</text><text x="430.70" y="180.20" class="an" style="font-size:8.6px">A</text>
<text x="463.90" y="82.20" class="an" style="font-size:12.5px">n</text><text x="470.60" y="85.20" class="an" style="font-style:normal;font-size:8.6px">1,2</text>
<text x="464.12" y="99.30" class="an" style="font-size:12.5px">N</text><text x="471.00" y="102.30" class="an" style="font-style:normal;font-size:8.6px">1,2</text>
<text x="114.83" y="414.90" class="an" style="font-size:12.5px">N</text><text x="123.20" y="417.00" class="an" style="font-size:8.6px">p</text>
<text x="115.20" y="456.30" class="an" style="font-size:12.5px">n</text><text x="122.00" y="458.40" class="an" style="font-size:8.6px">e</text>
<text x="435.80" y="299.60" class="an" style="font-size:12.5px">n</text><text x="443.00" y="302.20" class="an" style="font-size:8.6px">H</text>
<text x="463.70" y="459.80" class="an" style="font-size:12.5px">n</text><text x="470.90" y="462.20" class="an" style="font-size:8.6px">L</text>
<line x1="477.8" y1="73.6" x2="502.82" y2="36.25" stroke="#000" stroke-width="1.2"/><polygon points="505.6,32.1 504.65,37.48 500.99,35.03" fill="#000"/>
<line x1="482.3" y1="91.1" x2="515.50" y2="39.21" stroke="#000" stroke-width="1.2"/><polygon points="518.2,35.0 517.36,40.40 513.65,38.03" fill="#000"/>
</svg></body></html>
